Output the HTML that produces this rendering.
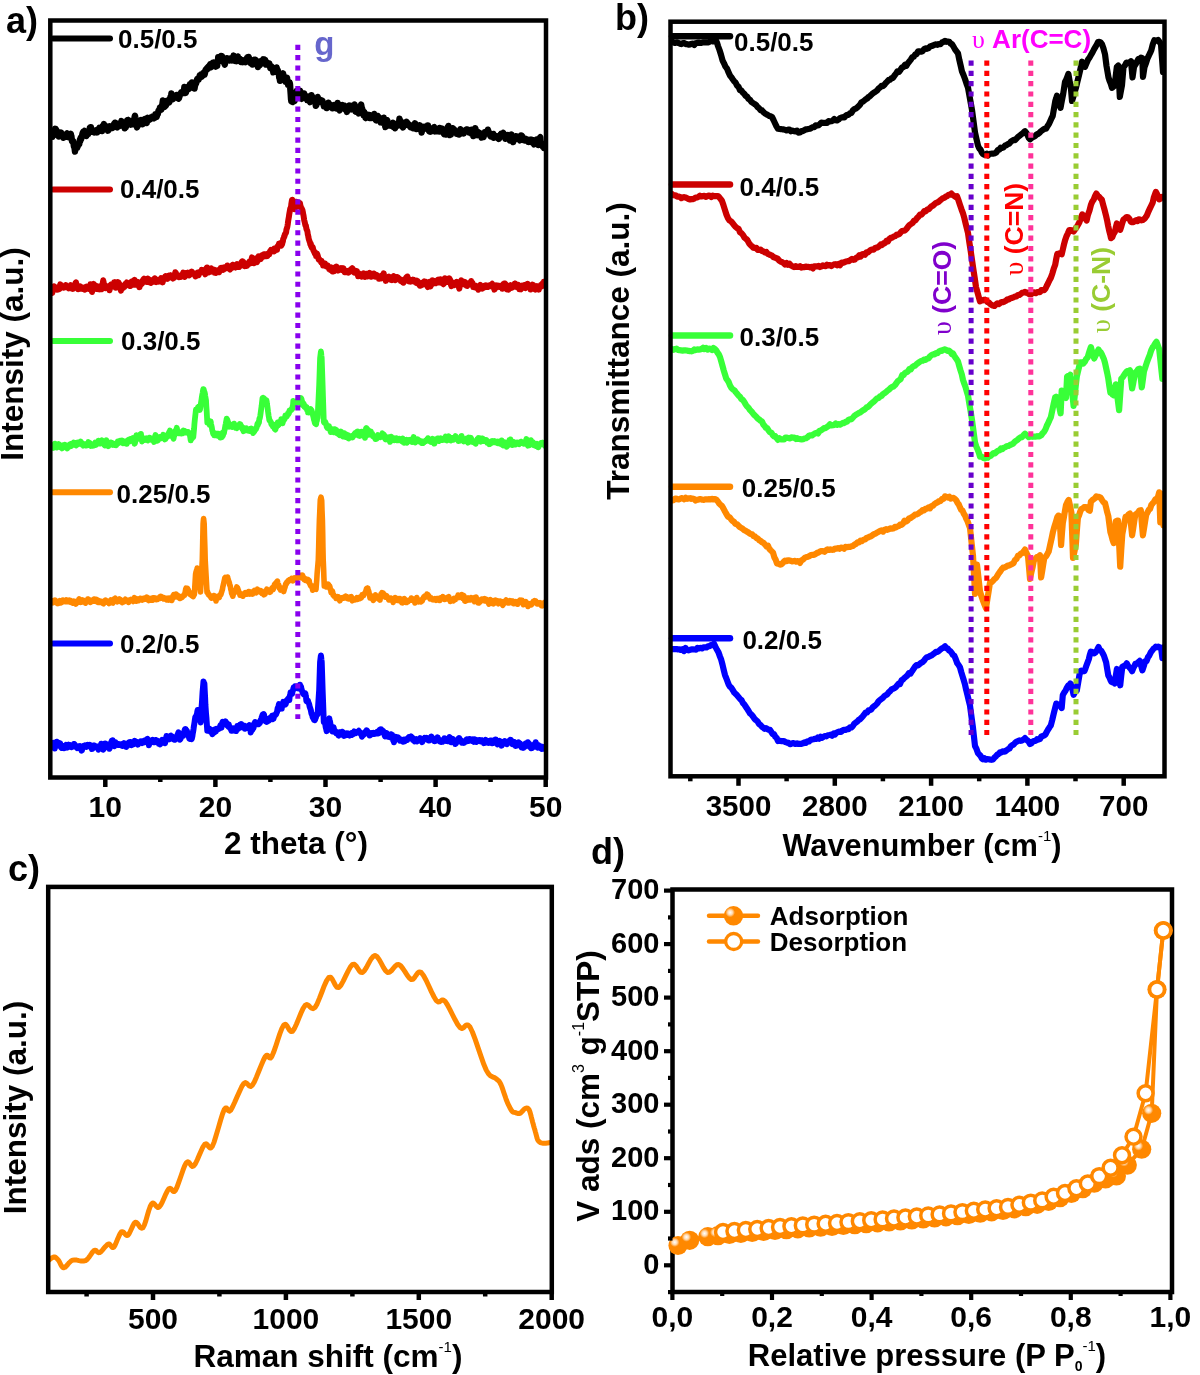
<!DOCTYPE html>
<html><head><meta charset="utf-8"><style>
html,body{margin:0;padding:0;background:#fff;}
svg{display:block;will-change:transform;}
text{-webkit-font-smoothing:antialiased;}
body{-webkit-font-smoothing:antialiased;}
</style></head><body>
<svg width="1200" height="1375" viewBox="0 0 1200 1375">
<rect width="1200" height="1375" fill="#fff"/>
<defs>
<clipPath id="clipA"><rect x="50.3" y="20.5" width="495.7" height="757.0"/></clipPath>
<clipPath id="clipB"><rect x="670.5" y="21.7" width="494.0" height="754.5999999999999"/></clipPath>
<clipPath id="clipD"><rect x="672.5" y="889.5" width="499.5" height="402.5"/></clipPath>
</defs>
<g clip-path="url(#clipA)">
<path d="M52 136.5 L52.4 136.7 L52.8 135.3 L53.1 135.3 L53.5 131.6 L53.9 133 L54.2 130.5 L54.6 130.5 L55 128.8 L55.4 129.3 L55.8 129.1 L56.1 130.3 L56.5 130.3 L56.9 131.6 L57.2 132.2 L57.6 132.5 L58 135.5 L58.3 135.2 L58.6 133.3 L58.9 136.5 L59.2 135.1 L59.6 135.6 L59.9 134.8 L60.2 134.3 L60.5 134.5 L60.8 133.8 L61.1 132.6 L61.4 133.7 L61.8 133.9 L62.1 136.1 L62.4 135.1 L62.7 135.4 L63 137.1 L63.3 137.8 L63.7 136.2 L64 136.2 L64.3 137.1 L64.7 136.7 L65 136.9 L65.3 136.2 L65.7 136.1 L66 135.6 L66.3 134.8 L66.7 133.7 L67 133.4 L67.3 134.2 L67.6 135 L67.9 135.7 L68.2 135.2 L68.6 135.2 L68.9 137.2 L69.2 136.7 L69.5 137 L69.8 135.3 L70.1 135.6 L70.4 134.7 L70.8 133.9 L71.1 135.5 L71.4 136.1 L71.7 138.9 L72 141.2 L72.4 140.2 L72.8 141.5 L73.1 141.1 L73.5 143.3 L73.9 146.3 L74.2 145.4 L74.6 148.2 L75 151.5 L75.3 149.3 L75.7 147.8 L76 144.6 L76.3 146.4 L76.7 147.4 L77 148 L77.4 147 L77.8 145.9 L78.1 145.6 L78.5 144.5 L78.9 143.7 L79.2 144.1 L79.6 141.7 L80 139.3 L80.4 140.7 L80.8 137.8 L81.1 139.3 L81.5 137.4 L81.9 136.3 L82.2 135 L82.6 133.1 L83 132.3 L83.4 131.6 L83.8 131.5 L84.1 131.4 L84.5 130.9 L84.9 132 L85.2 133.9 L85.6 134.1 L86 135 L86.4 136 L86.8 133.9 L87.1 133.5 L87.5 131.6 L87.9 132.2 L88.2 134 L88.6 132.1 L89 131.2 L89.4 130.8 L89.8 128.1 L90.1 128.3 L90.5 127.2 L90.9 127.2 L91.2 130.6 L91.6 131.6 L92 131.3 L92.4 131.5 L92.8 130 L93.1 131.1 L93.5 131.1 L93.9 132.1 L94.2 132.4 L94.6 131.7 L95 131.5 L95.4 130.5 L95.7 130.3 L96.1 131 L96.4 130.6 L96.8 130.5 L97.1 132.4 L97.5 131.9 L97.9 131.7 L98.2 130.8 L98.6 130.3 L98.9 128.7 L99.3 127.9 L99.6 129.2 L100 128.4 L100.4 128.7 L100.7 130.1 L101.1 129 L101.4 130.5 L101.8 129.5 L102.1 131 L102.5 129 L102.9 126 L103.2 127.6 L103.6 125.3 L103.9 124 L104.3 126.1 L104.6 126.5 L105 125.5 L105.4 126 L105.8 126.9 L106.1 127.5 L106.5 127.2 L106.9 128.6 L107.2 129.8 L107.6 127.8 L108 130.7 L108.4 130.3 L108.8 126.5 L109.1 128.4 L109.5 127.3 L109.9 126.2 L110.2 126.9 L110.6 126.7 L111 127.9 L111.4 127.8 L111.8 127.8 L112.1 126.8 L112.5 128 L112.9 126.7 L113.2 127.4 L113.6 126.2 L114 124 L114.4 123.3 L114.8 123.9 L115.1 122.7 L115.5 122.8 L115.9 124.4 L116.2 125 L116.6 124.8 L117 126.5 L117.4 127.3 L117.8 125 L118.1 126.2 L118.5 124.3 L118.9 125.4 L119.2 124.7 L119.6 125.9 L120 123.9 L120.4 125.2 L120.7 124.8 L121.1 122.3 L121.4 121.1 L121.8 122.3 L122.2 122.8 L122.5 122.4 L122.9 124.2 L123.2 123 L123.6 126.3 L124 125 L124.3 126.4 L124.7 128.3 L125.1 126.3 L125.4 125.7 L125.8 127.3 L126.1 124.9 L126.5 123.1 L126.9 122 L127.2 120.4 L127.6 120.1 L127.9 120 L128.3 122.3 L128.7 120.1 L129 122.3 L129.4 120.8 L129.8 123.2 L130.1 122.2 L130.5 123.3 L130.8 124.7 L131.2 124 L131.6 123.1 L131.9 124 L132.3 123.9 L132.6 124.2 L133 122.5 L133.3 122.2 L133.7 121.5 L134 119.4 L134.3 118.7 L134.7 116.5 L135 115.7 L135.3 117.7 L135.7 120 L136 121.8 L136.3 124.1 L136.7 125.8 L137 127.4 L137.4 126.4 L137.8 124.9 L138.1 125.5 L138.5 125.1 L138.9 124.2 L139.2 122.2 L139.6 123.3 L140 121.6 L140.4 120.2 L140.8 121.2 L141.2 120 L141.6 121.6 L142 123.1 L142.4 124.2 L142.8 123.4 L143.2 122.9 L143.5 123.1 L143.8 123.3 L144.2 121 L144.5 120.8 L144.8 119.1 L145.2 120.5 L145.6 120.4 L146 120 L146.4 121.8 L146.8 123 L147.2 119.6 L147.6 117.8 L148 120.7 L148.4 119.3 L148.8 118.5 L149.1 118.7 L149.5 118 L149.9 119.6 L150.2 118.7 L150.6 117.5 L151 117.3 L151.4 117.1 L151.8 118.3 L152.1 116.9 L152.5 118.2 L152.9 116.6 L153.2 117.3 L153.6 117.9 L154 118.3 L154.4 117.8 L154.8 117.8 L155.1 117.1 L155.5 114.1 L155.9 116.4 L156.2 115.5 L156.6 117 L157 115.5 L157.4 113.8 L157.8 114.1 L158.1 112.8 L158.5 110.7 L158.9 110.6 L159.2 110.1 L159.6 109.8 L160 107.4 L160.4 108 L160.7 109.3 L161.1 109.7 L161.4 109.1 L161.8 106 L162.1 106.7 L162.5 103.1 L162.9 100.4 L163.2 104 L163.6 104.8 L163.9 106 L164.3 107 L164.6 106.6 L165 105 L165.4 105.7 L165.7 105.8 L166.1 105 L166.4 103.8 L166.8 101.4 L167.1 100.7 L167.5 101.5 L167.9 102.3 L168.2 102.3 L168.6 102.1 L168.9 101.8 L169.3 102.3 L169.6 101.1 L170 100.8 L170.4 97.3 L170.7 97.3 L171.1 97.2 L171.4 93.4 L171.8 95.2 L172.1 95.7 L172.5 99.3 L172.9 99.2 L173.2 98 L173.6 98 L173.9 97.1 L174.3 97.4 L174.6 97.6 L175 97.4 L175.4 96.9 L175.7 97.3 L176.1 97.3 L176.4 97.6 L176.8 94.9 L177.1 96.8 L177.5 97.1 L177.9 97.7 L178.2 97.9 L178.6 98.6 L178.9 98.3 L179.3 97.1 L179.6 96.2 L180 94.3 L180.4 93.7 L180.7 93.8 L181.1 92.6 L181.5 93.3 L181.8 93 L182.2 92.1 L182.6 91.9 L182.9 93.2 L183.3 91.6 L183.7 92.6 L184 89.9 L184.4 86.9 L184.8 88.6 L185.1 89.5 L185.5 91.1 L185.8 92.9 L186.2 91.6 L186.6 89.6 L186.9 89.3 L187.3 87.6 L187.7 89.3 L188 86.9 L188.4 89.3 L188.8 88.9 L189.1 86.6 L189.5 86.7 L189.9 84.3 L190.2 84.6 L190.6 86.9 L191 85.4 L191.3 85.7 L191.7 84.9 L192 82.4 L192.4 84.2 L192.7 83.9 L193.1 84.2 L193.4 83.8 L193.8 83.9 L194.1 88.5 L194.5 88.6 L194.8 86.8 L195.2 85.1 L195.5 84.7 L195.8 82.4 L196.2 83.3 L196.5 81.6 L196.9 80.3 L197.2 79 L197.6 79.1 L197.9 79.1 L198.3 78.5 L198.6 79.6 L199 78.1 L199.3 77 L199.7 75.5 L200 76.6 L200.4 76.9 L200.8 76.6 L201.1 74.5 L201.5 76.1 L201.9 76.6 L202.2 75.1 L202.6 75.6 L203 73.3 L203.4 74.8 L203.8 74.9 L204.1 72.5 L204.5 74.7 L204.9 73.4 L205.2 71.5 L205.6 69.7 L206 70.4 L206.3 69 L206.7 69.9 L207.1 68.1 L207.4 67.6 L207.8 68.3 L208.1 68.4 L208.5 66.6 L208.8 67 L209.2 66.9 L209.5 65.4 L209.8 65.3 L210.2 64.4 L210.5 66.3 L210.9 67.3 L211.2 66.5 L211.6 65.9 L211.9 65 L212.3 64.6 L212.7 64.9 L213 62.6 L213.3 64.7 L213.7 62.4 L214.1 63.6 L214.4 64.9 L214.8 65.5 L215.1 63.7 L215.5 64.9 L215.8 66.7 L216.2 65.3 L216.5 62.1 L216.8 64.2 L217.2 65.9 L217.5 61.1 L217.9 61.5 L218.2 57.2 L218.6 59 L218.9 57.7 L219.3 60.1 L219.7 61.1 L220 58.7 L220.4 58.6 L220.8 59 L221.2 56 L221.6 56.1 L222 56.2 L222.4 59.2 L222.8 58.5 L223.2 59 L223.5 61.3 L223.8 62.7 L224.2 62.3 L224.5 63.6 L224.8 64.7 L225.2 62.6 L225.6 60.8 L226 61.2 L226.4 59.3 L226.8 58.2 L227.2 60.2 L227.6 59.7 L228 59.3 L228.3 58.7 L228.7 59.4 L229.1 60.3 L229.4 60.4 L229.8 59 L230.1 58.8 L230.5 59.7 L230.8 59.4 L231.2 59.9 L231.5 58 L231.8 59.8 L232.2 60.4 L232.5 59.2 L232.9 57.9 L233.2 58.1 L233.6 55.6 L233.9 57.2 L234.3 60.4 L234.7 58 L235 59.3 L235.4 61.1 L235.7 59.7 L236.1 59.8 L236.4 59.2 L236.8 61.2 L237.1 58.6 L237.5 58.4 L237.9 56.5 L238.2 59.2 L238.6 58.8 L238.9 59.6 L239.3 61 L239.6 59.9 L240 59 L240.4 59.4 L240.7 60.7 L241.1 62.1 L241.4 60.1 L241.8 61.2 L242.1 61.6 L242.5 62 L242.9 60.3 L243.2 61.1 L243.6 61.3 L243.9 60.8 L244.3 61 L244.6 61.8 L245 62.1 L245.4 62.2 L245.7 59.6 L246.1 61.2 L246.5 59.5 L246.8 58.3 L247.2 58.4 L247.6 57.4 L247.9 58 L248.3 59.5 L248.7 56.9 L249 58.2 L249.4 60.4 L249.8 60.3 L250.1 62.2 L250.5 61.2 L250.8 63.2 L251.2 60.9 L251.6 62.6 L251.9 64 L252.3 64.5 L252.7 64.5 L253 62.6 L253.4 61.4 L253.8 61.5 L254.1 59.8 L254.5 62.4 L254.9 61.9 L255.2 59.7 L255.6 62.7 L256 60.4 L256.3 62.6 L256.7 61.9 L257 61.9 L257.4 64.6 L257.7 64.1 L258 67 L258.4 65 L258.7 65.8 L259 65.2 L259.4 65.6 L259.7 63.9 L260 64.1 L260.3 62.9 L260.7 61.3 L261 61.5 L261.3 63.8 L261.7 61.9 L262 62.5 L262.4 62.9 L262.8 61.4 L263.2 59.3 L263.5 59.9 L263.9 59.9 L264.3 59.6 L264.7 60.9 L265.1 59.9 L265.5 61.5 L265.9 61.4 L266.2 64.6 L266.6 63.8 L267 64.4 L267.4 64.2 L267.8 64.5 L268.2 63.7 L268.5 65.1 L268.9 65.1 L269.3 63.4 L269.7 66.4 L270.1 65.5 L270.4 68.1 L270.8 68.1 L271.1 68.1 L271.5 66.4 L271.9 66.9 L272.2 67.9 L272.6 68.8 L272.9 68.6 L273.3 72.3 L273.6 71.6 L274 71.8 L274.4 70.3 L274.8 70.2 L275.1 69.5 L275.5 68.6 L275.9 69 L276.2 69.8 L276.6 67.4 L277 69.2 L277.4 71.2 L277.8 70.2 L278.1 72.5 L278.5 73.5 L278.9 74.3 L279.2 77.7 L279.6 78.1 L280 80.9 L280.4 79.3 L280.7 77.7 L281 77.2 L281.4 75.6 L281.8 74 L282.1 76.2 L282.4 74.7 L282.8 74.9 L283.1 73.3 L283.5 76.9 L283.9 77.8 L284.2 78.1 L284.6 77.2 L284.9 80.1 L285.2 80.4 L285.6 81.8 L286 80.9 L286.3 79 L286.6 78.7 L287 77.7 L287.4 80.7 L287.8 80.9 L288.1 84.7 L288.5 83.2 L288.9 84 L289.2 85.1 L289.6 82.4 L290 84.2 L290.3 88.8 L290.7 93.9 L291 99 L291.3 101.1 L291.7 100.1 L292 101.5 L292.3 101.4 L292.7 101.9 L293 98.8 L293.4 99.4 L293.8 99.5 L294.1 100.3 L294.5 101 L294.9 99.1 L295.2 96.1 L295.6 95.5 L296 92.1 L296.3 92.6 L296.7 91.1 L297 92.4 L297.3 90.8 L297.7 93.9 L298 95.1 L298.3 97.4 L298.7 96.7 L299 94.5 L299.3 94.8 L299.7 92.9 L300 90.6 L300.3 91.8 L300.6 95.7 L300.9 95.1 L301.2 98.4 L301.6 98.8 L301.9 96.6 L302.2 96.3 L302.5 95.4 L302.8 95.1 L303.1 95.3 L303.4 94.6 L303.8 93.4 L304.1 93.4 L304.4 95.1 L304.7 95.6 L305 97.4 L305.3 98.4 L305.6 98.2 L305.9 97.2 L306.2 98.2 L306.6 98.3 L306.9 98.1 L307.2 99.9 L307.5 99.5 L307.8 99.2 L308.1 97.8 L308.4 96.5 L308.8 98.2 L309.1 100.7 L309.4 100.4 L309.7 101.5 L310 102.1 L310.4 101 L310.8 98.8 L311.2 98.6 L311.5 95.2 L311.9 96.2 L312.3 98.8 L312.7 99.2 L313.1 100.3 L313.5 100.4 L313.9 100.1 L314.2 100.7 L314.6 101.2 L315 102.1 L315.4 101.5 L315.8 105.7 L316.2 105.3 L316.6 103.2 L317 101.4 L317.3 99.1 L317.7 97 L318.1 98.7 L318.5 100.6 L318.9 100.5 L319.3 102.2 L319.7 100.3 L320 101.8 L320.4 99.8 L320.8 101.1 L321.2 100.2 L321.6 100.7 L322 100.5 L322.4 100.8 L322.8 102.6 L323.1 102.7 L323.5 104.2 L323.9 106.3 L324.3 104.5 L324.7 104.9 L325.1 105.1 L325.5 104.6 L325.8 105.8 L326.2 106.7 L326.6 108.1 L327 107.2 L327.4 106.6 L327.8 105.6 L328.2 105.7 L328.5 102.6 L328.9 104.2 L329.3 105.3 L329.7 105.6 L330.1 105 L330.4 105.2 L330.8 105 L331.2 106.7 L331.6 107.5 L332 106.3 L332.4 108.3 L332.8 107.6 L333.1 107.1 L333.5 106.2 L333.9 106.4 L334.3 105.1 L334.7 105.2 L335.1 105.1 L335.4 107.4 L335.8 105.8 L336.2 107.1 L336.6 108.6 L337 106.9 L337.4 106.3 L337.7 103 L338.1 105.9 L338.5 107.7 L338.9 109.2 L339.3 109.7 L339.6 110.3 L340 108.5 L340.4 106.1 L340.8 108.6 L341.2 106.4 L341.6 107.3 L341.9 105.5 L342.3 105.1 L342.7 107 L343.1 107.2 L343.5 106.1 L343.9 107.2 L344.2 106.1 L344.6 105.8 L345 109 L345.4 107.4 L345.8 109.6 L346.2 110.4 L346.6 110.3 L346.9 111.9 L347.3 109.9 L347.7 108.8 L348.1 107.5 L348.5 106.9 L348.9 106.8 L349.2 105.5 L349.6 106.2 L350 105.9 L350.4 109.4 L350.7 108.6 L351.1 107.5 L351.4 109.4 L351.8 106.6 L352.1 107.6 L352.5 108.5 L352.9 106.3 L353.2 107.1 L353.6 105.3 L353.9 105.7 L354.3 105.3 L354.6 104.5 L355 107.3 L355.4 111.3 L355.7 110.4 L356.1 111.7 L356.4 111.6 L356.8 109.5 L357.1 109.9 L357.5 110.3 L357.9 110.4 L358.2 112.5 L358.6 113.3 L358.9 111 L359.3 110.4 L359.6 108.6 L360 108.4 L360.4 107.9 L360.7 106.2 L361.1 104.5 L361.4 105.9 L361.8 108.4 L362.1 108.4 L362.5 111.2 L362.9 112.4 L363.2 110.8 L363.6 115.2 L363.9 113.6 L364.3 112.2 L364.6 115.6 L365 116.1 L365.4 117.7 L365.7 118 L366.1 117.4 L366.4 117.8 L366.8 115.9 L367.1 115.9 L367.5 114.8 L367.9 114.8 L368.2 116.1 L368.6 116.2 L368.9 114.9 L369.3 117 L369.6 117.9 L370 116.2 L370.4 116.6 L370.8 118.1 L371.2 115.4 L371.5 116.2 L371.9 116.8 L372.3 116.6 L372.7 117 L373.1 117.8 L373.5 116.9 L373.8 116.1 L374.2 114 L374.6 114.9 L375 115.1 L375.4 118.3 L375.8 120.1 L376.2 120.3 L376.5 116.8 L376.9 119 L377.3 117.6 L377.7 115.9 L378.1 116.2 L378.5 118.5 L378.8 117.3 L379.2 118.2 L379.6 119.1 L380 120.6 L380.4 118.1 L380.8 122.4 L381.2 120.8 L381.5 121.5 L381.9 122.6 L382.3 122.7 L382.7 119.3 L383.1 121 L383.5 119.4 L383.8 117.7 L384.2 119.9 L384.6 120.8 L385 124.7 L385.4 127.1 L385.8 123.9 L386.2 122.8 L386.5 120.6 L386.9 120 L387.3 120.6 L387.7 122.5 L388.1 124.9 L388.5 125.2 L388.8 125.4 L389.2 123.8 L389.6 125.6 L390 124.4 L390.4 123.9 L390.8 125.1 L391.2 124 L391.6 125.9 L392 123.9 L392.4 123.5 L392.8 124.4 L393.2 122.8 L393.6 125.4 L393.9 127.1 L394.3 126.5 L394.7 127.1 L395.1 128.2 L395.5 125.7 L395.9 126.6 L396.3 125.3 L396.7 125.9 L397.1 124.7 L397.5 125.8 L397.9 125.5 L398.3 125.4 L398.7 122.3 L399.1 121.8 L399.5 118.7 L399.9 120.2 L400.3 121.8 L400.7 121 L401.1 122.7 L401.4 123.1 L401.8 125.5 L402.2 126.7 L402.6 126.8 L403 127.4 L403.4 125.8 L403.8 125.9 L404.2 125.8 L404.6 125.2 L405 124.7 L405.4 125.1 L405.8 122.4 L406.2 123.1 L406.6 121.8 L407 124.5 L407.4 122.9 L407.8 123.6 L408.2 123.9 L408.6 125 L408.9 124.6 L409.3 125.2 L409.7 126.1 L410.1 126.3 L410.5 127.2 L410.9 126.3 L411.3 126.5 L411.7 125.8 L412.1 127.6 L412.5 128 L412.9 128.2 L413.3 128.3 L413.7 127.8 L414.1 127.9 L414.5 125.1 L414.9 123.3 L415.3 123.5 L415.7 127 L416.1 126.9 L416.4 129.1 L416.8 128.1 L417.2 128.9 L417.6 128.6 L418 127.3 L418.4 125.9 L418.8 126.8 L419.2 125.6 L419.6 127.8 L420 125.3 L420.4 126.8 L420.8 128.7 L421.2 129.1 L421.6 132.5 L422 130.7 L422.4 128.6 L422.8 129.9 L423.2 128.7 L423.6 127.1 L423.9 128.7 L424.3 128.3 L424.7 126.7 L425.1 126.7 L425.5 127.4 L425.9 128.2 L426.3 128.6 L426.7 128.5 L427.1 126.6 L427.5 125.4 L427.9 125.4 L428.3 129.4 L428.7 130.1 L429.1 131.3 L429.5 131.4 L429.9 131.4 L430.3 131.7 L430.7 131.6 L431.1 131.2 L431.4 129.9 L431.8 129.3 L432.2 130.3 L432.6 129.7 L433 130.9 L433.4 128.4 L433.8 127.3 L434.2 127.1 L434.6 129.3 L435 131.4 L435.4 130.1 L435.8 130.2 L436.2 130.6 L436.6 131.1 L437 130.1 L437.4 129.4 L437.8 129.7 L438.2 129 L438.6 129.6 L438.9 130.3 L439.3 131.5 L439.7 127.9 L440.1 129.4 L440.5 130.3 L440.9 129.6 L441.3 129.6 L441.7 129.3 L442.1 128.5 L442.5 130.8 L442.9 132.4 L443.3 131.8 L443.7 133.4 L444.1 134.1 L444.5 132.6 L444.9 133.2 L445.3 132.2 L445.7 134.6 L446.1 134.5 L446.4 132.6 L446.8 134.4 L447.2 131.6 L447.6 127.5 L448 127.8 L448.4 125.9 L448.8 128.2 L449.2 130.5 L449.6 131.5 L450 135.1 L450.4 133.7 L450.8 134.6 L451.2 132.2 L451.6 129.4 L452 132.8 L452.4 131 L452.8 128.2 L453.2 128.7 L453.6 128.8 L453.9 130.7 L454.3 129.5 L454.7 131.4 L455.1 130.6 L455.5 132.6 L455.9 131.8 L456.3 132 L456.7 133.7 L457.1 133 L457.5 133.7 L457.9 131.8 L458.3 132.2 L458.7 132.7 L459.1 134.6 L459.5 133.1 L459.9 130.9 L460.3 129.2 L460.7 133.3 L461.1 131.6 L461.4 130.1 L461.8 132.1 L462.2 132 L462.6 133.1 L463 131.9 L463.4 131.7 L463.8 133.4 L464.2 131.9 L464.6 132.2 L465 131.3 L465.4 131.2 L465.8 130.1 L466.2 129.5 L466.6 129.4 L467 130.3 L467.4 129.6 L467.8 129.7 L468.2 130.4 L468.6 130.8 L468.9 130.8 L469.3 132.5 L469.7 131.2 L470.1 131.6 L470.5 131.1 L470.9 132.8 L471.3 133.4 L471.7 129.8 L472.1 133.5 L472.5 132.8 L472.9 135.2 L473.3 136.1 L473.7 136 L474.1 133.9 L474.5 133 L474.9 133.6 L475.3 128.1 L475.7 129.9 L476.1 131.1 L476.4 132.2 L476.8 134.5 L477.2 135 L477.6 132.9 L478 133 L478.4 132.1 L478.8 134 L479.2 132.8 L479.6 133.7 L480 133.2 L480.4 135 L480.8 134.6 L481.2 134.5 L481.6 137.6 L482 134.1 L482.4 136 L482.8 135.6 L483.2 135.1 L483.6 137.1 L483.9 134.8 L484.3 133.4 L484.7 132.2 L485.1 133.2 L485.5 132.7 L485.9 132.3 L486.3 131.8 L486.7 133.4 L487.1 131.8 L487.5 131.1 L487.9 129.7 L488.3 130.9 L488.7 133 L489.1 132.5 L489.5 134.5 L489.9 134.6 L490.3 135.8 L490.7 136.6 L491.1 136.6 L491.4 136 L491.8 135.4 L492.2 135.3 L492.6 136.1 L493 135.3 L493.4 133.9 L493.8 137.7 L494.2 136.2 L494.6 135.7 L495 136.5 L495.4 136.4 L495.8 136.7 L496.2 136.4 L496.6 136.3 L497 137.3 L497.4 137.6 L497.8 136.6 L498.2 138.4 L498.6 138.2 L498.9 138.9 L499.3 137.4 L499.7 136.8 L500.1 136.7 L500.5 134.5 L500.9 135.1 L501.3 133.7 L501.7 135.2 L502.1 134.2 L502.5 134.4 L502.9 133.5 L503.3 133 L503.7 134.4 L504.1 134.3 L504.5 135.7 L504.9 137.2 L505.3 138.8 L505.7 137.8 L506.1 136.1 L506.4 135.5 L506.8 136.7 L507.2 135.6 L507.6 135.7 L508 135.2 L508.4 136.9 L508.8 137.2 L509.2 137 L509.6 136.6 L510 140.5 L510.4 137.5 L510.8 136.1 L511.2 135.9 L511.6 134.5 L512 137 L512.4 138 L512.8 138.9 L513.2 142 L513.6 140.1 L513.9 138.7 L514.3 140.1 L514.7 138.8 L515.1 137.7 L515.5 136.6 L515.9 136.9 L516.3 136.3 L516.7 136.5 L517.1 136.5 L517.5 138.1 L517.9 137.9 L518.3 138.2 L518.7 139.4 L519.1 139.5 L519.5 139.6 L519.9 140.3 L520.3 139.8 L520.7 136.8 L521.1 135.6 L521.4 136 L521.8 135.8 L522.2 137.8 L522.6 136.7 L523 139.4 L523.4 140 L523.8 139 L524.2 139.3 L524.6 138.8 L525 140.5 L525.4 140 L525.8 138.7 L526.2 139.2 L526.6 140.4 L527 139.5 L527.4 140.3 L527.8 140.4 L528.2 141.8 L528.6 140.7 L528.9 142 L529.3 141.7 L529.7 141.5 L530.1 139.7 L530.5 139.9 L530.9 142.1 L531.3 139.8 L531.7 139.7 L532.1 140.5 L532.5 140.2 L532.9 141.3 L533.3 142.5 L533.7 143.5 L534.1 144.4 L534.5 142.2 L534.9 142.7 L535.3 142.9 L535.7 141.8 L536.1 142.2 L536.4 143 L536.8 139.5 L537.2 141 L537.6 142.5 L538 143.8 L538.4 145 L538.8 143.9 L539.2 143.1 L539.6 141.8 L540 137.5 L540.3 137.2 L540.6 141.8 L540.9 141.8 L541.2 142.8 L541.6 144.7 L541.9 144.2 L542.2 144.7 L542.5 144.7 L542.8 146.7 L543.1 147.1 L543.4 146 L543.8 146.6 L544.1 148 L544.4 146 L544.7 146.1 L545 145.6" fill="none" stroke="#000000" stroke-width="6.4" stroke-linejoin="round" stroke-linecap="round" />
<path d="M52 291 L52.3 293 L52.6 290.3 L53 288.8 L53.3 286.8 L53.6 288.2 L53.9 286.3 L54.2 288.8 L54.6 288.8 L54.9 288.4 L55.2 288.2 L55.6 288.6 L56 287.4 L56.4 288.9 L56.8 289.6 L57.1 289.2 L57.4 289.6 L57.8 288.4 L58.1 289.5 L58.4 288.7 L58.7 288.3 L59 288.5 L59.4 289.1 L59.7 286.3 L60 285.5 L60.3 284.3 L60.6 286.3 L61 285.8 L61.3 285.8 L61.6 286.1 L61.9 287.2 L62.2 286.7 L62.6 287.4 L62.9 286.6 L63.2 286.6 L63.6 287.7 L64 287 L64.4 286.8 L64.8 287.2 L65.1 286.3 L65.4 285.4 L65.8 285.7 L66.1 285.1 L66.4 286.8 L66.8 286.3 L67.2 287.2 L67.6 287.6 L68 286.4 L68.4 287.3 L68.8 288.3 L69.2 287.4 L69.6 288.2 L69.9 287.1 L70.2 286.3 L70.6 286.6 L70.9 285.1 L71.2 286.9 L71.6 286.6 L72 288.6 L72.4 287.2 L72.8 288.9 L73.1 288.7 L73.4 287.9 L73.8 288 L74.1 286.8 L74.4 286.1 L74.8 284.7 L75.2 284.2 L75.6 282.8 L76 282.4 L76.4 283.9 L76.8 285.7 L77.2 287.6 L77.6 288.6 L77.9 289.3 L78.2 289.3 L78.6 287.4 L78.9 287.7 L79.2 287.8 L79.6 286.6 L80 287.1 L80.4 286.5 L80.8 288.6 L81.1 288.2 L81.4 288.3 L81.8 287.2 L82.1 288.6 L82.4 288.3 L82.8 288.8 L83.2 288 L83.6 288.6 L84 287.8 L84.4 288.6 L84.8 289.7 L85.2 287.1 L85.6 287 L86 288.1 L86.4 287.9 L86.8 286.6 L87.2 286.9 L87.5 287.2 L87.8 287.7 L88.2 288.7 L88.5 287.4 L88.8 288.9 L89.2 287.7 L89.6 286.2 L90 286.4 L90.4 284.2 L90.8 285.4 L91.2 288.8 L91.6 288.4 L92 292 L92.4 290.2 L92.8 287.7 L93.2 286.2 L93.6 283.9 L93.9 286 L94.2 285.2 L94.6 288.1 L94.9 285.9 L95.2 287.7 L95.6 285.5 L96 287.5 L96.4 289 L96.8 287.7 L97.1 287.4 L97.4 287.8 L97.8 288.6 L98.1 289 L98.4 288.2 L98.8 286.5 L99.2 288.2 L99.6 288.6 L100 289.4 L100.4 288 L100.8 288.3 L101.2 288 L101.6 289.3 L102 288.3 L102.4 284.1 L102.8 283.1 L103.2 280.3 L103.6 282.1 L103.9 284 L104.3 286 L104.7 286.4 L105.1 286.8 L105.5 288.1 L105.9 287.3 L106.3 287.4 L106.7 287 L107.1 286.4 L107.5 286.7 L107.9 286.6 L108.3 287 L108.7 288.7 L109.1 288.7 L109.5 290.3 L109.9 288.4 L110.3 287.8 L110.7 285.5 L111.1 284.4 L111.4 284.3 L111.8 286.6 L112.2 286.4 L112.6 286.5 L113 285.9 L113.4 283.8 L113.8 283.7 L114.2 282.3 L114.6 282.1 L115 284.5 L115.4 285 L115.8 287.8 L116.2 285.2 L116.6 284.4 L117 284.8 L117.4 283.1 L117.8 282 L118.2 283.2 L118.6 282.4 L118.9 284.4 L119.3 283.9 L119.7 285.9 L120.1 286 L120.5 289.4 L120.9 290.7 L121.3 288.3 L121.7 286.8 L122.1 287.1 L122.5 286.2 L122.9 286.1 L123.3 287.8 L123.7 287 L124.1 286.7 L124.5 286.8 L124.9 284.7 L125.3 283.9 L125.7 285.4 L126.1 284.3 L126.4 283.3 L126.8 282.4 L127.2 283.2 L127.6 283.2 L128 283.1 L128.4 283.4 L128.8 283.5 L129.2 284 L129.6 286 L130 285.3 L130.4 285.9 L130.8 283.6 L131.2 281.9 L131.5 281.6 L131.9 281.3 L132.3 282.5 L132.7 283.4 L133.1 284.7 L133.5 284.3 L133.8 284.5 L134.2 282.2 L134.6 279.9 L135 280.9 L135.4 280.9 L135.8 283.8 L136.2 284.7 L136.5 283.6 L136.9 283 L137.3 282.5 L137.7 281.8 L138.1 283.2 L138.5 284.1 L138.8 284.3 L139.2 287.2 L139.6 287.1 L140 284.2 L140.4 285 L140.8 283.9 L141.2 284.4 L141.5 283 L141.9 283.7 L142.3 282.6 L142.7 280.7 L143.1 279.9 L143.5 279.2 L143.8 279.4 L144.2 278.6 L144.6 280.2 L145 279.1 L145.4 281.6 L145.8 281.4 L146.2 280.3 L146.5 280.9 L146.9 281.9 L147.3 281.5 L147.7 278.5 L148.1 280.5 L148.5 281 L148.8 280 L149.2 279.7 L149.6 282.4 L150 282.1 L150.4 282.3 L150.8 282.9 L151.2 281.6 L151.6 282.3 L152 281.4 L152.4 280.8 L152.8 281 L153.2 279.8 L153.6 281.7 L153.9 280.6 L154.3 280.6 L154.7 278.3 L155.1 280 L155.5 280.5 L155.9 281.3 L156.3 282 L156.7 280.4 L157.1 279.7 L157.5 280.7 L157.9 281.2 L158.3 281.5 L158.7 280 L159.1 280 L159.5 281.3 L159.9 280.9 L160.3 281.4 L160.7 279.1 L161.1 278.1 L161.4 280.4 L161.8 279.7 L162.2 280.4 L162.6 282.4 L163 280.9 L163.4 279.2 L163.8 278.9 L164.2 277.9 L164.6 277.6 L165 276.7 L165.4 277.4 L165.8 276.2 L166.2 276.4 L166.6 278.3 L167 277.1 L167.4 278.9 L167.8 278.4 L168.2 277.2 L168.6 277.2 L168.9 275.5 L169.3 276.7 L169.7 275.4 L170.1 275.3 L170.5 276 L170.9 275.5 L171.3 276.5 L171.7 277 L172.1 277.9 L172.5 277.7 L172.9 278.5 L173.3 277.4 L173.7 278 L174.1 277.4 L174.5 276.5 L174.9 274.5 L175.3 272.3 L175.7 272.7 L176.1 273.7 L176.4 276.3 L176.8 275.5 L177.2 276 L177.6 276.5 L178 276.3 L178.4 275.2 L178.8 277.3 L179.2 275.8 L179.6 275.8 L180 276.2 L180.4 275.6 L180.8 276.8 L181.2 276.4 L181.6 276.2 L182 275.1 L182.4 275.1 L182.8 273.8 L183.2 272.6 L183.6 273.2 L183.9 274.1 L184.3 275.8 L184.7 276.9 L185.1 275.3 L185.5 275.2 L185.9 273 L186.3 273.1 L186.7 273.5 L187.1 273.4 L187.5 274.8 L187.9 272.6 L188.3 274.5 L188.7 274.4 L189.1 275.4 L189.5 273 L189.9 273.6 L190.3 274.3 L190.7 273.7 L191.1 272.1 L191.4 272.4 L191.8 271.6 L192.2 272.4 L192.6 272.7 L193 273.6 L193.4 273.3 L193.8 273.9 L194.2 274.4 L194.6 273.6 L195 275.5 L195.4 276.4 L195.8 276.2 L196.2 275 L196.6 275.3 L197 274.8 L197.4 274.6 L197.8 272.5 L198.2 273.4 L198.6 275.2 L198.9 274.4 L199.3 273 L199.7 272.7 L200.1 272.5 L200.5 271.7 L200.9 271.6 L201.3 271.4 L201.7 269.9 L202.1 270.2 L202.5 270.9 L202.9 270.1 L203.3 271.2 L203.7 270.7 L204.1 272.6 L204.5 273.3 L204.9 273.3 L205.3 274.3 L205.7 273.1 L206.1 271.6 L206.4 268.4 L206.8 267.6 L207.2 267.6 L207.6 268.1 L208 271.3 L208.4 272 L208.8 272.4 L209.2 272 L209.6 271 L210 271.5 L210.4 270.5 L210.8 271.7 L211.2 268.3 L211.6 270.1 L212 269.5 L212.4 270.7 L212.8 271.3 L213.2 270 L213.6 271.8 L213.9 271.8 L214.3 269.8 L214.7 272.8 L215.1 270.7 L215.5 270.9 L215.9 273 L216.3 272 L216.7 272.3 L217.1 271.6 L217.5 270.3 L217.9 272 L218.3 272 L218.7 271 L219.1 272.3 L219.5 271.1 L219.9 270.6 L220.3 269.5 L220.7 268 L221.1 268.2 L221.4 267.8 L221.8 269.1 L222.2 269 L222.6 268.6 L223 269.8 L223.4 268.7 L223.8 269.5 L224.2 267.3 L224.6 267.3 L225 267.1 L225.4 267.8 L225.8 267.5 L226.2 267.3 L226.6 268.2 L227 267.1 L227.4 265.5 L227.8 266.8 L228.2 266.7 L228.6 267.1 L228.9 267.7 L229.3 268.2 L229.7 268.9 L230.1 269.5 L230.5 269 L230.9 267.6 L231.3 267.4 L231.7 266.5 L232.1 265.6 L232.5 265 L232.9 266 L233.3 264.8 L233.7 267.4 L234.1 267 L234.5 267.2 L234.9 265.9 L235.3 267 L235.7 267.5 L236.1 265.9 L236.4 264.9 L236.8 265.3 L237.2 264 L237.6 266.9 L238 266.9 L238.4 265.8 L238.8 267 L239.2 267 L239.6 266.3 L240 265.9 L240.4 265.8 L240.8 264 L241.2 264.2 L241.5 262.2 L241.9 261.7 L242.3 262 L242.7 261.3 L243.1 262.4 L243.5 262.2 L243.8 263.8 L244.2 264.4 L244.6 266.2 L245 266.1 L245.4 264.1 L245.8 264.2 L246.2 264.1 L246.5 263.8 L246.9 265.9 L247.3 265.5 L247.7 264.4 L248.1 263 L248.5 263.1 L248.8 263.1 L249.2 263.9 L249.6 261.4 L250 263.5 L250.4 261.1 L250.8 262.3 L251.2 260.2 L251.5 259.9 L251.9 257.4 L252.3 258.8 L252.7 259.6 L253.1 260 L253.5 260.4 L253.8 263.3 L254.2 262.1 L254.6 259.8 L255 260.2 L255.4 258.5 L255.8 258.5 L256.2 259.5 L256.5 259 L256.9 262.3 L257.3 261.4 L257.7 259.4 L258.1 257.4 L258.5 256.4 L258.8 257.2 L259.2 256.8 L259.6 257.9 L260 257 L260.4 258.6 L260.7 259 L261.1 257.7 L261.4 257.6 L261.8 255.4 L262.1 257.3 L262.5 257.1 L262.9 255.5 L263.2 256.8 L263.6 255 L263.9 254.3 L264.3 255.5 L264.6 255.7 L265 254.2 L265.4 255.8 L265.7 255.8 L266.1 256.3 L266.4 256.3 L266.8 255.5 L267.1 255.6 L267.5 255.9 L267.9 254.5 L268.2 253.4 L268.6 253.3 L268.9 254.2 L269.3 254.3 L269.6 252.2 L270 252.1 L270.3 250.8 L270.6 250.6 L270.9 251.5 L271.2 249.9 L271.6 250.5 L271.9 250.4 L272.2 251.2 L272.5 250.5 L272.8 250.1 L273.1 249.7 L273.4 249.4 L273.8 250.4 L274.1 251.4 L274.4 248.5 L274.7 250.6 L275 249.1 L275.4 249.4 L275.7 249.7 L276 249.6 L276.4 249.6 L276.8 248.7 L277.1 249.8 L277.4 246.5 L277.8 246.3 L278.1 245.6 L278.5 245.7 L278.9 243.9 L279.2 244.3 L279.6 244.1 L279.9 245.3 L280.2 244 L280.6 243.2 L281 243.8 L281.3 245.7 L281.6 244.7 L282 244.7 L282.3 243.4 L282.6 242.1 L282.9 241.4 L283.2 238.8 L283.6 238.2 L283.9 237.6 L284.2 236.1 L284.5 236.2 L284.8 234.6 L285.1 234.2 L285.4 233.3 L285.8 233 L286.1 232.3 L286.4 229.9 L286.7 228.8 L287 228.1 L287.4 226.3 L287.8 223.9 L288.1 221.4 L288.5 219 L288.9 216.8 L289.2 214.5 L289.6 212.2 L290 210 L290.3 208.3 L290.7 208.3 L291 207.5 L291.3 204.3 L291.7 201.7 L292 199.9 L292.3 199.8 L292.7 201 L293 202.1 L293.3 202.3 L293.7 204.5 L294 204 L294.3 205.1 L294.7 209.2 L295 207.3 L295.3 205.3 L295.7 203.1 L296 201.7 L296.3 202.6 L296.7 201.9 L297 203.5 L297.3 203.3 L297.7 205.9 L298 204.9 L298.3 205.1 L298.7 206.1 L299 205.5 L299.3 204.9 L299.7 203 L300 203.1 L300.3 205.1 L300.7 206.4 L301 208.1 L301.3 207.9 L301.7 208.5 L302 209.3 L302.4 210 L302.8 211.8 L303.1 213.7 L303.5 215.4 L303.9 218.1 L304.2 220.2 L304.6 221.6 L305 223.4 L305.3 225 L305.6 226 L305.9 225.6 L306.2 227.6 L306.6 229.8 L306.9 229.8 L307.2 230.8 L307.5 232 L307.8 234.5 L308.1 235.3 L308.4 237.2 L308.8 239.2 L309.1 239.9 L309.4 241 L309.7 241.7 L310 242.7 L310.4 244.8 L310.8 243.6 L311.1 246.2 L311.5 247 L311.9 247.8 L312.2 247 L312.6 247 L313 248.3 L313.4 250.4 L313.8 250.8 L314.1 251.8 L314.5 252.4 L314.9 253.8 L315.2 252.1 L315.6 253.3 L316 256 L316.4 255.3 L316.8 255.7 L317.1 253.8 L317.5 254.8 L317.9 256.2 L318.2 257.4 L318.6 259.5 L319 259.1 L319.4 260 L319.8 259.7 L320.1 260.5 L320.5 261.4 L320.9 261.7 L321.2 262.5 L321.6 261 L322 263 L322.4 263.4 L322.8 263.2 L323.1 265.6 L323.5 264.7 L323.9 264.6 L324.2 265 L324.6 265.3 L325 263.5 L325.4 265.5 L325.8 265.2 L326.1 264.8 L326.5 266.5 L326.9 265.9 L327.2 265.2 L327.6 265.5 L328 266.6 L328.4 266.8 L328.8 267.2 L329.1 269 L329.5 268.2 L329.9 269.5 L330.2 269.8 L330.6 267.5 L331 267.3 L331.4 268.3 L331.8 269.6 L332.1 270 L332.5 271.4 L332.9 270.5 L333.2 271.3 L333.6 271.4 L334 271.2 L334.4 269.6 L334.8 269.9 L335.1 267.2 L335.5 267.1 L335.9 267.4 L336.2 268.2 L336.6 266.6 L337 267.2 L337.4 268.8 L337.8 269.9 L338.1 270.5 L338.5 269.3 L338.9 269.9 L339.2 269.8 L339.6 269.7 L340 269.3 L340.4 268.9 L340.8 269.2 L341.2 268.2 L341.5 270 L341.9 269.4 L342.3 268.4 L342.7 269.9 L343.1 268.2 L343.5 268.5 L343.8 270.3 L344.2 271.1 L344.6 272.1 L345 271.4 L345.4 272 L345.8 271.4 L346.2 272.1 L346.5 271.6 L346.9 270.9 L347.3 270.9 L347.7 272.4 L348.1 272.7 L348.5 270.8 L348.8 272.5 L349.2 272 L349.6 271.9 L350 270.5 L350.4 269.8 L350.8 269.8 L351.2 269.1 L351.5 268.9 L351.9 268.8 L352.3 268.2 L352.7 270.7 L353.1 269.4 L353.5 270.8 L353.8 272.2 L354.2 272.5 L354.6 271.1 L355 270.7 L355.4 272 L355.8 272.2 L356.2 272.5 L356.5 272.7 L356.9 271.1 L357.3 273.9 L357.7 273.8 L358.1 276.3 L358.5 275.1 L358.8 273.3 L359.2 274.5 L359.6 274.4 L360 274.1 L360.4 274.8 L360.8 274.9 L361.2 274.8 L361.6 276.7 L362 276.1 L362.4 275.2 L362.8 275.2 L363.2 274.4 L363.6 273.3 L363.9 274.5 L364.3 274.8 L364.7 275.5 L365.1 276.9 L365.5 275.6 L365.9 276 L366.3 273.8 L366.7 276.6 L367.1 275.4 L367.5 276.4 L367.9 275.3 L368.3 275.2 L368.7 275 L369.1 273.5 L369.5 272.8 L369.9 273.1 L370.3 274.2 L370.7 276.1 L371.1 276.8 L371.4 276.7 L371.8 275.6 L372.2 275.4 L372.6 275.9 L373 276 L373.4 274.1 L373.8 273.5 L374.2 273.6 L374.6 275 L375 275.2 L375.4 276.6 L375.8 276.4 L376.2 275.7 L376.6 274.9 L377 276.9 L377.4 276.4 L377.8 276.1 L378.2 277.4 L378.6 276.7 L378.9 278.8 L379.3 278.6 L379.7 278.5 L380.1 277 L380.5 278.3 L380.9 277.7 L381.3 278.2 L381.7 275.5 L382.1 277.4 L382.5 276.8 L382.9 274.7 L383.3 274.8 L383.7 273.3 L384.1 275.9 L384.5 276.1 L384.9 277.8 L385.3 278.4 L385.7 280.9 L386.1 278.6 L386.4 278.3 L386.8 278.4 L387.2 278.9 L387.6 278.6 L388 278.6 L388.4 279.2 L388.8 278.6 L389.2 276.6 L389.6 277.8 L390 277.4 L390.4 278.6 L390.8 278.5 L391.2 279.9 L391.6 279.4 L392 280 L392.4 276.9 L392.8 277.7 L393.2 276.6 L393.6 276.2 L393.9 276.5 L394.3 277.8 L394.7 279.4 L395.1 280.2 L395.5 277.6 L395.9 278.3 L396.3 277.3 L396.7 278.5 L397.1 277.7 L397.5 277.2 L397.9 277.4 L398.3 277.8 L398.7 279.4 L399.1 278.7 L399.5 279.2 L399.9 279.8 L400.3 279.8 L400.7 281 L401.1 279.7 L401.4 280.3 L401.8 280.9 L402.2 281.5 L402.6 281.3 L403 282.7 L403.4 282.8 L403.8 282.2 L404.2 281.3 L404.6 281.5 L405 280.3 L405.4 278.9 L405.8 278.2 L406.2 277.5 L406.6 277.9 L407 277.9 L407.4 276.5 L407.8 278 L408.2 278.7 L408.6 280.5 L408.9 279.2 L409.3 281.4 L409.7 281.2 L410.1 281.2 L410.5 281.6 L410.9 279.9 L411.3 281 L411.7 280 L412.1 279.9 L412.5 281.3 L412.9 279.9 L413.3 280.8 L413.7 279.8 L414.1 280.3 L414.5 280.9 L414.9 280.7 L415.3 282.2 L415.7 282.3 L416.1 282.9 L416.4 282.1 L416.8 281.8 L417.2 280.7 L417.6 281.2 L418 282.4 L418.4 282.8 L418.8 282.3 L419.2 284.8 L419.6 284.3 L420 285.8 L420.4 284.9 L420.8 285.5 L421.2 285.3 L421.6 285.1 L422 283.1 L422.3 283.4 L422.7 284.6 L423.1 282.3 L423.5 282.5 L423.9 282 L424.3 281.3 L424.7 282.9 L425.1 283.1 L425.5 281.7 L425.9 283.1 L426.2 284.5 L426.6 284.2 L427 284.8 L427.4 286.3 L427.8 287 L428.2 284.4 L428.6 283.6 L429 284.5 L429.4 281.7 L429.8 283.1 L430.2 283.6 L430.5 286.6 L430.9 285.1 L431.3 285 L431.7 283.4 L432.1 282.3 L432.5 280.4 L432.9 280.9 L433.3 281.6 L433.7 282.2 L434.1 280.8 L434.5 282.7 L434.8 282.3 L435.2 283.3 L435.6 283.3 L436 282.9 L436.4 282.1 L436.8 282 L437.2 280.9 L437.6 279.9 L438 279.7 L438.4 280.8 L438.8 282.5 L439.1 280.2 L439.5 280.1 L439.9 281.7 L440.3 279.3 L440.7 280.2 L441.1 281.5 L441.5 282.6 L441.9 282.6 L442.3 283.3 L442.7 281.8 L443 283.8 L443.4 284.2 L443.8 281.5 L444.2 282.8 L444.6 282.7 L445 278.3 L445.4 280.6 L445.8 282.3 L446.2 282.2 L446.6 281.5 L447 281.3 L447.4 281.3 L447.8 281.9 L448.2 280.5 L448.6 279.3 L449 279.8 L449.4 278.3 L449.8 279.6 L450.2 279.7 L450.6 283 L451 284.8 L451.4 286.1 L451.8 285.9 L452.2 283.9 L452.6 284.9 L453 282.9 L453.4 282.8 L453.8 282.7 L454.1 285.2 L454.5 284.6 L454.9 283.3 L455.3 283.8 L455.7 284.3 L456.1 284.1 L456.5 283.6 L456.9 281.9 L457.3 284.8 L457.7 283.3 L458.1 285.6 L458.5 284.5 L458.9 287.2 L459.3 288.7 L459.7 286.7 L460.1 283 L460.5 281.9 L460.9 281.5 L461.3 280.3 L461.7 282.3 L462.1 282.3 L462.5 282 L462.9 283.9 L463.3 284.1 L463.7 283.7 L464.1 283.4 L464.5 284.1 L464.9 281.9 L465.3 283.6 L465.7 285.1 L466.1 284.6 L466.5 285.6 L466.9 285 L467.3 285.9 L467.7 284.1 L468.1 284.9 L468.5 284.1 L468.9 283 L469.3 283 L469.7 282.9 L470.1 282.8 L470.5 283 L470.9 283.3 L471.2 281 L471.6 283 L472 283.8 L472.4 282.8 L472.8 284.3 L473.2 287.1 L473.6 285.5 L474 287.1 L474.4 286.7 L474.8 285.7 L475.2 286.9 L475.6 285.6 L476 286.8 L476.4 287.8 L476.8 287.6 L477.2 287.7 L477.6 287.4 L478 288.8 L478.4 289.7 L478.8 288.4 L479.2 287.7 L479.6 286.3 L480 285.4 L480.3 284.9 L480.6 287.4 L481 285.9 L481.3 286.6 L481.6 287.3 L482 287.1 L482.4 288.7 L482.8 287.3 L483.2 287.1 L483.5 286.8 L483.8 286.8 L484.2 287.5 L484.5 287.4 L484.8 285.5 L485.2 287 L485.6 285.9 L486 285.4 L486.4 285.9 L486.7 285.6 L487 286.3 L487.4 286.8 L487.7 286.4 L488 286.9 L488.3 286.6 L488.6 286.1 L489 285.8 L489.3 285.3 L489.6 286 L490 285.3 L490.4 286.1 L490.8 286 L491.2 285.2 L491.5 285.4 L491.8 284.2 L492.2 283.8 L492.5 285.3 L492.8 284.7 L493.2 286 L493.6 288 L494 287.4 L494.4 289.6 L494.7 287.3 L495 287.7 L495.4 288.2 L495.7 285.9 L496 285.4 L496.3 286.1 L496.6 287.5 L497 286.6 L497.3 285.7 L497.6 286.2 L498 285.9 L498.4 285.7 L498.8 285.7 L499.2 286.6 L499.5 286.2 L499.8 286.9 L500.2 285.9 L500.5 287 L500.8 286 L501.2 287.4 L501.6 287.5 L502 286.3 L502.4 288.8 L502.7 286.6 L503 285.2 L503.4 284.1 L503.7 284.5 L504 283.9 L504.3 283.4 L504.6 283.4 L505 284.1 L505.3 283.8 L505.6 284.3 L506 284.9 L506.4 286.7 L506.8 285.1 L507.2 289.5 L507.5 287.8 L507.8 288.3 L508.2 287.5 L508.5 289.7 L508.8 288.9 L509.2 287.8 L509.6 286.4 L510 286.7 L510.4 285.7 L510.7 285.2 L511 287.4 L511.4 285.8 L511.7 287.9 L512 287.5 L512.3 286.1 L512.6 286.7 L513 287.1 L513.3 286.1 L513.6 286.3 L513.9 285.5 L514.2 285.3 L514.6 283.9 L514.9 285.3 L515.2 283.5 L515.6 285.3 L516 284.8 L516.4 286.1 L516.8 286 L517.1 286.6 L517.4 287.5 L517.8 286.2 L518.1 285.2 L518.4 285 L518.7 286.6 L519 286.8 L519.4 289.2 L519.7 288.5 L520 289.1 L520.4 289.1 L520.8 289.3 L521.2 286.3 L521.6 286.5 L522 286.5 L522.3 285.6 L522.7 287 L523.1 287.2 L523.5 287.2 L523.9 286.4 L524.3 285.8 L524.7 285 L525.1 284.9 L525.5 288.2 L525.9 287.8 L526.2 287.1 L526.6 285.7 L527 285.8 L527.4 285.3 L527.8 283.9 L528.2 285.1 L528.6 286.2 L529 286.7 L529.4 286.6 L529.8 287.4 L530.2 286.9 L530.5 289.5 L530.9 288.9 L531.3 288.3 L531.7 288.6 L532.1 285.1 L532.5 284.6 L532.9 284.8 L533.3 284.9 L533.7 288.1 L534.1 288.1 L534.5 288.4 L534.8 289.2 L535.2 288.7 L535.6 289.6 L536 289.3 L536.4 287 L536.8 287.2 L537.2 286.2 L537.6 287.5 L538 289.2 L538.4 287 L538.8 289.6 L539.1 288 L539.5 287.9 L539.9 287.2 L540.3 286.3 L540.7 285.2 L541.1 285.9 L541.5 284.9 L541.9 286.4 L542.3 284.9 L542.7 283.4 L543 282.9 L543.4 283.3 L543.8 281.7 L544.2 283.4 L544.6 283.8 L545 283.3" fill="none" stroke="#cc0000" stroke-width="6.0" stroke-linejoin="round" stroke-linecap="round" />
<path d="M52 445.4 L52.3 446.8 L52.6 447.3 L53 447.4 L53.3 448 L53.6 447.5 L53.9 447 L54.2 445.8 L54.6 445.1 L54.9 443.7 L55.2 443.7 L55.6 444.1 L56 444.7 L56.4 446.5 L56.8 447.5 L57.1 446.5 L57.4 447.3 L57.8 446.6 L58.1 446.3 L58.4 444.7 L58.7 444.1 L59 445.5 L59.4 445.3 L59.7 445.6 L60 445.4 L60.3 446.7 L60.6 446.3 L61 447.6 L61.3 447.2 L61.6 446.9 L61.9 447.6 L62.2 448.4 L62.6 445.7 L62.9 447 L63.2 445.2 L63.6 445.3 L64 445.5 L64.4 445.6 L64.8 444.7 L65.1 445.7 L65.4 446.1 L65.8 446.6 L66.1 445.8 L66.4 447.6 L66.8 448 L67.2 448.5 L67.6 446 L68 447.3 L68.4 445.4 L68.8 446.5 L69.2 446.1 L69.6 444.4 L69.9 444.3 L70.2 445.8 L70.6 446.3 L70.9 445.5 L71.2 446 L71.6 443.8 L72 444.4 L72.4 444.4 L72.8 443.8 L73.1 445 L73.4 443.2 L73.8 442.6 L74.1 444.7 L74.4 444.2 L74.8 444.8 L75.2 445 L75.6 444.9 L76 445.5 L76.4 445 L76.8 442.6 L77.2 443.3 L77.6 444.4 L77.9 442.6 L78.2 443.5 L78.6 442.8 L78.9 442.4 L79.2 443.8 L79.6 443.3 L80 442.4 L80.4 443.1 L80.8 441.5 L81.1 442.4 L81.4 443.9 L81.8 443.8 L82.1 443.4 L82.4 444.9 L82.8 444.9 L83.2 445.6 L83.6 445.3 L84 444.5 L84.4 444.3 L84.8 444.5 L85.2 444.3 L85.6 445.4 L86 445.7 L86.4 445.7 L86.8 445.1 L87.2 444.8 L87.5 445.2 L87.8 443.8 L88.2 443.8 L88.5 442 L88.8 442.4 L89.2 444.2 L89.6 443 L90 443.2 L90.4 444.6 L90.8 446 L91.2 445.9 L91.6 444.8 L92 444.8 L92.4 445.3 L92.8 444.9 L93.2 445.8 L93.6 445.7 L93.9 444.4 L94.2 444.5 L94.6 444.2 L94.9 443.3 L95.2 442.6 L95.6 444.2 L96 445 L96.4 443.7 L96.8 443.7 L97.1 443.9 L97.4 442.8 L97.8 441.9 L98.1 442.9 L98.4 440.7 L98.8 441.5 L99.2 442.1 L99.6 442.6 L100 443.6 L100.4 443.5 L100.8 443.4 L101.2 442.1 L101.6 441 L102 440.4 L102.4 441.5 L102.8 441.2 L103.2 442 L103.6 443.8 L103.9 444.2 L104.3 444.9 L104.7 445.5 L105.1 444.6 L105.5 443.4 L105.9 441.3 L106.3 440.3 L106.7 442.4 L107.1 441.8 L107.5 443.8 L107.9 444.5 L108.3 446.2 L108.7 445.3 L109.1 445 L109.5 444.7 L109.9 444.3 L110.3 444.1 L110.7 442.5 L111.1 443.5 L111.4 444 L111.8 442.8 L112.2 444.7 L112.6 444.9 L113 443.3 L113.4 444.1 L113.8 444.2 L114.2 444 L114.6 444.9 L115 443.9 L115.4 444.8 L115.8 445.3 L116.2 445.1 L116.6 444.1 L117 443.3 L117.4 443.4 L117.8 441.4 L118.2 443.3 L118.6 442.2 L118.9 441.4 L119.3 441.9 L119.7 440.9 L120.1 440.7 L120.5 441.9 L120.9 441.4 L121.3 442.3 L121.7 441 L122.1 440.5 L122.5 441.1 L122.9 443.3 L123.3 442.5 L123.7 442.4 L124.1 441.8 L124.5 441.4 L124.9 441.7 L125.3 441.8 L125.7 443 L126.1 443.7 L126.4 443.8 L126.8 443.9 L127.2 442.5 L127.6 440.3 L128 440 L128.4 439.8 L128.8 439.6 L129.2 440.3 L129.6 439.4 L130 441.3 L130.4 440.8 L130.8 440.6 L131.2 440.7 L131.6 438.8 L132 439.4 L132.4 438.6 L132.8 439.9 L133.2 438 L133.5 438.9 L133.8 441.1 L134.2 440.9 L134.5 443.8 L134.8 443.5 L135.2 442.1 L135.6 439.7 L136 439 L136.4 435.1 L136.8 437.8 L137.2 437.5 L137.6 438.9 L138 438.7 L138.3 438.5 L138.7 437.2 L139 436.2 L139.3 435.7 L139.7 435.4 L140 435.1 L140.3 434.4 L140.7 434 L141 434 L141.3 437 L141.7 438.7 L142 441.5 L142.4 440.5 L142.8 439.2 L143.1 439.9 L143.5 440 L143.9 438.7 L144.2 438.4 L144.6 438.6 L145 440 L145.4 438.8 L145.8 438.6 L146.1 439.2 L146.5 438.4 L146.9 439 L147.2 439 L147.6 439.4 L148 440.5 L148.4 439.7 L148.8 439.3 L149.1 437.7 L149.5 437.6 L149.9 438.1 L150.2 438.2 L150.6 438.9 L151 439.6 L151.4 439.1 L151.8 439.2 L152.1 438.6 L152.5 439.6 L152.9 439.9 L153.2 440.3 L153.6 440.5 L154 442 L154.4 441.7 L154.8 438.4 L155.1 436.5 L155.5 435 L155.9 435.8 L156.2 437.8 L156.6 438.8 L157 440.3 L157.4 440.7 L157.8 440.4 L158.1 439.9 L158.5 439.1 L158.9 439.3 L159.2 437.7 L159.6 438.4 L160 437 L160.4 437.4 L160.8 438.2 L161.2 438.3 L161.6 437.2 L162 437.5 L162.4 437.5 L162.8 436.1 L163.2 434.8 L163.5 437 L163.8 437.6 L164.2 438.5 L164.5 438.9 L164.8 439.5 L165.2 438.9 L165.6 439 L166 437.7 L166.4 437.1 L166.8 436.2 L167.2 437 L167.6 435.8 L168 436.2 L168.3 433.6 L168.7 434 L169 432.9 L169.3 431.8 L169.7 431.9 L170 430.5 L170.3 431.1 L170.7 431.8 L171 434.1 L171.3 434.1 L171.7 434.6 L172 434.4 L172.4 436.7 L172.8 437.2 L173.2 437.6 L173.6 438.7 L174 435.9 L174.4 435.8 L174.8 432.8 L175.2 432.5 L175.5 430.9 L175.8 430.1 L176.2 430.2 L176.5 429.4 L176.8 427.8 L177.2 429.8 L177.6 431.6 L178 432.2 L178.4 432.7 L178.8 433.3 L179.2 432.7 L179.6 432.8 L180 433.1 L180.3 433.1 L180.7 433.1 L181 432.1 L181.3 433.6 L181.7 432.9 L182 432.4 L182.3 432.4 L182.7 433.3 L183 430.9 L183.3 430.6 L183.7 432.1 L184 431 L184.4 432.5 L184.7 430.9 L185 431.4 L185.4 432.3 L185.7 432.5 L186 432.3 L186.4 432.4 L186.7 432.2 L187 431.8 L187.4 431.8 L187.7 432.6 L188 432.1 L188.3 432 L188.7 432.7 L189 433.5 L189.3 434.1 L189.7 434.5 L190 435.9 L190.3 437.5 L190.7 440.4 L191 438.6 L191.3 439.2 L191.7 437 L192 438.5 L192.3 436.8 L192.6 436.8 L193 436.9 L193.3 437 L193.7 432.8 L194.1 428.6 L194.4 424.3 L194.8 420 L195.2 416.4 L195.6 412.9 L196 409.3 L196.3 410.5 L196.7 409.5 L197 409 L197.3 408.6 L197.7 409.4 L198 407.1 L198.3 407 L198.7 407.5 L199 406.6 L199.3 408.1 L199.7 410 L200 409.5 L200.4 407.2 L200.7 404.7 L201.1 402.1 L201.5 399.8 L201.8 397.4 L202.2 395 L202.6 393 L202.9 391.1 L203.3 389.1 L203.7 389.4 L204.1 391.2 L204.5 392 L204.9 393.5 L205.2 395.7 L205.6 397.9 L206 400.2 L206.3 405.9 L206.7 411.5 L207 417.1 L207.3 422.7 L207.7 421.9 L208.1 420.9 L208.4 420.5 L208.8 421.6 L209.2 423.1 L209.6 424.8 L209.9 423 L210.3 424.6 L210.7 421.3 L211 423.7 L211.3 425.2 L211.7 426.8 L212 428.6 L212.3 430.7 L212.7 431.2 L213 433.2 L213.3 434.1 L213.6 434.2 L214 433.2 L214.3 435.3 L214.6 433.5 L215 433.3 L215.3 435.4 L215.6 434.1 L216 434.4 L216.3 434.2 L216.7 433.9 L217 433.7 L217.3 434.7 L217.7 435.7 L218 434.5 L218.3 433.8 L218.7 434.4 L219 433.9 L219.3 436.3 L219.7 436.2 L220 436.5 L220.3 437.6 L220.7 437.5 L221 437 L221.3 437.4 L221.7 437.3 L222 436.9 L222.3 434.6 L222.7 432.7 L223 435.5 L223.3 433.5 L223.7 433 L224 433.2 L224.3 431.1 L224.7 429.5 L225 427.6 L225.3 425.9 L225.7 424 L226 422.4 L226.4 420.3 L226.7 418.6 L227 420 L227.3 419.5 L227.7 420.8 L228 422.1 L228.3 422.9 L228.7 423.9 L229 425.5 L229.3 426.7 L229.7 425.6 L230.1 425.7 L230.5 426 L230.9 425.5 L231.3 425.6 L231.7 424.9 L232.1 427.1 L232.5 425.8 L232.8 425.8 L233.1 425.2 L233.5 425 L233.8 424.6 L234.1 423.6 L234.5 425.2 L234.9 426.6 L235.3 426.8 L235.7 427.8 L236.1 427.5 L236.5 427 L236.9 428.2 L237.3 426.3 L237.7 426.7 L238.1 426.9 L238.5 426 L238.9 424.8 L239.3 424.5 L239.7 426 L240 424 L240.4 424.4 L240.8 425.8 L241.2 426.6 L241.6 426.4 L242 427.4 L242.4 429.2 L242.8 429.4 L243.2 430.3 L243.6 431.2 L244 430.7 L244.3 429.1 L244.7 428.3 L245.1 429.5 L245.5 428.7 L245.9 428.6 L246.3 428.3 L246.7 430.3 L247.1 429 L247.5 429.1 L247.9 430.3 L248.3 430 L248.7 430.7 L249.1 429.9 L249.5 429.3 L249.9 431.1 L250.2 431 L250.5 430.3 L250.9 430.9 L251.2 430 L251.5 428.5 L251.9 430.4 L252.3 430.7 L252.7 431.2 L253.1 433.1 L253.5 430.6 L253.9 432 L254.3 431.5 L254.7 428.8 L255 429.9 L255.4 429.7 L255.7 428.9 L256 429.1 L256.4 427.9 L256.7 427.5 L257 426 L257.4 423.9 L257.7 425.5 L258 424.5 L258.3 422.5 L258.7 422.9 L259 422.5 L259.3 418.9 L259.7 418.5 L260 417.3 L260.3 415.5 L260.6 413.3 L260.9 411.2 L261.2 409 L261.6 406.2 L261.9 403.5 L262.2 400.8 L262.5 398 L262.9 397.7 L263.2 398.7 L263.6 398 L264 398.4 L264.3 398.6 L264.7 401 L265 400.1 L265.4 400.5 L265.7 400.7 L266 401.2 L266.4 400.2 L266.7 401.4 L267 404 L267.4 406.5 L267.7 408.9 L268 411.4 L268.3 413.5 L268.6 415.7 L269 417.8 L269.3 420 L269.6 419.9 L270 420.9 L270.3 421.1 L270.6 421.7 L271 422.3 L271.3 424.3 L271.7 423.9 L272 424.5 L272.3 424.8 L272.7 426.3 L273 424.4 L273.4 424.5 L273.7 426.5 L274 427.5 L274.4 428.3 L274.7 428.9 L275 429.3 L275.4 429.6 L275.7 428.1 L276 427.4 L276.3 427.4 L276.7 425.5 L277 424.5 L277.3 424.1 L277.7 422.4 L278 425.5 L278.3 424.3 L278.7 424.9 L279 424.1 L279.3 423.5 L279.7 421.6 L280 423.1 L280.3 421.8 L280.6 421.2 L281 422.7 L281.3 419.2 L281.6 421.1 L282 421 L282.3 420.4 L282.6 423.3 L283 420.4 L283.3 421.1 L283.7 420.4 L284 420.1 L284.3 418.4 L284.7 419 L285 417.3 L285.4 415.3 L285.7 415.3 L286 416.3 L286.4 415.3 L286.7 416.4 L287 416 L287.4 415.1 L287.7 413.8 L288 413.9 L288.4 414.1 L288.7 412.5 L289 413.2 L289.4 410.7 L289.7 411 L290 410.9 L290.3 410.2 L290.7 410 L291 410.3 L291.3 409.3 L291.7 409.5 L292 408.8 L292.3 408.9 L292.7 406.1 L293 405 L293.3 400.8 L293.7 402.9 L294 402.7 L294.3 403.8 L294.7 403.8 L295 402.9 L295.3 403.1 L295.7 403.5 L296 403.2 L296.3 401.9 L296.7 402.9 L297 401.5 L297.3 402.2 L297.7 400.4 L298 400.9 L298.3 401 L298.6 398.3 L299 399.9 L299.3 398.7 L299.6 399.8 L300 402.7 L300.3 400.2 L300.6 400.1 L301 398 L301.3 398.6 L301.6 399.2 L302 401.7 L302.3 401.6 L302.6 404.9 L303 403 L303.3 404.5 L303.6 403.5 L304 405.2 L304.3 406.7 L304.6 406.2 L305 405.7 L305.3 407.4 L305.6 408 L306 407.9 L306.3 408.6 L306.6 407.1 L307 410.1 L307.3 410.1 L307.7 408.8 L308 412.4 L308.3 411.2 L308.7 412.4 L309 411.1 L309.3 412.5 L309.7 410.8 L310 411.9 L310.3 410.3 L310.7 409.1 L311 409.9 L311.3 411.4 L311.7 410.5 L312 411.9 L312.3 412.6 L312.7 413.8 L313 415.5 L313.4 416.9 L313.7 418.4 L314 420 L314.4 421 L314.7 422.4 L315.1 423.5 L315.4 423.7 L315.8 423.7 L316.1 424.3 L316.5 421.1 L316.9 420.8 L317.2 418.5 L317.6 417.9 L318 409.8 L318.4 401.6 L318.8 393.3 L319.2 385 L319.5 376 L319.8 367 L320.1 358 L320.5 354.8 L320.9 351.5 L321.2 353.7 L321.4 355.8 L321.7 358 L322 367 L322.3 376 L322.6 385 L323 397.3 L323.4 409.7 L323.8 422 L324.1 422.4 L324.4 422 L324.7 422.5 L325 423.3 L325.4 422.1 L325.7 422.8 L326 423.7 L326.4 425.1 L326.7 426.9 L327 427.2 L327.4 428.1 L327.7 426.8 L328 427.5 L328.3 427.7 L328.7 427.9 L329 426.1 L329.3 428.8 L329.7 429.3 L330 429.2 L330.3 430.6 L330.7 432.1 L331 430 L331.3 430.3 L331.7 431.1 L332 429 L332.3 429.8 L332.6 431 L333 431.7 L333.3 432.1 L333.6 431.5 L334 432.3 L334.3 430.7 L334.6 429.2 L335 430.2 L335.3 431 L335.6 431.1 L336 429.7 L336.3 431.7 L336.6 431.2 L337 432 L337.3 433.5 L337.7 432.3 L338 431.9 L338.3 432.3 L338.7 431.9 L339 434.5 L339.3 434.4 L339.7 435.2 L340 434.8 L340.4 434.1 L340.7 434 L341.1 431.5 L341.4 433 L341.8 432.6 L342.1 434.8 L342.5 436.1 L342.9 436.5 L343.2 436.3 L343.6 435.5 L343.9 435.3 L344.3 433.2 L344.6 435.1 L345 435 L345.4 435.5 L345.7 437.1 L346.1 435.5 L346.4 435.4 L346.8 435.1 L347.1 434.8 L347.5 435.2 L347.9 435.1 L348.2 438.1 L348.6 438.4 L348.9 437.5 L349.3 436.7 L349.6 437.1 L350 436.5 L350.4 436.8 L350.8 436.2 L351.1 437.5 L351.5 436.3 L351.9 436.8 L352.2 436.8 L352.6 437.4 L353 436.3 L353.4 436 L353.8 435.4 L354.1 434.5 L354.5 433.9 L354.9 433.3 L355.2 434.5 L355.6 434.8 L356 432.8 L356.4 433.6 L356.8 431.8 L357.1 431.6 L357.5 431.5 L357.9 433.1 L358.2 434.6 L358.6 434.2 L359 435.8 L359.4 436 L359.8 434.9 L360.1 435.8 L360.5 433.3 L360.9 433 L361.2 434.3 L361.6 431.6 L362 432.1 L362.4 435.5 L362.8 433.4 L363.1 434 L363.5 434 L363.9 434.3 L364.2 435.6 L364.6 435.5 L365 437.9 L365.3 435 L365.7 432.2 L366 428.5 L366.3 428 L366.7 429 L367 428.7 L367.3 430.1 L367.7 429.4 L368 430.4 L368.3 432.3 L368.7 433.7 L369 434.8 L369.4 433 L369.8 432.6 L370.1 433.7 L370.5 432.1 L370.9 431.5 L371.2 434.1 L371.6 433.3 L372 434 L372.4 434 L372.8 436.2 L373.1 435.8 L373.5 436.3 L373.9 436.1 L374.2 436.2 L374.6 437.6 L375 437.8 L375.4 439 L375.8 437.4 L376.1 437.9 L376.5 438.9 L376.9 437.9 L377.2 436 L377.6 436.6 L378 435 L378.4 435.7 L378.8 435.8 L379.1 436.7 L379.5 436.1 L379.9 436.3 L380.2 437.2 L380.6 436.8 L381 436.8 L381.4 436.9 L381.8 435.8 L382.1 435.5 L382.5 433.3 L382.9 434.5 L383.2 435.5 L383.6 434.4 L384 434.8 L384.4 436.2 L384.8 436.9 L385.1 438.5 L385.5 439.2 L385.9 438.7 L386.2 439.4 L386.6 438.3 L387 437.9 L387.4 438.6 L387.8 438.7 L388.1 438.1 L388.5 437.4 L388.9 438.4 L389.2 439.5 L389.6 440.5 L390 441.9 L390.4 439.7 L390.8 438.8 L391.2 436.6 L391.6 438.1 L392 438.5 L392.4 438.5 L392.8 438.6 L393.2 438 L393.6 440.1 L393.9 438.9 L394.3 440.3 L394.7 439.6 L395.1 440 L395.5 439 L395.9 439.9 L396.3 438.1 L396.7 440.4 L397.1 439.6 L397.5 439 L397.9 439.8 L398.3 439.3 L398.7 440.1 L399.1 439.3 L399.5 438.8 L399.9 439.5 L400.3 439.7 L400.7 440 L401.1 440.5 L401.4 440.9 L401.8 440.3 L402.2 441.2 L402.6 438.4 L403 440.7 L403.4 442.1 L403.8 441.3 L404.2 442.7 L404.6 442.2 L405 440.1 L405.4 439.9 L405.8 439.8 L406.2 439.7 L406.6 441.6 L407 442.7 L407.4 441.6 L407.8 440.7 L408.2 441.4 L408.6 440.9 L408.9 440.1 L409.3 440.5 L409.7 440.1 L410.1 439.8 L410.5 440.4 L410.9 440.9 L411.3 441 L411.7 440.9 L412.1 442 L412.5 441 L412.9 440.6 L413.3 439.1 L413.7 437 L414.1 440.6 L414.5 440.4 L414.9 441.3 L415.3 442.5 L415.7 441.7 L416.1 440.8 L416.4 441.3 L416.8 439.5 L417.2 439.8 L417.6 439.2 L418 439.9 L418.4 440.4 L418.8 440.4 L419.2 441 L419.6 440.5 L420 441.8 L420.3 440.9 L420.6 441.5 L421 441.4 L421.3 442.2 L421.6 443 L422 442.4 L422.4 441.6 L422.8 442.4 L423.2 443 L423.5 442.7 L423.8 442.6 L424.2 441.4 L424.5 441.8 L424.8 441.7 L425.2 441.4 L425.6 441.4 L426 440.8 L426.4 440.1 L426.7 440.4 L427 439.3 L427.4 439.3 L427.7 439.3 L428 438.1 L428.3 438.9 L428.6 439 L429 439.7 L429.3 440.8 L429.6 441.2 L430 441.4 L430.4 441.3 L430.8 440.2 L431.2 442.1 L431.5 441.4 L431.8 439.1 L432.2 439.1 L432.5 438.8 L432.8 438.9 L433.2 439.9 L433.6 440.2 L434 439.2 L434.4 443.7 L434.7 442.1 L435 441.8 L435.4 440.4 L435.7 440.7 L436 441 L436.3 439.7 L436.6 440.4 L437 439.3 L437.3 439.9 L437.6 438.5 L438 440 L438.4 438.4 L438.8 441.1 L439.2 440.9 L439.5 439.8 L439.8 440.2 L440.2 438.7 L440.5 438.8 L440.8 438.3 L441.2 438.6 L441.6 439.5 L442 439.1 L442.4 440 L442.7 439.2 L443 439.2 L443.4 439.8 L443.7 439.8 L444 439.4 L444.3 439.7 L444.6 438.1 L445 438.1 L445.3 437.5 L445.6 436.6 L446 436.9 L446.4 438.3 L446.8 438.9 L447.2 440.5 L447.5 439.5 L447.8 439.2 L448.2 437.8 L448.5 437.4 L448.8 436.3 L449.2 437.4 L449.6 439.3 L450 439.5 L450.4 440.3 L450.7 439.6 L451 440.5 L451.4 438.9 L451.7 439.3 L452 438 L452.3 438.9 L452.6 437.9 L453 437.9 L453.3 439.9 L453.6 439.1 L454 438.8 L454.4 438.6 L454.8 437.8 L455.2 436.8 L455.5 436.1 L455.8 436.8 L456.2 437.7 L456.5 438.4 L456.8 438.7 L457.2 439.1 L457.6 438.8 L458 439.8 L458.4 441 L458.7 439.5 L459 439.6 L459.4 440.4 L459.7 440.7 L460 439.7 L460.3 438.7 L460.6 437.4 L461 437.2 L461.3 436.1 L461.6 436 L462 437.5 L462.4 438.5 L462.8 440.2 L463.2 439.8 L463.5 439.6 L463.8 441.5 L464.2 441.3 L464.5 439.9 L464.8 440.7 L465.2 439.4 L465.6 439.6 L466 439.4 L466.4 439.4 L466.7 438.6 L467 439 L467.4 440.9 L467.7 440.9 L468 442.7 L468.3 440.1 L468.6 439.7 L469 437.5 L469.3 439.4 L469.6 438.8 L470 438.6 L470.4 438.5 L470.8 437.8 L471.2 438.6 L471.5 439.6 L471.8 441.8 L472.2 441.5 L472.5 440.8 L472.8 442 L473.2 442.2 L473.6 442.2 L474 441.4 L474.4 441.8 L474.7 442.8 L475 442.7 L475.4 442 L475.7 443.9 L476 442.4 L476.3 441.2 L476.6 441.4 L477 440.6 L477.3 439.2 L477.6 439.8 L478 439.1 L478.4 438.1 L478.8 438.4 L479.2 438.1 L479.5 438.2 L479.8 439.6 L480.2 439.4 L480.5 440.4 L480.8 441.7 L481.2 439.7 L481.6 439.6 L482 438.5 L482.4 439 L482.7 438.5 L483 440.6 L483.4 440.9 L483.7 439.8 L484 440.8 L484.3 440.1 L484.6 440 L485 440.2 L485.3 440.4 L485.6 440.5 L486 441.3 L486.4 440.1 L486.8 441.6 L487.2 442.8 L487.5 442.6 L487.8 442.9 L488.2 443.2 L488.5 442.4 L488.8 442.2 L489.2 444.2 L489.6 443 L490 444 L490.4 442 L490.7 443.2 L491 443.3 L491.4 442.9 L491.7 441.3 L492 442.1 L492.3 441.2 L492.6 441 L493 441.8 L493.3 442.2 L493.6 441.7 L494 441.7 L494.4 442.1 L494.8 441.1 L495.2 441.8 L495.5 442.3 L495.8 442.4 L496.2 442.6 L496.5 441.8 L496.8 442.5 L497.2 442.4 L497.6 443.2 L498 441.5 L498.4 442.8 L498.7 441.6 L499 443.3 L499.4 442.6 L499.7 443.1 L500 443.8 L500.4 444 L500.8 441.8 L501.2 442.2 L501.6 440.4 L501.9 442.6 L502.3 443.2 L502.7 445.1 L503.1 445.5 L503.5 445.1 L503.9 443.6 L504.3 443.5 L504.7 442.3 L505 443.6 L505.4 442.9 L505.8 444.7 L506.2 445.7 L506.6 446.8 L507 446 L507.4 445.9 L507.8 445.5 L508.1 445.2 L508.5 443.2 L508.9 442.6 L509.3 440.2 L509.7 440.8 L510.1 441.7 L510.5 439.4 L510.9 440.5 L511.2 441.4 L511.6 442.4 L512 444.1 L512.4 445.1 L512.8 443.7 L513.2 443.8 L513.6 441.9 L514 443.6 L514.4 442.7 L514.7 443.6 L515.1 442.5 L515.5 444.6 L515.9 444 L516.3 443.4 L516.7 443.2 L517.1 443.2 L517.5 442.6 L517.8 443.2 L518.2 443.3 L518.6 443.9 L519 444.2 L519.4 443.4 L519.8 442.3 L520.2 442 L520.6 441.8 L520.9 442.2 L521.3 441.8 L521.7 442.5 L522.1 442.5 L522.5 443.1 L522.9 442.9 L523.3 443.2 L523.7 443.9 L524.1 443.8 L524.4 443.4 L524.8 443.4 L525.2 442.6 L525.6 442.3 L526 440.4 L526.4 439 L526.8 441.2 L527.2 443.4 L527.5 444.8 L527.9 445.6 L528.3 443.7 L528.7 444.8 L529.1 445.2 L529.5 445.3 L529.9 445 L530.3 442.3 L530.6 442.4 L531 440.2 L531.4 441.6 L531.8 441.9 L532.2 443.1 L532.6 443.1 L533 442.1 L533.4 443.5 L533.8 444.2 L534.1 445.3 L534.5 444 L534.9 444.2 L535.3 444.7 L535.7 446 L536.1 444.9 L536.5 444.9 L536.9 444.9 L537.2 443.8 L537.6 445.7 L538 444.4 L538.4 447.4 L538.8 446.2 L539.2 445.5 L539.6 445.1 L540 444.3 L540.3 444 L540.7 443.6 L541.1 443 L541.5 443.3 L541.9 443.3 L542.3 442.8 L542.7 443.5 L543.1 442.9 L543.4 443.8 L543.8 444 L544.2 444.1 L544.6 445.5 L545 445.9" fill="none" stroke="#38ff38" stroke-width="5.8" stroke-linejoin="round" stroke-linecap="round" />
<path d="M52 601.3 L52.3 601.5 L52.6 600.8 L53 602.8 L53.3 602.1 L53.6 602.5 L53.9 601.1 L54.2 600.5 L54.6 601.4 L54.9 600.6 L55.2 600.1 L55.6 600.7 L56 601.1 L56.4 601.3 L56.8 601.4 L57.1 602 L57.4 603.6 L57.8 602.7 L58.1 601.8 L58.4 603.5 L58.7 601.9 L59 601.1 L59.4 601.1 L59.7 600.6 L60 602.3 L60.3 601.3 L60.6 601.4 L61 602.2 L61.3 602.7 L61.6 602.4 L61.9 602.2 L62.2 601.9 L62.6 601.7 L62.9 600.1 L63.2 600.3 L63.6 600.5 L64 601 L64.4 600.6 L64.8 600.6 L65.1 601.7 L65.4 601.2 L65.8 600.3 L66.1 600 L66.4 600.7 L66.8 601.5 L67.2 600.5 L67.6 601.7 L68 600.4 L68.4 600.6 L68.8 600.9 L69.2 601.5 L69.6 600.1 L69.9 601.2 L70.2 602 L70.6 600.4 L70.9 601.6 L71.2 602 L71.6 602.7 L72 602.6 L72.4 601.8 L72.8 603.1 L73.1 601.2 L73.4 601.1 L73.8 602.7 L74.1 602.4 L74.4 601.3 L74.8 603.2 L75.2 603.6 L75.6 604.1 L76 604 L76.4 603 L76.8 602.4 L77.2 602.8 L77.6 602.4 L77.9 601.5 L78.2 600.9 L78.6 601.1 L78.9 599.3 L79.2 598.9 L79.6 601.1 L80 600.1 L80.4 600.7 L80.8 602.3 L81.1 600.4 L81.4 602.2 L81.8 600.3 L82.1 600.3 L82.4 599.9 L82.8 600.1 L83.2 600.3 L83.6 601.3 L84 600.8 L84.4 602.2 L84.8 602.5 L85.2 601.8 L85.6 603.2 L86 602.3 L86.4 601.9 L86.8 601.8 L87.2 601.4 L87.5 601 L87.8 599 L88.2 599.8 L88.5 599.2 L88.8 600.1 L89.2 599.6 L89.6 600.5 L90 601.2 L90.4 602.4 L90.8 601.1 L91.2 601.5 L91.6 601.3 L92 601.2 L92.4 600.8 L92.8 600.3 L93.2 600.4 L93.6 599.3 L93.9 601.1 L94.2 600.2 L94.6 599.2 L94.9 600.2 L95.2 601 L95.6 600.4 L96 600.5 L96.4 599.4 L96.8 601.7 L97.1 601 L97.4 600 L97.8 601 L98.1 602.4 L98.4 601.9 L98.8 600.6 L99.2 601.1 L99.6 601.4 L100 602.4 L100.4 601.4 L100.8 601.9 L101.2 601.4 L101.6 601.7 L102 601.6 L102.3 602 L102.7 602.5 L103.1 603.6 L103.5 603.8 L103.9 602.1 L104.3 602 L104.7 600.9 L105.1 600.5 L105.5 600.1 L105.9 601.6 L106.2 601 L106.6 601.2 L107 602.1 L107.4 601.7 L107.8 601.1 L108.2 601.6 L108.6 602.1 L109 603.6 L109.4 602 L109.8 600.9 L110.2 601.1 L110.5 600.8 L110.9 599.8 L111.3 601.4 L111.7 601.9 L112.1 602.2 L112.5 602.9 L112.9 603.1 L113.3 602.3 L113.7 601.2 L114.1 599 L114.5 600.1 L114.8 598.7 L115.2 598.3 L115.6 600.5 L116 600.3 L116.4 600.5 L116.8 601.3 L117.2 601.7 L117.6 600.6 L118 600.3 L118.4 600.2 L118.8 600.1 L119.1 599.7 L119.5 598.9 L119.9 601.3 L120.3 599.4 L120.7 599.8 L121.1 600.8 L121.5 600.8 L121.9 601.4 L122.3 602.6 L122.7 602.1 L123 601 L123.4 601.6 L123.8 601.1 L124.2 601.7 L124.6 600.2 L125 599.9 L125.4 599.3 L125.8 600.5 L126.2 600.3 L126.6 600.4 L127 600.9 L127.3 600.2 L127.7 601.2 L128.1 601.3 L128.5 602.4 L128.9 601.8 L129.3 600.1 L129.7 601 L130.1 600.5 L130.5 600.2 L130.9 600.4 L131.2 599.4 L131.6 600 L132 600.2 L132.4 600.7 L132.8 600.9 L133.2 601.5 L133.6 600.5 L134 599.2 L134.4 597.7 L134.8 600.4 L135.2 599.4 L135.5 599.8 L135.9 600.4 L136.3 601.2 L136.7 600.1 L137.1 599 L137.5 600.4 L137.9 600.3 L138.3 599.7 L138.7 600.7 L139.1 599.3 L139.5 599.6 L139.8 598.7 L140.2 599.4 L140.6 598.4 L141 599.6 L141.4 599.4 L141.8 599.7 L142.2 600.1 L142.6 598.6 L143 599 L143.4 599.1 L143.8 598.4 L144.1 599.3 L144.5 599.1 L144.9 598.1 L145.3 599.2 L145.7 598.2 L146.1 598.5 L146.5 598.8 L146.9 597.2 L147.3 598.1 L147.7 599.3 L148 599.9 L148.4 599.8 L148.8 600.6 L149.2 599.6 L149.6 599 L150 598.5 L150.4 599.3 L150.8 598.8 L151.2 600.1 L151.6 600.1 L152 599.8 L152.3 599.3 L152.7 600.2 L153.1 597.8 L153.5 598.6 L153.9 599.2 L154.3 598.3 L154.7 597.9 L155.1 599.2 L155.5 598.2 L155.9 598.9 L156.2 599.6 L156.6 598.9 L157 598.7 L157.4 598.9 L157.8 599.3 L158.2 598 L158.6 598.8 L159 598.4 L159.4 598.2 L159.8 597 L160.2 598.4 L160.5 597.1 L160.9 596.4 L161.3 596.5 L161.7 598.1 L162.1 597.2 L162.5 597.4 L162.9 597.8 L163.3 598.4 L163.7 598.9 L164.1 597.7 L164.5 598.9 L164.8 598.8 L165.2 599.1 L165.6 598.1 L166 599.3 L166.4 599.7 L166.8 598.3 L167.2 598.6 L167.6 599.5 L168 599.8 L168.4 599.2 L168.8 600 L169.1 598 L169.5 599.1 L169.9 598.4 L170.3 598.3 L170.7 598.5 L171.1 599.1 L171.5 598.9 L171.9 600.5 L172.3 597.2 L172.7 597.5 L173 595.8 L173.4 596.2 L173.8 594.7 L174.2 595.8 L174.6 596.1 L175 597 L175.3 595.7 L175.6 594.3 L175.9 594 L176.2 594 L176.6 594.8 L176.9 595 L177.2 595.7 L177.5 596.7 L177.8 597.1 L178.1 596.8 L178.4 596.4 L178.8 596 L179.1 596.9 L179.4 598.1 L179.7 598.3 L180 597.9 L180.4 598.3 L180.8 597.2 L181.1 597.7 L181.5 597.2 L181.9 596.8 L182.2 597.3 L182.6 596.3 L183 595.9 L183.4 596.1 L183.8 594.9 L184.1 595.2 L184.5 595.2 L184.9 594.1 L185.2 592 L185.6 589.6 L186 588.2 L186.4 588.6 L186.8 588.7 L187.1 588.9 L187.5 588.5 L187.9 590.1 L188.2 589.8 L188.6 590.9 L189 591.4 L189.4 592.4 L189.8 594.2 L190.1 593.8 L190.5 594.6 L190.9 593.5 L191.2 594.6 L191.6 595.4 L192 595.2 L192.4 596.1 L192.8 595.8 L193.2 596.7 L193.5 595.7 L193.8 595.6 L194.1 594.1 L194.4 594.1 L194.8 587 L195.2 580.5 L195.6 574 L196 572 L196.4 570.7 L196.8 570 L197.2 568 L197.5 569.1 L197.7 570.1 L198 571.1 L198.3 572.9 L198.5 573.3 L198.8 574.9 L199.1 577.3 L199.4 580.1 L199.7 583 L199.9 586 L200.2 589 L200.5 592 L200.8 586.7 L201.1 581.3 L201.4 576 L201.7 570.7 L202 565.3 L202.3 560 L202.7 542 L203.1 524 L203.3 521.2 L203.6 518.5 L203.9 521.2 L204.2 524 L204.5 536 L204.9 548 L205.2 560 L205.5 565.3 L205.8 570.7 L206.1 576 L206.4 581.3 L206.7 586.7 L207 592 L207.4 591.2 L207.8 593.4 L208.1 593 L208.5 594.7 L208.9 594.4 L209.3 595.2 L209.6 595.1 L210 596.2 L210.4 596.8 L210.8 596.9 L211.1 597.7 L211.5 598.2 L211.8 598.1 L212.2 596.9 L212.5 597.9 L212.8 596.9 L213.2 596.3 L213.5 595.6 L213.9 595.5 L214.2 597.2 L214.6 597.4 L214.9 598.2 L215.3 599.6 L215.7 598.3 L216 601 L216.4 598.6 L216.8 597.4 L217.2 597.5 L217.5 597.7 L217.8 596.6 L218.1 596.1 L218.4 596.2 L218.7 596.8 L219 597.2 L219.3 597.6 L219.6 596.5 L220 595.1 L220.4 594.5 L220.8 594.7 L221.1 593.8 L221.5 592.2 L221.8 591.6 L222.1 590.4 L222.5 589.1 L222.8 586.9 L223.1 585.8 L223.5 584.3 L223.8 582.8 L224.1 581.3 L224.5 579.5 L224.8 578 L225.2 577.5 L225.5 578.3 L225.8 578 L226.2 578.9 L226.5 578.8 L226.9 578.1 L227.2 579 L227.6 577 L227.9 578.7 L228.3 580.4 L228.7 580.8 L229 582.2 L229.3 582.3 L229.7 585 L230.1 585.5 L230.4 586.8 L230.7 588.8 L231 590 L231.3 590.9 L231.6 593.5 L232 593.8 L232.4 595.2 L232.8 596.2 L233.1 595 L233.5 593.8 L233.8 592.7 L234.1 591.5 L234.5 592.9 L234.8 591.5 L235.1 591.5 L235.5 590.6 L235.8 591 L236.1 589.3 L236.5 588.2 L236.8 586.9 L237.2 588.5 L237.6 587.9 L238 589.3 L238.4 590.3 L238.8 591.8 L239.2 592.8 L239.6 592.9 L240 595.2 L240.4 594.4 L240.7 594.1 L241.1 594.3 L241.4 593.9 L241.8 594.3 L242.1 594.9 L242.5 596 L242.9 596.2 L243.2 595.6 L243.6 594.5 L243.9 594.9 L244.3 593.6 L244.6 593.1 L245 594.1 L245.4 592.6 L245.7 593 L246.1 594.1 L246.4 593.6 L246.8 593.9 L247.1 594.1 L247.5 593.7 L247.9 593.4 L248.2 592.9 L248.6 591.5 L248.9 592 L249.3 591.6 L249.6 593 L250 594 L250.4 593.3 L250.8 593.7 L251.1 592.4 L251.5 592.4 L251.9 593.1 L252.2 592.3 L252.6 594.1 L253 592.9 L253.4 592.9 L253.8 591.2 L254.1 591.5 L254.5 590.4 L254.9 591.9 L255.2 590.5 L255.6 592.4 L256 592.7 L256.4 592.1 L256.8 591.7 L257.1 590.9 L257.5 589.2 L257.9 590.5 L258.2 590 L258.6 590.4 L259 591 L259.4 591 L259.8 591 L260.1 592.1 L260.5 591.7 L260.9 590.6 L261.2 591.4 L261.6 591.7 L262 593.5 L262.4 592.7 L262.8 592.7 L263.1 593.8 L263.5 592.6 L263.9 594.8 L264.2 593.6 L264.6 593.2 L265 594.2 L265.4 592.1 L265.7 590.8 L266 590.9 L266.4 590.5 L266.8 589.2 L267.1 589.5 L267.4 589.6 L267.8 590 L268.1 590.1 L268.5 591 L268.9 591.1 L269.2 592.1 L269.6 592.3 L269.9 590.6 L270.2 591.6 L270.6 591.8 L271 589.8 L271.3 589.3 L271.6 588.9 L272 588.2 L272.3 587.7 L272.6 589 L272.9 589 L273.2 589.4 L273.6 588.2 L273.9 586.5 L274.2 585.8 L274.5 584.5 L274.8 586 L275.1 583.9 L275.4 584.3 L275.8 584.3 L276.1 582.7 L276.4 582.4 L276.7 581.9 L277 582 L277.4 581.1 L277.7 582.8 L278 583.7 L278.4 584.5 L278.8 585 L279.1 587.3 L279.4 588.3 L279.8 588.7 L280.2 588.5 L280.5 590.1 L280.9 588.4 L281.2 587.7 L281.6 589.2 L281.9 588.6 L282.2 589.5 L282.6 590.2 L283 589.5 L283.4 589.5 L283.7 591.6 L284.1 590 L284.5 588.5 L284.9 587.6 L285.3 586.2 L285.6 584.3 L286 583.3 L286.4 583.9 L286.8 582.2 L287.2 581.8 L287.6 582 L287.9 581.6 L288.3 580.6 L288.7 580.2 L289.1 580 L289.4 580.4 L289.8 579.7 L290.1 579.8 L290.5 580.2 L290.9 580.2 L291.2 579 L291.6 578.5 L292 579.3 L292.3 580.5 L292.7 580.3 L293 580.7 L293.4 580.1 L293.8 579.4 L294.1 579.2 L294.5 578 L294.9 578.6 L295.2 578.5 L295.6 578.4 L295.9 579.1 L296.3 579 L296.7 577.7 L297 578.6 L297.4 578.4 L297.7 577.9 L298.1 577 L298.4 576.9 L298.7 577.3 L299.1 576.3 L299.4 577.4 L299.7 576.5 L300 576.9 L300.4 575.3 L300.7 577.7 L301 577.7 L301.4 577 L301.7 577.8 L302 576.2 L302.4 575.1 L302.7 575.8 L303.1 576.8 L303.5 577.6 L303.8 578.4 L304.2 579.6 L304.6 578.1 L305 579.3 L305.4 580.4 L305.8 580.2 L306.1 580.2 L306.5 580.2 L306.9 580.4 L307.3 580.4 L307.7 580.9 L308 579.4 L308.4 581.9 L308.8 581.4 L309.2 580.6 L309.5 583.1 L309.9 584.1 L310.2 584.7 L310.6 585.7 L311 586.2 L311.3 586.6 L311.7 585.7 L312 586.5 L312.4 588.3 L312.7 590.3 L313.1 589.7 L313.5 589.5 L313.8 588.5 L314.2 587.8 L314.6 585.9 L314.9 587.8 L315.3 587.9 L315.6 589.2 L316 589.3 L316.4 584.1 L316.8 579.1 L317.1 574 L317.5 569.3 L317.9 564.7 L318.3 560 L318.7 546.7 L319 533.3 L319.4 520 L319.7 513.3 L320 506.7 L320.3 500 L320.6 498.7 L321 497.1 L321.4 499 L321.7 500.6 L322 510.5 L322.4 520 L322.7 533.3 L322.9 546.7 L323.2 560 L323.6 568.7 L323.9 577.3 L324.3 586 L324.7 585.6 L325.1 585.7 L325.4 585.4 L325.8 586.2 L326.2 586.9 L326.6 585.5 L326.9 585.9 L327.3 586.9 L327.7 585.3 L328.1 584.2 L328.4 584.5 L328.8 585.2 L329.2 585.7 L329.6 586 L330 587.1 L330.4 589.7 L330.7 589.6 L331.1 592.7 L331.5 591.5 L331.9 592.1 L332.3 591 L332.7 592.1 L333 595 L333.4 594.4 L333.8 594.9 L334.1 596.2 L334.5 596 L334.9 596.2 L335.2 596.8 L335.6 597.2 L336 598.5 L336.3 597 L336.7 598.4 L337.1 596.8 L337.5 597.7 L337.8 596.6 L338.2 596.8 L338.6 597.3 L339 599.1 L339.4 599.9 L339.8 600.8 L340.1 600.4 L340.5 599.1 L340.9 598.6 L341.3 597.8 L341.7 598.6 L342 598.6 L342.4 598.3 L342.8 597.7 L343.2 598.2 L343.6 598.3 L343.9 598.3 L344.3 597.3 L344.7 597.9 L345.1 596.6 L345.5 596.9 L345.9 596.3 L346.2 597.3 L346.6 596.9 L347 597.2 L347.4 598.5 L347.8 598.7 L348.1 597.2 L348.5 599 L348.9 599 L349.3 598.8 L349.7 597.6 L350 598.3 L350.4 597.6 L350.8 596.7 L351.2 596.6 L351.6 597.6 L351.9 598.8 L352.3 600.8 L352.7 598.4 L353.1 599.8 L353.5 600 L353.9 599.7 L354.2 599.8 L354.6 599.8 L355 599 L355.4 599.8 L355.8 598.9 L356.1 598.9 L356.5 598.6 L356.9 597.6 L357.2 599.4 L357.6 598.2 L358 599.1 L358.4 598.7 L358.8 598.2 L359.1 598.5 L359.5 597.5 L359.9 598.7 L360.2 598.1 L360.6 597.7 L361 598.1 L361.4 597.5 L361.8 596.6 L362.1 594.9 L362.5 595.6 L362.9 595.1 L363.2 595.7 L363.6 595.5 L364 594.4 L364.4 593.6 L364.8 593.3 L365.1 592.6 L365.5 592.4 L365.9 590.9 L366.2 589.7 L366.6 588.4 L367 588.2 L367.4 589.3 L367.8 588.1 L368.1 590.4 L368.5 590.4 L368.9 592 L369.2 593.8 L369.6 595.1 L370 598 L370.3 596.6 L370.7 596 L371 595.7 L371.3 597.2 L371.7 596.8 L372 597.4 L372.3 597.3 L372.6 599.4 L373 599.5 L373.3 600.4 L373.6 599.9 L374 599.1 L374.4 597.6 L374.8 596 L375.2 595.7 L375.5 594.8 L375.8 596.1 L376.2 596.2 L376.5 597.6 L376.8 597.2 L377.2 597.9 L377.6 597.4 L378 597.6 L378.4 597.5 L378.7 599.1 L379 597.4 L379.4 598.8 L379.7 598 L380 600.1 L380.3 597.2 L380.7 596.4 L381 593.7 L381.3 594.9 L381.7 593.5 L382 592.6 L382.4 593.2 L382.8 594.3 L383.1 593 L383.5 593.6 L383.9 595.1 L384.2 595.9 L384.6 595.6 L385 596.1 L385.3 597.1 L385.6 596.3 L385.9 595.9 L386.2 595.5 L386.6 595.6 L386.9 596.7 L387.2 596.6 L387.5 597.4 L387.8 598 L388.1 597.9 L388.4 598.5 L388.8 599.9 L389.1 599 L389.4 599.7 L389.7 599.5 L390 598.7 L390.4 599.8 L390.8 598.1 L391.2 599.4 L391.6 599 L392 599.1 L392.4 600.6 L392.8 600.4 L393.2 602.4 L393.6 599.3 L393.9 600.3 L394.3 599.2 L394.7 598 L395.1 597.6 L395.5 598.1 L395.9 598.2 L396.3 600.2 L396.7 599.7 L397.1 600.3 L397.5 599.7 L397.9 599.8 L398.3 598.6 L398.7 599.8 L399.1 600.1 L399.5 600.7 L399.9 598.5 L400.3 600.8 L400.7 599 L401.1 600.2 L401.4 600.9 L401.8 602.6 L402.2 602.3 L402.6 602.7 L403 601.2 L403.4 600.2 L403.8 598.9 L404.2 598.6 L404.6 599.1 L405 601.1 L405.4 600.5 L405.8 602.4 L406.2 601.9 L406.6 601.5 L407 602.2 L407.4 601 L407.8 601.8 L408.2 601.1 L408.6 600.4 L408.9 600.4 L409.3 600.4 L409.7 600.5 L410.1 599.8 L410.5 599.3 L410.9 599.8 L411.3 598.1 L411.7 600.1 L412.1 598.7 L412.5 599.3 L412.9 600.1 L413.3 598.9 L413.7 599.2 L414.1 600.5 L414.5 600.8 L414.9 603 L415.3 602.2 L415.7 601.7 L416.1 600.8 L416.4 599.4 L416.8 597.6 L417.2 599.6 L417.6 600.4 L418 600.5 L418.4 601.8 L418.8 600.2 L419.2 601.2 L419.6 600.4 L420 600.4 L420.3 601 L420.6 601.4 L420.9 601.9 L421.2 601.7 L421.6 600.8 L421.9 600.4 L422.2 601 L422.5 599.9 L422.8 598.7 L423.1 598 L423.4 598.1 L423.8 596.9 L424.1 598 L424.4 596.9 L424.7 596.6 L425 596 L425.3 596.6 L425.7 597.1 L426 595.8 L426.3 596.5 L426.7 595.9 L427 594.2 L427.4 595.4 L427.8 594.5 L428.1 595.6 L428.5 595.4 L428.9 596.8 L429.2 596.5 L429.6 597.7 L430 598.9 L430.4 598.2 L430.8 598.3 L431.2 598 L431.6 599 L432 598.8 L432.3 599.4 L432.7 599.8 L433.1 599.9 L433.5 599.8 L433.9 599.1 L434.3 599.4 L434.7 599.7 L435.1 598.6 L435.5 598.7 L435.9 599.7 L436.2 600.3 L436.6 599.3 L437 598.8 L437.4 599.4 L437.8 598.8 L438.2 599.5 L438.6 599.6 L439 599.7 L439.4 600.5 L439.8 600.5 L440.2 599.8 L440.5 597.8 L440.9 599.3 L441.3 597.9 L441.7 597.4 L442.1 597.3 L442.5 598.1 L442.9 596.7 L443.3 597.4 L443.7 598.4 L444.1 598.8 L444.5 599.4 L444.8 598.5 L445.2 598.1 L445.6 598.1 L446 599 L446.4 598.6 L446.8 598.8 L447.2 598.2 L447.6 597.5 L448 597.1 L448.4 597.1 L448.8 596.7 L449.1 598.4 L449.5 599 L449.9 599.7 L450.3 601.5 L450.7 599.6 L451.1 599.8 L451.5 600.4 L451.9 600.3 L452.3 600.1 L452.7 599.4 L453 599.6 L453.4 600.8 L453.8 600.4 L454.2 598.4 L454.6 598.8 L455 598.4 L455.3 599.2 L455.6 599.4 L455.9 598.5 L456.2 598.3 L456.6 598.3 L456.9 597.6 L457.2 597.1 L457.5 597.5 L457.8 596.8 L458.1 595 L458.4 596.2 L458.8 596.2 L459.1 595.4 L459.4 597.4 L459.7 597 L460 597.1 L460.3 596.3 L460.6 596.8 L460.9 596.4 L461.2 594.9 L461.6 594.6 L461.9 597.4 L462.2 597.3 L462.5 596.9 L462.8 598.4 L463.1 595.7 L463.4 596.5 L463.8 595.5 L464.1 596.6 L464.4 598.6 L464.7 601 L465 600.2 L465.4 601.2 L465.8 599.8 L466.2 599.5 L466.6 599.9 L467 598.5 L467.4 600.3 L467.8 598.6 L468.2 597.9 L468.6 598.9 L469 598.9 L469.4 598.8 L469.8 599.7 L470.2 599.9 L470.6 598.4 L471 597.6 L471.4 598.2 L471.8 598.6 L472.2 597.9 L472.6 598.6 L473 598.5 L473.4 598.6 L473.8 600.4 L474.1 600.6 L474.5 601.6 L474.9 600.9 L475.3 597.3 L475.7 597.3 L476.1 597.1 L476.5 599.5 L476.9 599.6 L477.3 601.4 L477.7 601.6 L478.1 602.9 L478.5 602.9 L478.9 602.9 L479.3 602.6 L479.7 601.3 L480.1 602.1 L480.5 600 L480.9 599.4 L481.3 599.2 L481.7 599.6 L482.1 600.1 L482.5 599.1 L482.9 599.4 L483.3 599.1 L483.7 599.6 L484.1 599.3 L484.5 598.6 L484.9 601 L485.3 600 L485.7 600.1 L486.1 600 L486.5 599.5 L486.9 600 L487.3 600.7 L487.7 602 L488.1 602.5 L488.5 602.8 L488.9 604 L489.3 602.5 L489.7 601.8 L490.1 600.9 L490.5 599.6 L490.9 600.8 L491.2 602.5 L491.6 601.5 L492 601.6 L492.4 602.3 L492.8 603.5 L493.2 602.4 L493.6 603.9 L494 603.2 L494.4 601.7 L494.8 600.3 L495.2 600.8 L495.6 600.2 L496 601 L496.4 602.3 L496.8 601.6 L497.2 600.6 L497.6 602.1 L498 601.8 L498.4 603.8 L498.8 602.5 L499.2 601.6 L499.6 601.6 L500 601 L500.4 601.1 L500.8 601.6 L501.2 602.9 L501.6 603.2 L501.9 603.7 L502.3 604.5 L502.7 605.2 L503.1 604.4 L503.5 604.3 L503.9 602.7 L504.3 601.4 L504.7 602.6 L505 602.7 L505.4 601.1 L505.8 600.6 L506.2 600 L506.6 601.3 L507 602.4 L507.4 602.7 L507.8 602 L508.1 602.9 L508.5 601.8 L508.9 602.4 L509.3 602.8 L509.7 602.4 L510.1 600.7 L510.5 601.1 L510.9 601.1 L511.2 601.6 L511.6 601.3 L512 602.1 L512.4 602.8 L512.8 601.1 L513.2 602.3 L513.6 603.7 L514 602.5 L514.4 602.4 L514.7 603.3 L515.1 603.4 L515.5 603 L515.9 601.7 L516.3 603.3 L516.7 603.7 L517.1 604.1 L517.5 604.2 L517.8 601.7 L518.2 601.5 L518.6 601.7 L519 601.9 L519.4 600.7 L519.8 600.3 L520.2 600.9 L520.6 600.6 L520.9 601 L521.3 600.2 L521.7 600.4 L522.1 600.4 L522.5 602.8 L522.9 603.9 L523.3 604.6 L523.7 603.3 L524.1 604.3 L524.4 603.1 L524.8 601.8 L525.2 602.4 L525.6 603 L526 601.7 L526.4 602.8 L526.8 603.3 L527.2 603.6 L527.5 604.5 L527.9 606.4 L528.3 605.9 L528.7 605.2 L529.1 603.8 L529.5 603.7 L529.9 604.3 L530.3 603.8 L530.6 604.1 L531 604.9 L531.4 604.9 L531.8 604.2 L532.2 603.1 L532.6 602.7 L533 603.1 L533.4 601.3 L533.8 602.3 L534.1 601.3 L534.5 602.6 L534.9 600.7 L535.3 602 L535.7 600.8 L536.1 602.3 L536.5 602.6 L536.9 602.9 L537.2 603.9 L537.6 602.7 L538 603.2 L538.4 603.7 L538.8 603 L539.2 603.6 L539.6 603.2 L540 603.4 L540.3 602.7 L540.7 603.1 L541.1 604.1 L541.5 605.8 L541.9 605.9 L542.3 605.1 L542.7 604.7 L543.1 605.5 L543.4 605 L543.8 603.7 L544.2 603.3 L544.6 602.2 L545 602.2" fill="none" stroke="#ff8800" stroke-width="5.6" stroke-linejoin="round" stroke-linecap="round" />
<path d="M52 743.6 L52.4 744 L52.8 745.2 L53.2 744.2 L53.6 742.9 L53.9 745.8 L54.3 745.6 L54.7 748.6 L55.1 746.6 L55.5 745.7 L55.9 744.3 L56.3 743.7 L56.7 741.8 L57.1 742 L57.4 742.6 L57.8 744.8 L58.2 745.3 L58.6 744.5 L59 745.6 L59.4 743.8 L59.8 743.2 L60.2 743.4 L60.6 745.3 L60.9 746.3 L61.3 747.7 L61.7 748 L62.1 747.6 L62.5 747 L62.9 746.6 L63.3 745.9 L63.7 746.9 L64.1 748.2 L64.4 748.1 L64.8 747.1 L65.2 747.2 L65.6 745.5 L66 745 L66.4 746.4 L66.8 745.9 L67.2 747.6 L67.6 747.3 L67.9 747.3 L68.3 747.2 L68.7 744.6 L69.1 745.9 L69.5 744.8 L69.9 745.3 L70.3 745.3 L70.7 746.1 L71.1 745.6 L71.4 747.2 L71.8 746 L72.2 746.7 L72.6 746.2 L73 746.3 L73.4 745.1 L73.8 744.1 L74.2 744.7 L74.6 744.3 L74.9 746.6 L75.3 746.6 L75.7 746.8 L76.1 747.1 L76.5 746.9 L76.9 747.5 L77.3 748.1 L77.7 746.8 L78.1 746.5 L78.4 747.9 L78.8 747.8 L79.2 746.7 L79.6 746.7 L80 746.3 L80.4 748.2 L80.8 747.9 L81.2 749.3 L81.5 750.6 L81.9 750.4 L82.3 748.3 L82.7 747.8 L83.1 746.4 L83.5 746 L83.8 745.7 L84.2 745.9 L84.6 746.2 L85 745.4 L85.4 745.7 L85.8 746.2 L86.2 747 L86.5 746.9 L86.9 745.2 L87.3 746.1 L87.7 744.8 L88.1 746.1 L88.5 744.9 L88.8 744.9 L89.2 745.2 L89.6 745.6 L90 745 L90.4 745.8 L90.8 745.8 L91.2 746.6 L91.5 747.7 L91.9 749 L92.3 748.8 L92.7 748.5 L93.1 747.7 L93.5 745.5 L93.8 746.3 L94.2 745.6 L94.6 745.6 L95 745.9 L95.4 746.3 L95.8 746.6 L96.2 746.9 L96.5 746.3 L96.9 747.4 L97.3 747.8 L97.7 747.7 L98.1 748.5 L98.5 749.6 L98.8 748.4 L99.2 747.7 L99.6 746.3 L100 746.1 L100.4 746.7 L100.8 745.3 L101.2 743.7 L101.6 745.8 L102 745.4 L102.4 746 L102.8 746.6 L103.2 749.7 L103.6 748.6 L103.9 746.9 L104.3 744.4 L104.7 744 L105.1 743.4 L105.5 743.4 L105.9 744.3 L106.3 744.8 L106.7 745.1 L107.1 745.7 L107.5 744.3 L107.9 747.3 L108.3 746.4 L108.7 747.9 L109.1 747.5 L109.5 748.8 L109.9 747.2 L110.3 744.9 L110.7 745 L111.1 743.8 L111.4 742 L111.8 740.7 L112.2 741.1 L112.6 740.3 L113 742.2 L113.4 743.3 L113.8 745.6 L114.2 746.2 L114.6 745 L115 744.8 L115.4 742.2 L115.8 743.1 L116.2 743.1 L116.6 743.7 L117 744 L117.4 744 L117.8 744.8 L118.2 743.9 L118.6 745 L118.9 745 L119.3 744.9 L119.7 745 L120.1 744.5 L120.5 744.7 L120.9 744.5 L121.3 745.3 L121.7 744.5 L122.1 744.8 L122.5 746 L122.9 744.3 L123.3 743.9 L123.7 744 L124.1 743.2 L124.5 745.1 L124.9 745.8 L125.3 746.2 L125.7 746.6 L126.1 746.6 L126.4 746.9 L126.8 745.7 L127.2 745.8 L127.6 744.5 L128 745.2 L128.4 743.8 L128.8 742.5 L129.2 743.3 L129.6 742.3 L130 743.5 L130.4 743 L130.8 742.1 L131.2 743.8 L131.6 745.2 L132 744.6 L132.4 743.8 L132.8 744.5 L133.2 744.3 L133.6 744.3 L133.9 743.3 L134.3 742.2 L134.7 740.8 L135.1 741.7 L135.5 741.9 L135.9 741.9 L136.3 742.4 L136.7 741.8 L137.1 743.6 L137.5 743.8 L137.9 744.6 L138.3 743.8 L138.7 743.1 L139.1 743 L139.5 742.9 L139.9 742 L140.3 742.3 L140.7 741.4 L141.1 742.1 L141.4 742 L141.8 741.3 L142.2 743.1 L142.6 741.9 L143 742.4 L143.4 741.3 L143.8 740.9 L144.2 742.4 L144.6 740.9 L145 740.4 L145.4 741.7 L145.8 740.7 L146.2 740.9 L146.6 741.5 L147 739.1 L147.4 738.8 L147.8 740.4 L148.2 741.6 L148.6 742.8 L148.9 745.3 L149.3 743.6 L149.7 743.2 L150.1 742.4 L150.5 740.7 L150.9 741.4 L151.3 740.7 L151.7 740.7 L152.1 740.2 L152.5 741.5 L152.9 739.8 L153.3 741.5 L153.7 742.2 L154.1 741.6 L154.5 742.2 L154.9 741.6 L155.3 741.4 L155.7 740 L156.1 740.3 L156.4 740.8 L156.8 740.4 L157.2 740.6 L157.6 741.3 L158 741.6 L158.4 741.4 L158.8 743.7 L159.2 742.6 L159.6 743.9 L160 744.3 L160.4 743.8 L160.8 742 L161.2 740.9 L161.5 741.2 L161.9 741.4 L162.3 739.9 L162.7 740 L163.1 741.8 L163.5 742.1 L163.8 742.3 L164.2 742.9 L164.6 742.1 L165 743.2 L165.4 740.7 L165.8 739.6 L166.2 737.5 L166.5 736 L166.9 737.7 L167.3 737.3 L167.7 738.1 L168.1 738.2 L168.5 739.1 L168.8 738.5 L169.2 739.3 L169.6 738.5 L170 736.9 L170.4 736 L170.8 735.7 L171.2 737.1 L171.5 736.1 L171.9 737.3 L172.3 736.4 L172.7 737.5 L173.1 738.5 L173.5 739.2 L173.8 738.7 L174.2 739.6 L174.6 739.1 L175 739.7 L175.4 739.3 L175.8 738.8 L176.2 737.9 L176.5 738 L176.9 737 L177.3 735.9 L177.7 734.2 L178.1 733.5 L178.5 732.4 L178.8 734.8 L179.2 736.6 L179.6 737.2 L180 739.7 L180.3 739.1 L180.7 738.5 L181 736.8 L181.3 736 L181.7 735.5 L182 736.2 L182.3 734.3 L182.7 735.4 L183 733.3 L183.3 735.7 L183.6 734.8 L184 732.3 L184.3 732.3 L184.6 730.5 L185 729.2 L185.3 729 L185.6 729.1 L186 730.9 L186.3 730.2 L186.6 730.3 L187 731.4 L187.3 732.2 L187.6 732.9 L188 733.1 L188.3 733.3 L188.7 735.3 L189 737.4 L189.3 738.5 L189.7 738.8 L190 737.3 L190.3 736.7 L190.7 735.8 L191 736.6 L191.3 736.1 L191.7 739.2 L192 737.9 L192.4 736.1 L192.7 733.8 L193.1 731.6 L193.5 729.2 L193.8 726.8 L194.2 724.4 L194.6 722.1 L194.9 719.7 L195.3 717.3 L195.6 716.6 L196 716.1 L196.3 715.7 L196.7 714.7 L197 714.1 L197.3 711.7 L197.7 710 L198 710.8 L198.3 710.7 L198.7 711.9 L199 713.2 L199.3 713.9 L199.7 715.7 L200 718.1 L200.4 719.8 L200.7 722.4 L201 717.1 L201.3 712.1 L201.6 707 L202 702 L202.3 697 L202.6 692 L202.9 688.5 L203.2 685 L203.5 681.5 L203.8 682.7 L204.1 682.9 L204.4 683.8 L204.7 690.5 L205.1 697.7 L205.4 705 L205.7 709.3 L206 713.6 L206.4 717.9 L206.7 722.1 L207 726.4 L207.3 730.7 L207.7 730.7 L208.1 729.8 L208.5 729.8 L208.9 729.2 L209.3 728.7 L209.7 729.8 L210 730.8 L210.4 731.6 L210.8 731 L211.2 732 L211.6 732.9 L212 733 L212.4 734.1 L212.8 733 L213.2 732.9 L213.6 729.8 L214 730.7 L214.4 732.5 L214.8 730.3 L215.2 730 L215.5 731 L215.8 731.5 L216.2 730.4 L216.5 728.9 L216.8 729.5 L217.2 729.3 L217.6 729 L218 729 L218.4 729.1 L218.8 728.9 L219.2 728.6 L219.6 728 L220 726.7 L220.4 725.4 L220.7 726.9 L221.1 725.3 L221.5 727.8 L221.8 724.4 L222.2 722.8 L222.6 721.8 L222.9 722.3 L223.3 722.5 L223.7 723 L224 723.1 L224.4 722.6 L224.7 723.5 L225.1 722.2 L225.5 721.4 L225.8 722.9 L226.2 723.2 L226.6 722.9 L226.9 724 L227.3 725.5 L227.7 725.8 L228.1 724.8 L228.4 726.6 L228.8 724.4 L229.2 726.8 L229.6 727.6 L229.9 727.9 L230.3 728.6 L230.7 728 L231.1 729.6 L231.4 730.6 L231.8 730.2 L232.2 730.6 L232.6 730.1 L232.9 728.3 L233.3 729.1 L233.6 730.1 L234 728.9 L234.3 730.2 L234.6 730.6 L235 729.5 L235.3 730.2 L235.6 731 L236 731 L236.3 728.7 L236.6 728.9 L237 727.3 L237.3 726.1 L237.6 727.5 L238 727.5 L238.3 727.7 L238.6 728.6 L239 727.9 L239.3 727.9 L239.6 726.5 L240 724.9 L240.3 726.7 L240.7 725.6 L241 724.9 L241.3 724 L241.7 724.7 L242 725.6 L242.3 725.6 L242.7 727.5 L243 726.7 L243.3 725.7 L243.7 726.2 L244 725.5 L244.3 726.1 L244.7 726.9 L245 728.8 L245.3 726.6 L245.7 727.5 L246 727.5 L246.3 727.1 L246.7 727.7 L247 726.7 L247.3 727.2 L247.7 727.7 L248 727.2 L248.4 727.9 L248.7 725.4 L249 725.7 L249.4 725.2 L249.7 725.5 L250 727.7 L250.4 729.5 L250.7 732.5 L251.1 731 L251.5 729 L251.9 730.4 L252.3 729.8 L252.7 726.8 L253.1 725.3 L253.5 728.1 L253.9 725.4 L254.2 723.5 L254.5 725.3 L254.9 725.1 L255.2 722.1 L255.5 724.2 L255.9 724 L256.3 723.5 L256.7 723.2 L257.1 724 L257.4 723.2 L257.7 723.9 L258.1 723.6 L258.4 723.5 L258.7 724.2 L259 723.9 L259.4 723.4 L259.7 722.5 L260 722.9 L260.4 720.4 L260.7 720.9 L261 720.5 L261.4 720.8 L261.7 717.1 L262 717 L262.3 715.7 L262.7 714.7 L263 716 L263.3 714.5 L263.7 714.2 L264 714.5 L264.3 716.4 L264.7 717.2 L265 720 L265.3 719.5 L265.7 721.4 L266 721.1 L266.3 721.4 L266.7 721.9 L267 720.5 L267.3 720.8 L267.7 720.6 L268 719.8 L268.3 719.7 L268.7 719.6 L269 720.6 L269.3 718.4 L269.7 718.5 L270 718.9 L270.3 719.2 L270.6 717.6 L271 718.4 L271.3 717.3 L271.6 716.8 L272 715.9 L272.3 717.7 L272.6 719.3 L273 718.7 L273.3 718.5 L273.6 718.5 L274 716 L274.3 715 L274.6 715.4 L275 714.9 L275.3 715.2 L275.7 714.7 L276 714.4 L276.3 713.6 L276.7 712.3 L277 712.3 L277.4 709.7 L277.7 708 L278 707.5 L278.4 707.5 L278.7 705.2 L279 704.1 L279.4 707.7 L279.7 705.2 L280 705.8 L280.4 707.3 L280.7 708.1 L281 708.7 L281.4 708.6 L281.7 708.6 L282 706.1 L282.3 705.1 L282.7 704.3 L283 703.1 L283.3 701.8 L283.7 702.2 L284 702.7 L284.3 703.3 L284.7 702.4 L285 703.9 L285.3 704.5 L285.7 704.2 L286 702.8 L286.3 701.8 L286.6 700.6 L287 700.7 L287.3 700.4 L287.6 699.3 L288 698.8 L288.3 700.4 L288.6 699.3 L289 699 L289.3 700.2 L289.6 697 L290 695.2 L290.3 694.7 L290.6 692.2 L291 693.1 L291.3 693.4 L291.6 692.7 L292 693.9 L292.3 692.2 L292.6 691.4 L293 690.3 L293.3 688.9 L293.6 687.6 L294 688.2 L294.3 687.6 L294.6 687.4 L295 686.3 L295.3 687 L295.6 686.7 L296 686.4 L296.3 687 L296.6 687.5 L297 687.2 L297.3 688.2 L297.6 688 L298 688.3 L298.3 687.6 L298.6 688.4 L299 687.4 L299.3 686.8 L299.7 686.3 L300 684.7 L300.3 686.5 L300.7 687.7 L301 686.6 L301.4 688.8 L301.7 689.6 L302 690.7 L302.4 691.6 L302.7 693.2 L303 693 L303.4 693.9 L303.7 694.3 L304 694.6 L304.4 693.4 L304.7 694.6 L305 693.2 L305.4 693.6 L305.7 695.7 L306 697.1 L306.4 701 L306.7 701.3 L307 701.5 L307.4 701.2 L307.7 701.5 L308 700.8 L308.4 702.6 L308.7 703 L309 703.8 L309.4 705.3 L309.7 706.8 L310 707.6 L310.4 708.7 L310.7 709.6 L311 711 L311.4 713.1 L311.7 714.2 L312 714 L312.4 715.9 L312.7 717.5 L313 717.2 L313.4 718.3 L313.7 718.5 L314 719.8 L314.4 718.7 L314.7 720.3 L315.1 719.6 L315.4 718.2 L315.8 717.9 L316.1 716.6 L316.5 715.3 L316.9 714.4 L317.2 713.9 L317.6 714.4 L318 708.1 L318.4 702 L318.8 696 L319.2 690 L319.5 680.7 L319.8 671.3 L320.1 662 L320.5 658.8 L320.9 655.5 L321.2 657.7 L321.4 659.8 L321.7 662 L322 671.3 L322.3 680.7 L322.6 690 L323 700.7 L323.4 711.3 L323.8 722 L324.1 721 L324.4 721.7 L324.7 721.1 L325 723 L325.4 725 L325.7 727.1 L326 728.1 L326.4 730 L326.7 731.2 L327 729.9 L327.4 728.3 L327.7 726.6 L328 725 L328.3 723.2 L328.6 721.6 L329 720.1 L329.3 718.4 L329.6 720.6 L330 721.4 L330.3 723.2 L330.6 725.1 L331 726.5 L331.3 727.8 L331.7 729.2 L332 730.7 L332.3 731.3 L332.6 730 L333 729.2 L333.3 729.6 L333.6 727.3 L334 729.3 L334.4 730.4 L334.8 731.9 L335.2 731 L335.5 732.5 L335.8 731.9 L336.2 733.3 L336.5 733.2 L336.8 732.4 L337.2 733.7 L337.6 733.2 L338 734.7 L338.4 735.3 L338.7 735.5 L339 734 L339.4 732.4 L339.7 734 L340 732.2 L340.3 732.6 L340.6 732.8 L340.9 734.2 L341.2 733.1 L341.6 733.8 L341.9 732.9 L342.2 731.7 L342.5 732.8 L342.8 733.3 L343.1 732.9 L343.4 732.6 L343.8 736 L344.1 735.7 L344.4 734.7 L344.7 734.9 L345 735.5 L345.4 735.1 L345.8 733.5 L346.2 733.4 L346.5 734.8 L346.9 734.9 L347.3 734.5 L347.7 734.2 L348.1 733.4 L348.5 734.4 L348.8 735.1 L349.2 734.7 L349.6 735.5 L350 735.3 L350.4 733.8 L350.8 734.9 L351.2 733.3 L351.5 733.3 L351.9 735 L352.3 732.9 L352.7 733.9 L353.1 734.1 L353.5 733.3 L353.8 732.3 L354.2 731.4 L354.6 732.8 L355 733.3 L355.4 733.3 L355.8 733.1 L356.2 732.3 L356.5 732.8 L356.9 732.2 L357.3 732.3 L357.7 731.6 L358.1 732.5 L358.5 731.1 L358.8 730.8 L359.2 733 L359.6 732.4 L360 732.5 L360.4 733.4 L360.8 733.4 L361.2 734.8 L361.5 734.9 L361.9 736.7 L362.3 735.7 L362.7 735.6 L363.1 735.2 L363.5 735 L363.8 733.1 L364.2 734 L364.6 733.3 L365 732.2 L365.3 732.1 L365.7 731.8 L366 731 L366.3 732 L366.7 730.4 L367 730.7 L367.4 732.7 L367.8 731.8 L368.1 732.4 L368.5 733.5 L368.9 733.9 L369.2 734.9 L369.6 735.5 L370 735.5 L370.4 734.7 L370.7 734.8 L371.1 733.4 L371.4 733.1 L371.8 734.1 L372.1 733.9 L372.5 733.5 L372.9 733.3 L373.2 733.4 L373.6 732.9 L373.9 734 L374.3 734 L374.6 733.7 L375 733.7 L375.4 733.2 L375.7 733.6 L376.1 733.3 L376.4 733.1 L376.8 732.5 L377.1 731.9 L377.5 733 L377.9 733.4 L378.2 732.6 L378.6 733.4 L378.9 732.8 L379.3 732.4 L379.6 730.1 L380 729.5 L380.3 729.4 L380.7 729.3 L381 729.3 L381.3 730.8 L381.7 729.7 L382 732.1 L382.4 731 L382.8 731.3 L383.1 730.9 L383.5 731.6 L383.9 732.5 L384.2 734 L384.6 735.1 L385 736.3 L385.4 735.5 L385.8 735.4 L386.1 734 L386.5 733 L386.9 735 L387.2 734.1 L387.6 735.2 L388 736.8 L388.4 735.4 L388.8 736.1 L389.1 736.3 L389.5 736.5 L389.9 737.1 L390.2 736.1 L390.6 735.9 L391 734.2 L391.4 735.9 L391.8 735.3 L392.1 734.8 L392.5 735.8 L392.9 736.7 L393.2 740.3 L393.6 739.5 L394 742.2 L394.4 740.2 L394.8 739.2 L395.1 737.7 L395.5 738.2 L395.9 736.8 L396.2 737.2 L396.6 737.9 L397 737.6 L397.4 738.5 L397.8 737.7 L398.1 737.3 L398.5 738.9 L398.9 739.7 L399.2 739.7 L399.6 739.1 L400 740.8 L400.4 740.5 L400.8 739.7 L401.2 740.2 L401.6 739.9 L402 740.4 L402.4 741.1 L402.8 741.7 L403.2 741.5 L403.6 741.4 L403.9 739.6 L404.3 740.6 L404.7 741.4 L405.1 740 L405.5 740.3 L405.9 739.4 L406.3 739.1 L406.7 739.1 L407.1 740 L407.5 739.4 L407.9 739.1 L408.3 737.8 L408.7 738.4 L409.1 737 L409.5 738.1 L409.9 736.8 L410.3 736.8 L410.7 737 L411.1 736.4 L411.4 737.7 L411.8 737.9 L412.2 737.5 L412.6 737.9 L413 740.1 L413.4 740.2 L413.8 740.4 L414.2 740.8 L414.6 741.3 L415 739.8 L415.4 739.6 L415.8 739.4 L416.2 739.1 L416.6 739.4 L417 741.5 L417.4 740.7 L417.8 740 L418.2 740.5 L418.6 740.4 L418.9 740.4 L419.3 740.2 L419.7 738.8 L420.1 738.1 L420.5 738.7 L420.9 739.6 L421.3 739.9 L421.7 741.5 L422.1 742.1 L422.5 741.5 L422.9 740.2 L423.3 740 L423.7 739.1 L424.1 738.5 L424.5 738 L424.9 738.5 L425.3 738.4 L425.7 738.3 L426.1 738.5 L426.4 737.8 L426.8 738.7 L427.2 739.1 L427.6 739.7 L428 739.9 L428.4 740.4 L428.8 740.5 L429.2 739.2 L429.6 738.3 L430 739.6 L430.3 739.1 L430.6 737.6 L431 738.9 L431.3 736.4 L431.6 738 L432 738.6 L432.4 738.8 L432.8 739 L433.2 740.1 L433.5 740.2 L433.8 739.3 L434.2 739.9 L434.5 741.3 L434.8 741.3 L435.2 739.6 L435.6 738.9 L436 739.7 L436.4 738.3 L436.7 738.4 L437 738.5 L437.4 739 L437.7 737.4 L438 739.3 L438.3 739 L438.6 740.3 L439 739.4 L439.3 740 L439.6 741.4 L440 741.7 L440.4 741 L440.8 740.8 L441.2 741.9 L441.5 741.7 L441.8 741.2 L442.2 740.8 L442.5 741.8 L442.8 741.5 L443.2 740.1 L443.6 740.6 L444 739.7 L444.4 738.4 L444.7 739 L445 739.5 L445.4 739.1 L445.7 738.9 L446 740.9 L446.3 739.1 L446.6 739.2 L447 739.3 L447.3 740.6 L447.6 741 L448 739 L448.4 739.5 L448.8 738.8 L449.2 737.8 L449.5 737 L449.8 739.8 L450.2 741.4 L450.5 740.3 L450.8 740.8 L451.2 742.3 L451.6 741.4 L452 740.6 L452.4 740.1 L452.7 738.9 L453 739.4 L453.4 739.9 L453.7 740 L454 740.2 L454.3 741 L454.6 741 L455 742.1 L455.3 744 L455.6 743 L456 743.4 L456.4 741.6 L456.8 741.5 L457.2 741.8 L457.5 740.5 L457.8 739.7 L458.2 739.3 L458.5 738.5 L458.8 739.2 L459.2 738 L459.6 739.7 L460 740.2 L460.4 739.8 L460.7 740.1 L461 741.6 L461.4 741.9 L461.7 742.6 L462 742.3 L462.3 741.8 L462.6 741.5 L463 742.6 L463.3 742.3 L463.6 742.1 L464 742.9 L464.4 741.2 L464.8 741.1 L465.2 741.4 L465.5 740.7 L465.8 740.2 L466.2 740.6 L466.5 741.5 L466.8 739.2 L467.2 740 L467.6 739.9 L468 739.8 L468.4 740.9 L468.7 739.7 L469 740.9 L469.4 739.1 L469.7 739.8 L470 739.1 L470.4 739.9 L470.8 740 L471.2 739.8 L471.6 739.5 L472 739.6 L472.4 739.4 L472.8 741.3 L473.2 741.2 L473.6 741.7 L473.9 739.7 L474.3 740.4 L474.7 739.3 L475.1 741.4 L475.5 740.4 L475.9 740.5 L476.3 742 L476.7 741 L477.1 740.9 L477.5 740.3 L477.9 740.8 L478.3 740.2 L478.7 740.2 L479.1 740 L479.5 740.7 L479.9 741.1 L480.3 740.4 L480.7 741.5 L481.1 740.2 L481.4 740.6 L481.8 740.8 L482.2 740.6 L482.6 741.4 L483 740.7 L483.4 741.3 L483.8 743.1 L484.2 743 L484.6 742.8 L485 742 L485.4 740.6 L485.8 740 L486.2 741.3 L486.6 741.2 L487 741.7 L487.4 742.6 L487.8 741.6 L488.2 741.2 L488.6 741.7 L488.9 742.9 L489.3 741.7 L489.7 742.3 L490.1 741 L490.5 740.5 L490.9 740.4 L491.3 740.4 L491.7 741 L492.1 743.3 L492.5 742.3 L492.9 742 L493.3 743 L493.7 742.6 L494.1 740.6 L494.5 740.8 L494.9 740.6 L495.3 739.4 L495.7 739.4 L496.1 741.6 L496.4 740.8 L496.8 743.1 L497.2 743.1 L497.6 744.4 L498 742.9 L498.4 743.2 L498.8 743 L499.2 743 L499.6 740.9 L500 741.3 L500.4 741.9 L500.8 742.9 L501.2 743.4 L501.6 745.6 L501.9 744.8 L502.3 744.5 L502.7 743.7 L503.1 742.9 L503.5 741.9 L503.9 742 L504.3 742 L504.7 741.1 L505 742.1 L505.4 743.1 L505.8 743.5 L506.2 743.8 L506.6 743 L507 744.1 L507.4 742.8 L507.8 742.5 L508.1 742.3 L508.5 742.4 L508.9 742.1 L509.3 740.7 L509.7 740.8 L510.1 741.4 L510.5 739.9 L510.9 740 L511.2 740.5 L511.6 741.1 L512 742.2 L512.4 744.2 L512.8 743.9 L513.2 741.6 L513.6 742.8 L514 742.5 L514.4 742.2 L514.7 743.8 L515.1 743.9 L515.5 746 L515.9 744.3 L516.3 745.6 L516.7 744.1 L517.1 744.1 L517.5 745.4 L517.8 743.6 L518.2 743.5 L518.6 742.4 L519 743.6 L519.4 744.5 L519.8 743.4 L520.2 743.4 L520.6 744.6 L520.9 745 L521.3 745.7 L521.7 747.5 L522.1 747.3 L522.5 746.4 L522.9 745.9 L523.3 747.9 L523.7 746.4 L524.1 747.2 L524.4 747.1 L524.8 746.1 L525.2 745.4 L525.6 743.6 L526 746 L526.4 745.1 L526.8 743.8 L527.2 743.4 L527.5 744.2 L527.9 742.3 L528.3 744.4 L528.7 744.9 L529.1 743.7 L529.5 744.1 L529.9 746.9 L530.3 746.2 L530.6 747.5 L531 748.1 L531.4 746.5 L531.8 748.1 L532.2 748 L532.6 746.1 L533 745.6 L533.4 747 L533.8 744.7 L534.1 745.2 L534.5 744.2 L534.9 743.7 L535.3 744 L535.7 742.2 L536.1 743.8 L536.5 745.3 L536.9 745.4 L537.2 745.7 L537.6 747.8 L538 746.2 L538.4 745 L538.8 745.7 L539.2 745.8 L539.6 745.9 L540 746.7 L540.3 746.3 L540.7 746.5 L541.1 748.4 L541.5 747.6 L541.9 748.9 L542.3 746.7 L542.7 747.6 L543.1 747.8 L543.4 748.7 L543.8 748.2 L544.2 748.6 L544.6 747.9 L545 747.2" fill="none" stroke="#0000ff" stroke-width="6.0" stroke-linejoin="round" stroke-linecap="round" />
</g>
<line x1="297.8" y1="44.8" x2="297.8" y2="719" stroke="#8800ee" stroke-width="5" stroke-dasharray="5.15 5.15"/>
<text x="314.3" y="54.5" font-family="Liberation Sans, sans-serif" font-weight="bold" font-size="33" fill="#6666cc" text-anchor="start" >g</text>
<line x1="53" y1="38.5" x2="110" y2="38.5" stroke="#000000" stroke-width="6" stroke-linecap="round"/>
<text x="118" y="48.3" font-family="Liberation Sans, sans-serif" font-weight="bold" font-size="26" fill="#000" text-anchor="start" >0.5/0.5</text>
<line x1="53" y1="189.5" x2="110" y2="189.5" stroke="#cc0000" stroke-width="6" stroke-linecap="round"/>
<text x="120" y="198" font-family="Liberation Sans, sans-serif" font-weight="bold" font-size="26" fill="#000" text-anchor="start" >0.4/0.5</text>
<line x1="53" y1="341" x2="110" y2="341" stroke="#38ff38" stroke-width="6" stroke-linecap="round"/>
<text x="121" y="350" font-family="Liberation Sans, sans-serif" font-weight="bold" font-size="26" fill="#000" text-anchor="start" >0.3/0.5</text>
<line x1="53" y1="492.3" x2="110" y2="492.3" stroke="#ff8800" stroke-width="6" stroke-linecap="round"/>
<text x="116.6" y="503" font-family="Liberation Sans, sans-serif" font-weight="bold" font-size="26" fill="#000" text-anchor="start" >0.25/0.5</text>
<line x1="53" y1="643.5" x2="110" y2="643.5" stroke="#0000ff" stroke-width="6" stroke-linecap="round"/>
<text x="120" y="653" font-family="Liberation Sans, sans-serif" font-weight="bold" font-size="26" fill="#000" text-anchor="start" >0.2/0.5</text>
<rect x="50.3" y="20.5" width="495.7" height="757.0" fill="none" stroke="#000" stroke-width="4.5"/>
<line x1="105.3" y1="777.5" x2="105.3" y2="787.0" stroke="#000" stroke-width="4.5"/>
<text x="105.3" y="816.5" font-family="Liberation Sans, sans-serif" font-weight="bold" font-size="30" fill="#000" text-anchor="middle" >10</text>
<line x1="215.4" y1="777.5" x2="215.4" y2="787.0" stroke="#000" stroke-width="4.5"/>
<text x="215.4" y="816.5" font-family="Liberation Sans, sans-serif" font-weight="bold" font-size="30" fill="#000" text-anchor="middle" >20</text>
<line x1="325.5" y1="777.5" x2="325.5" y2="787.0" stroke="#000" stroke-width="4.5"/>
<text x="325.5" y="816.5" font-family="Liberation Sans, sans-serif" font-weight="bold" font-size="30" fill="#000" text-anchor="middle" >30</text>
<line x1="435.6" y1="777.5" x2="435.6" y2="787.0" stroke="#000" stroke-width="4.5"/>
<text x="435.6" y="816.5" font-family="Liberation Sans, sans-serif" font-weight="bold" font-size="30" fill="#000" text-anchor="middle" >40</text>
<line x1="545.7" y1="777.5" x2="545.7" y2="787.0" stroke="#000" stroke-width="4.5"/>
<text x="545.7" y="816.5" font-family="Liberation Sans, sans-serif" font-weight="bold" font-size="30" fill="#000" text-anchor="middle" >50</text>
<line x1="160.3" y1="777.5" x2="160.3" y2="782.0" stroke="#000" stroke-width="4.5"/>
<line x1="270.4" y1="777.5" x2="270.4" y2="782.0" stroke="#000" stroke-width="4.5"/>
<line x1="380.6" y1="777.5" x2="380.6" y2="782.0" stroke="#000" stroke-width="4.5"/>
<line x1="490.6" y1="777.5" x2="490.6" y2="782.0" stroke="#000" stroke-width="4.5"/>
<text x="296" y="854" font-family="Liberation Sans, sans-serif" font-weight="bold" font-size="31.5" fill="#000" text-anchor="middle" >2 theta (°)</text>
<text x="0" y="0" font-family="Liberation Sans, sans-serif" font-weight="bold" font-size="31.5" fill="#000" text-anchor="middle" transform="translate(23 354) rotate(-90) scale(1.0 1.0)" >Intensity (a.u.)</text>
<text x="6" y="32.5" font-family="Liberation Sans, sans-serif" font-weight="bold" font-size="36" fill="#000" text-anchor="start" >a)</text>
<g clip-path="url(#clipB)">
<path d="M672 41.4 L673.3 42.4 L674.7 43 L676 42.5 L677.3 42.3 L678.7 43.2 L680 43.7 L681.4 44.1 L682.9 43 L684.3 43.1 L685.7 44.1 L687.1 44.1 L688.6 44.7 L690 44.5 L691.4 43.8 L692.9 43.6 L694.3 44.9 L695.7 43.3 L697.1 42.9 L698.6 42.6 L700 43 L701.4 42.9 L702.9 42.4 L704.3 42.3 L705.7 42.3 L707.1 42.3 L708.6 42.3 L710 41.6 L711.5 40.4 L713 41.4 L714.5 40 L716 40.4 L717 42.7 L718 46 L719.5 50 L721 54.7 L722.5 60.3 L724 63.3 L725.5 66.7 L727 68.6 L728.5 72.2 L730 75.6 L731.4 77.3 L732.9 79.5 L734.3 81.4 L735.7 82.8 L737.1 85.6 L738.6 86.9 L740 90.2 L741.4 90.6 L742.9 92.7 L744.3 93.9 L745.7 95.9 L747.1 96.6 L748.6 99 L750 99.9 L751.5 102 L753 103 L754.5 104 L756 104.9 L757.5 107 L759 108.2 L760.5 110.1 L762 110.4 L763.5 112.2 L765 113.5 L766.4 114.2 L767.8 115 L769.2 115.9 L770.6 116.3 L772 117 L773.5 120 L775 123.2 L776.5 126.4 L778 128.8 L779.4 129 L780.8 129.1 L782.2 129.3 L783.6 129.3 L785 129.8 L786.5 130.5 L788 129.7 L789.5 129.7 L791 131.3 L792.5 130.6 L794 131.2 L795.5 131.4 L797 130.6 L798.5 132.6 L800 132.5 L801.4 131.2 L802.8 131.1 L804.2 130.3 L805.6 129.4 L807 129.3 L808.4 129 L809.9 128.8 L811.3 128 L812.8 127 L814.2 127.1 L815.7 125.4 L817.1 125.6 L818.6 125.2 L820 123.9 L821.4 122.7 L822.9 122.8 L824.3 123 L825.7 122.7 L827.1 122.8 L828.6 121.2 L830 121.3 L831.4 121.2 L832.9 120.4 L834.3 119 L835.7 120.2 L837.1 120.5 L838.6 119.5 L840 118.1 L841.4 117.6 L842.9 117.2 L844.3 117.5 L845.7 115.8 L847.1 114.8 L848.6 114.8 L850 113.2 L851.4 112.9 L852.9 110.4 L854.3 109.2 L855.7 108.6 L857.1 107.7 L858.6 106.1 L860 104.7 L861.4 102.3 L862.9 101.7 L864.3 100.5 L865.7 99.3 L867.1 98.6 L868.6 96.9 L870 96.2 L871.4 94.7 L872.9 93.3 L874.3 92.4 L875.7 91.4 L877.1 90.4 L878.6 88.6 L880 87.6 L881.4 85.9 L882.9 86.2 L884.3 85 L885.7 83 L887.1 81.7 L888.6 80.1 L890 79.7 L891.5 78.3 L893 77.9 L894.5 75.5 L896 73.6 L897.5 71.3 L899 71.8 L900.5 69.8 L902 67.5 L903.5 67 L905 64.7 L906.4 65.8 L907.9 63.2 L909.3 61.5 L910.8 59.6 L912.2 57.2 L913.7 56.8 L915.1 54.6 L916.6 54.2 L918 51.4 L919.5 51.4 L921 51.7 L922.5 51.3 L924 49.2 L925.5 48.3 L927 48.8 L928.5 48.1 L930 46.5 L931.5 46.1 L933 45.5 L934.5 44.7 L936 44.4 L937.5 44.8 L939 44 L940.5 44.1 L942 42.5 L943.5 41.9 L945 40.9 L946.4 41.8 L947.8 41.6 L949.2 41.8 L950.6 43.5 L952 44.3 L953.5 46.6 L955 49.4 L956.5 51.4 L958 53.4 L959.3 59.8 L960.7 65.7 L962 71.6 L963.5 75 L965 79 L966.5 83.6 L968 87.6 L969.3 95 L970.7 102.6 L972 110 L973.5 121.2 L975 132.5 L976.5 139.1 L978 145.6 L979.2 148.4 L980.5 149.6 L981.8 152.6 L983 154.1 L984.2 154.7 L985.5 154.8 L986.8 153.7 L988 155.4 L989.4 154.2 L990.8 153.7 L992.2 153.5 L993.6 153.6 L995 153.2 L996.4 152.3 L997.9 150 L999.3 149.6 L1000.7 147.7 L1002.1 147.9 L1003.6 147.3 L1005 145.6 L1006.4 145.2 L1007.9 144.2 L1009.3 143.6 L1010.7 141.8 L1012.1 140.8 L1013.6 139.9 L1015 140.2 L1016.4 138.7 L1017.9 137 L1019.3 136 L1020.7 134.8 L1022.1 133.8 L1023.6 132.4 L1025 131.2 L1026.2 132.7 L1027.5 134.9 L1028.8 137.9 L1030 139.3 L1031.2 138.3 L1032.5 137.4 L1033.8 136.8 L1035 136.2 L1036.5 134.6 L1038 133.9 L1039.5 132.8 L1041 131.2 L1042.3 130.3 L1043.6 129.4 L1044.9 128.5 L1046.2 128.6 L1047.5 126.1 L1048.8 124.3 L1050.1 121.4 L1051.4 118.5 L1052.7 116 L1054 108.5 L1055.3 101 L1056.2 98.3 L1057 95.6 L1058.2 99.8 L1059.3 104.2 L1060.5 107.9 L1061.8 100.9 L1063.2 93.9 L1064.1 88 L1065 82 L1066.1 79.8 L1067.3 76.8 L1068.4 73.9 L1069.7 81.5 L1071 89 L1072 101 L1073.3 96.9 L1074.7 91.8 L1076 87.5 L1077.5 81.3 L1079 75.2 L1080.5 68.8 L1082 61.7 L1083.5 65 L1085 66.8 L1086.5 63.3 L1088 59.7 L1089.5 57.7 L1091 54.8 L1092.5 52.3 L1094 49.4 L1095.3 47.2 L1096.7 44.8 L1098 42.1 L1099.3 41.9 L1100.7 42.4 L1102 44.3 L1103.5 48.6 L1105 54.2 L1106.5 66 L1107.5 71.7 L1108.5 77.5 L1109.7 81.2 L1110.8 83.9 L1112 87.8 L1113.2 86.8 L1114.5 85.8 L1115.7 76.4 L1116.8 67 L1118.3 65.6 L1119.8 97 L1120.9 90.9 L1122 85.1 L1123.5 67 L1125 65.4 L1126.5 62.5 L1128 62.7 L1129.5 62.7 L1131 61.2 L1132.5 77.5 L1134 67 L1135.5 64.5 L1137 61.5 L1138.5 58.9 L1139.8 58.9 L1141 57.6 L1142.3 58.1 L1143 76.8 L1144.5 67 L1146 63.2 L1147.5 58.4 L1148.8 55.6 L1150 53.2 L1151.3 50.3 L1152.8 44.3 L1154.3 40.2 L1155.5 40.9 L1156.8 40.6 L1158 39.9 L1159.5 41.9 L1161 44.4 L1162 58.2 L1163 72" fill="none" stroke="#000000" stroke-width="6.2" stroke-linejoin="round" stroke-linecap="round" />
<path d="M672 194 L673.3 195.2 L674.7 195.3 L676 195.6 L677.3 196.7 L678.7 196.6 L680 196.9 L681.4 198.2 L682.9 197.3 L684.3 197.2 L685.7 197.5 L687.1 198.2 L688.6 199 L690 199.4 L691.4 199.1 L692.9 199.1 L694.3 198.6 L695.7 197.6 L697.1 197.5 L698.6 196.8 L700 195.7 L701.4 196.4 L702.9 196 L704.3 195.8 L705.7 196.9 L707.1 196.3 L708.6 195.6 L710 195.8 L711.3 197 L712.7 195.7 L714 196.2 L715.3 196.1 L716.7 196.1 L718 196.1 L719.3 197.3 L720.7 199.1 L722 200.9 L723.5 205.3 L725 210.1 L726.5 214.7 L728 218.2 L729.5 220.4 L731 221.3 L732.5 223.1 L734 224.9 L735.5 226.7 L737 228.1 L738.5 228.6 L740 232.2 L741.5 233.3 L743 235 L744.5 237.6 L746 238.8 L747.5 240.3 L749 243.2 L750.5 245 L752 246.3 L753.4 247.7 L754.9 248.1 L756.3 247.9 L757.8 250 L759.2 249.8 L760.7 249.7 L762.1 251.1 L763.6 251.5 L765 252.5 L766.4 252 L767.8 253.9 L769.2 254.5 L770.6 255 L772 255.6 L773.4 257 L774.9 257.6 L776.3 258.3 L777.8 258.8 L779.2 260.7 L780.7 261.6 L782.1 262.2 L783.6 263.1 L785 264.4 L786.5 263.1 L788 264.8 L789.5 263.7 L791 265.5 L792.5 266.2 L794 267 L795.5 266.1 L797 266.9 L798.5 267 L800 266.2 L801.4 267.6 L802.9 267.2 L804.3 267.1 L805.7 266.5 L807.1 266.9 L808.6 266.9 L810 267.4 L811.4 266.8 L812.9 268.4 L814.3 266.3 L815.7 266.3 L817.1 266.4 L818.6 265.9 L820 267 L821.4 266.4 L822.9 265.3 L824.3 265.8 L825.7 266.2 L827.1 264.7 L828.6 265.4 L830 265 L831.4 266.1 L832.9 265 L834.3 264.4 L835.7 264.2 L837.1 265.3 L838.6 263.9 L840 265.2 L841.5 262.7 L843 262.8 L844.5 262.3 L846 261.5 L847.5 261.2 L849 261.1 L850.5 259.9 L852 259 L853.5 259.8 L855 259.4 L856.4 257.6 L857.9 257.4 L859.3 255.2 L860.7 256.4 L862.1 254.4 L863.6 254.1 L865 254.8 L866.4 252.4 L867.9 252.3 L869.3 251.1 L870.7 250 L872.1 249.6 L873.6 249.7 L875 248.2 L876.4 247.6 L877.9 247.4 L879.3 246 L880.7 244.5 L882.1 245 L883.6 243.4 L885 243.1 L886.4 241 L887.9 241.4 L889.3 239 L890.7 237.9 L892.1 237.6 L893.6 236.7 L895 236.2 L896.4 234.9 L897.9 234.6 L899.3 234.1 L900.7 232.3 L902.1 231 L903.6 230.7 L905 230.4 L906.5 228.9 L908 226.8 L909.5 225 L911 224 L912.5 223 L914 220.7 L915.5 220.2 L917 218.1 L918.5 216.7 L920 214.7 L921.4 214.7 L922.9 213 L924.3 211.1 L925.7 211.3 L927.1 209.6 L928.6 209.3 L930 207.8 L931.4 206.4 L932.9 205.7 L934.3 204.3 L935.7 203.1 L937.1 202.5 L938.6 201.9 L940 200.5 L941.4 199.4 L942.9 198.2 L944.3 197.8 L945.7 196.7 L947.1 196.1 L948.6 194.8 L950 194.7 L951.4 193.5 L952.8 195 L954.2 195.9 L955.6 196.8 L957 196.2 L958.5 200.4 L960 204.9 L961.5 209.3 L963 213.3 L964.2 217.5 L965.5 222.9 L966.8 228.3 L968 233 L969.3 242 L970.7 251 L972 260 L973.3 269 L974.7 278 L976 287 L977.3 291.6 L978.7 296.7 L980 301.3 L981.2 300.6 L982.5 300.5 L983.8 299.9 L985 299.7 L986.3 300.6 L987.7 302.2 L989 302.7 L990.3 304 L991.7 305 L993 305.6 L994.4 306 L995.9 304.5 L997.3 303.3 L998.7 304.1 L1000.1 303.2 L1001.6 302 L1003 302.1 L1004.5 301.5 L1006 300.8 L1007.5 299.3 L1009 299.4 L1010.5 298.2 L1012 297.9 L1013.5 297.3 L1015 296.6 L1016.4 296.5 L1017.9 295.1 L1019.3 295 L1020.7 294 L1022.1 292.8 L1023.6 292.4 L1025 291.9 L1026.2 292.7 L1027.5 292.5 L1028.8 294.1 L1030 294.1 L1031.4 294.1 L1032.9 292.5 L1034.3 292.3 L1035.7 293.2 L1037.1 292.1 L1038.6 292.2 L1040 292.2 L1041.3 290.1 L1042.7 290.2 L1044.1 290.1 L1045.4 288.7 L1046.8 285.7 L1048.1 283.2 L1049.5 280.2 L1050.8 277.9 L1052.3 273.7 L1053.7 268.8 L1055.2 264.7 L1056.2 259.1 L1057.3 253.8 L1058.8 254.1 L1060.2 253.2 L1061.7 254.3 L1062.8 249.6 L1063.9 244.8 L1065 240.6 L1066.4 236.4 L1067.9 233.3 L1069.3 230 L1070.7 230 L1072.2 230.9 L1073.6 231.6 L1075 229.5 L1076.5 227.3 L1077.9 225 L1079.4 222.2 L1080.8 218.2 L1082.3 214.4 L1083.7 217 L1085.2 218 L1086.6 220.5 L1088 214.6 L1089.5 210.5 L1090.9 204.9 L1092.2 201.8 L1093.6 199.8 L1095 196.2 L1096.3 193.6 L1097.7 195.6 L1099 196.6 L1100.4 198.4 L1101.8 199.6 L1103.2 205 L1104.7 210.4 L1106.1 216 L1107.2 220.9 L1108.2 226.1 L1109.3 231.2 L1110.2 234.4 L1111 238.2 L1112.3 237.1 L1113.5 234 L1114.8 232.1 L1115.8 227.6 L1116.9 223.4 L1118 226.6 L1119.1 227.3 L1120.2 229.9 L1121.3 226.5 L1122.3 222.9 L1123.4 219.7 L1124.5 218.8 L1125.6 217.9 L1126.7 217 L1128 217.2 L1129.4 218.8 L1130.8 221.8 L1132.1 222.2 L1133.4 222.2 L1134.8 221 L1136.2 220.2 L1137.5 221.1 L1138.8 219.4 L1140.1 219.6 L1141.4 220.4 L1142.7 220 L1144 219.2 L1145.4 217.6 L1146.9 215.4 L1148.3 211.8 L1149.8 208.7 L1151.2 205.7 L1152.7 202.6 L1153.8 197.6 L1154.8 194.9 L1155.9 191.9 L1157 194 L1158.1 196.6 L1159.2 199.3 L1160.6 198.7 L1162.1 196.8 L1163.5 196.8" fill="none" stroke="#cc0000" stroke-width="6.2" stroke-linejoin="round" stroke-linecap="round" />
<path d="M672 349 L673.5 349.9 L675 349 L676.5 348.7 L678 349.9 L679.5 350.2 L681 350.3 L682.5 350.6 L684 350.4 L685.5 350.4 L687 350.5 L688.5 350.9 L690 351.1 L691.4 351.3 L692.9 350.8 L694.3 349.5 L695.7 350.1 L697.1 349.4 L698.6 349.6 L700 349.4 L701.5 349 L703 347.8 L704.5 349.1 L706 348 L707.5 349.6 L709 348.6 L710.5 348.8 L712 349.9 L713.5 348.1 L715 349.1 L716.2 350.4 L717.5 352.6 L718.8 354.4 L720 357 L721.2 361.1 L722.5 365.9 L723.8 370.6 L725 374.5 L726.2 378.4 L727.5 380.3 L728.8 382.3 L730 385.5 L731.4 387.9 L732.9 389.5 L734.3 390.2 L735.7 392.1 L737.1 393.8 L738.6 395.7 L740 396.7 L741.4 399.1 L742.9 400 L744.3 402 L745.7 404.5 L747.1 406.4 L748.6 407.9 L750 410.1 L751.5 411.5 L753 413.4 L754.5 415.2 L756 416.5 L757.5 418.3 L759 419.3 L760.5 420.8 L762 421.6 L763.3 424.6 L764.7 426 L766 427.9 L767.3 428.3 L768.7 430.6 L770 432.2 L771.3 432.6 L772.7 435.1 L774 436.4 L775.3 436.2 L776.7 438.2 L778 439.9 L779.5 438.3 L781 439.3 L782.5 439.4 L784 439.4 L785.5 437.6 L787 437.6 L788.5 438.1 L790 438.5 L791.4 437.3 L792.9 437.7 L794.3 437.7 L795.8 439 L797.2 438.2 L798.7 439 L800.1 439.1 L801.6 439.5 L803 439.3 L804.5 438.5 L806 438.3 L807.5 437.2 L809 435.7 L810.5 435.3 L812 435.4 L813.5 434.3 L815 433.4 L816.5 432.8 L818 433.5 L819.5 430.9 L821 430.3 L822.5 429.4 L824 428.2 L825.5 428.1 L827 427 L828.5 425.9 L830 424.2 L831.4 425.5 L832.9 425.3 L834.3 424.8 L835.7 423.5 L837.1 424.8 L838.6 424.2 L840 424.7 L841.4 423.8 L842.9 422.9 L844.3 423.1 L845.7 421.8 L847.1 421.6 L848.6 419.7 L850 419.4 L851.5 419.1 L853 417.5 L854.5 415.8 L856 414.7 L857.5 413.8 L859 412.9 L860.5 412.3 L862 410.9 L863.5 410.1 L865 409.1 L866.5 407.5 L868 406.9 L869.5 405.5 L871 403.8 L872.5 402.6 L874 401.5 L875.5 399.9 L877 398.4 L878.5 398 L880 396.5 L881.5 395.9 L883 394.1 L884.5 393.2 L886 392.1 L887.5 390.6 L889 389.7 L890.5 388.1 L892 387 L893.5 386.5 L895 385.1 L896.4 383.1 L897.9 381 L899.3 380.1 L900.7 379 L902.1 375.2 L903.6 375.1 L905 373 L906.4 372.3 L907.9 371.3 L909.3 369.1 L910.8 369.4 L912.2 367.1 L913.7 366.2 L915.1 365.6 L916.6 364.1 L918 363.2 L919.5 362 L921 361 L922.5 360.8 L924 359.5 L925.5 360 L927 358.7 L928.5 358.5 L930 356.4 L931.5 355.2 L933 354.3 L934.5 354.5 L936 353.2 L937.5 353.2 L939 351.5 L940.5 350.7 L942 350.8 L943.5 349.7 L945 349.4 L946.3 350.2 L947.7 350.8 L949 350.7 L950.3 351.7 L951.7 354 L953 353.5 L954.2 355.8 L955.5 357.7 L956.8 359.6 L958 361.5 L959.2 365.9 L960.5 370.4 L961.8 374.4 L963 380 L964.2 383.4 L965.5 387 L966.8 391.6 L968 395.6 L969.3 403.5 L970.7 411.8 L972 420 L973.5 431.2 L975 442.5 L976.2 446.3 L977.5 449.2 L978.8 452.5 L980 456.7 L981.2 456.5 L982.5 457.2 L983.8 458.1 L985 458.4 L986.4 456.9 L987.9 457.7 L989.3 455.9 L990.7 456 L992.1 454.5 L993.6 453 L995 453.4 L996.5 451.8 L998 450.7 L999.5 450.3 L1001 448.4 L1002.5 449 L1004 447.6 L1005.5 447.1 L1007 446 L1008.5 446 L1010 445 L1011.5 444.4 L1013 443.7 L1014.5 441.9 L1016 440.8 L1017.5 439.9 L1019 438.3 L1020.5 437.4 L1022 437.1 L1023.5 435.2 L1025 433.7 L1026.2 435 L1027.5 435.9 L1028.8 437.1 L1030 436.6 L1031.4 436.4 L1032.9 436.8 L1034.3 436.6 L1035.7 436.7 L1037.1 436.2 L1038.6 436.5 L1040 436 L1041.3 435.1 L1042.7 433.1 L1044.1 431.7 L1045.4 429.5 L1046.8 425.8 L1048.1 423.3 L1049.5 420 L1050.8 417.3 L1052.3 410.4 L1053.7 403.7 L1055.2 397.2 L1056.2 396.7 L1057.3 397.2 L1058.4 402.6 L1059.5 408 L1060.6 413.3 L1061.7 390.7 L1063.1 392.4 L1064.6 395.9 L1066 397.9 L1067.1 376.6 L1068.2 375.9 L1069.2 376.2 L1070.3 374.8 L1071.4 385.6 L1072.5 395.7 L1073.6 405.8 L1074.7 396.1 L1075.7 386.3 L1076.8 376.6 L1077.9 371.8 L1079 367.2 L1080.1 362.3 L1081.2 362.3 L1082.2 362.4 L1083.3 363.5 L1084.8 361.8 L1086.2 358.9 L1087.7 357.3 L1088.8 353.4 L1089.8 350.2 L1090.9 347.1 L1092 351.3 L1093.1 354.4 L1094.2 358.5 L1095.6 355.5 L1097.1 352.6 L1098.5 349.6 L1099.6 351.5 L1100.7 352.3 L1101.8 354.3 L1102.9 356.9 L1103.9 359 L1105 362.9 L1106.1 368 L1107.2 373 L1108.3 378.7 L1109.3 385.8 L1110.4 392.8 L1111.5 393.2 L1112.6 394.6 L1113.7 395.2 L1114.8 389.7 L1115.8 384.3 L1116.9 392.9 L1118 401.5 L1119.1 410.2 L1120.2 394.5 L1121.3 378.8 L1122.7 377.2 L1124 375.2 L1125.3 373.1 L1126.7 371.4 L1127.8 371 L1128.8 370.9 L1129.9 370.3 L1131 379.3 L1132.1 388.5 L1133.2 383.3 L1134.2 377.7 L1135.3 372.4 L1136.8 371.3 L1138.2 369.1 L1139.7 368.6 L1140.8 378.2 L1141.8 387.4 L1142.9 379.3 L1144 371.2 L1145.4 367 L1146.9 362.4 L1148.3 358.7 L1149.8 354.8 L1151.2 350.4 L1152.7 347.2 L1154 345.6 L1155.2 343.4 L1156.5 341.8 L1157.8 345.3 L1159.2 349.2 L1160.3 359.3 L1161.3 369 L1162.4 378.8" fill="none" stroke="#38ff38" stroke-width="6.2" stroke-linejoin="round" stroke-linecap="round" />
<path d="M672 500.6 L673.3 500.3 L674.7 499 L676 498.5 L677.3 499.3 L678.7 499.5 L680 498.9 L681.4 498.1 L682.9 498.5 L684.3 499.3 L685.7 497.7 L687.1 498.8 L688.6 498.4 L690 498.2 L691.4 498.8 L692.8 498.5 L694.2 499.1 L695.6 500.5 L697 499.8 L698.3 499.6 L699.7 499 L701 499.3 L702.3 499.7 L703.7 499.8 L705 499.3 L706.4 499.3 L707.9 499.3 L709.3 499.2 L710.7 499.5 L712.1 498.9 L713.6 499.5 L715 499 L716.4 499.7 L717.8 501.4 L719.2 503.5 L720.6 504.9 L722 506 L723.5 508.6 L725 511.5 L726.5 514.1 L728 516.7 L729.5 517.2 L731 519.2 L732.5 520.9 L734 521.9 L735.5 524 L737 524.2 L738.5 525.8 L740 527.3 L741.5 528 L743 529.1 L744.5 530.3 L746 531.1 L747.5 531.9 L749 532.9 L750.5 534 L752 534.3 L753.5 536.1 L755 536.5 L756.4 538 L757.9 538.6 L759.3 540.3 L760.8 541.1 L762.2 542.3 L763.7 543.1 L765.1 544.6 L766.6 546.4 L768 545.8 L769.2 548.6 L770.5 550.1 L771.8 551.4 L773 552.6 L774.3 557.2 L775.7 559.8 L777 563.4 L778.5 563.8 L780 564.6 L781.2 564.5 L782.5 563.3 L783.8 561.7 L785 560.7 L786.4 561.1 L787.9 560.4 L789.3 560.4 L790.7 560.8 L792.1 561.3 L793.6 561.2 L795 560.9 L796.2 561.7 L797.5 561.2 L798.8 561.3 L800 562.9 L801.2 560.5 L802.5 559.9 L803.8 558.8 L805 557.6 L806.5 557.1 L808 556.7 L809.5 556.1 L811 555 L812.5 554.8 L814 554.9 L815.5 554 L817 552.9 L818.5 552.6 L820 551.5 L821.5 551.1 L823 551.1 L824.5 551.8 L826 550.4 L827.5 549.4 L829 550 L830.5 549.4 L832 549.8 L833.5 549.7 L835 548.6 L836.5 548.7 L838 548 L839.5 548.8 L841 547.6 L842.5 547.8 L844 548.7 L845.5 546.9 L847 547.2 L848.5 546.9 L850 546.9 L851.5 546.2 L853 545.9 L854.5 544.6 L856 543.9 L857.5 542.3 L859 542.3 L860.5 540.7 L862 541.1 L863.5 539.7 L865 539.5 L866.5 538 L868 537.6 L869.5 536.8 L871 536.3 L872.5 535.2 L874 534.2 L875.5 533.6 L877 532.7 L878.5 531.8 L880 530.9 L881.5 530.4 L883 531.6 L884.5 529.9 L886 529.2 L887.5 529.8 L889 529.1 L890.5 528.4 L892 528.6 L893.5 528.5 L895 526.8 L896.2 527.3 L897.5 526.4 L898.8 526.1 L900 524.7 L901.5 524.8 L903 523.6 L904.5 520.7 L906 521.6 L907.5 520.7 L909 518.3 L910.5 518.2 L912 516.9 L913.5 516.1 L915 514.6 L916.5 514.5 L918 513.8 L919.5 512.6 L921 511.8 L922.5 510.2 L924 510.5 L925.5 508.8 L927 508.6 L928.5 507.4 L930 508.3 L931.5 506 L933 505.8 L934.5 504 L936 503 L937.5 502.4 L939 501 L940.5 501.1 L942 498.9 L943.5 498.8 L945 496.4 L946.4 496.7 L947.9 497.6 L949.3 496.8 L950.7 498.5 L952.1 498 L953.6 497.9 L955 498.9 L956.2 500.3 L957.5 502.8 L958.8 504.5 L960 507.4 L961.2 509.8 L962.5 510.6 L963.8 513.7 L965 515.5 L966.2 518.6 L967.5 521.1 L968.8 524.8 L970 527.9 L971.5 542 L973 555.5 L974 574.6 L975 593.8 L976 579.1 L977 564.5 L978.5 578 L980 591.5 L981.5 596.3 L983 600.7 L984.5 604.7 L986 608.4 L987.3 599.8 L988.7 591.1 L990 582.5 L991.5 582.2 L993 580.8 L994.5 579 L996 578 L997.4 575.7 L998.8 573.3 L1000.2 571.5 L1001.6 569.3 L1003 567.7 L1004.5 567.6 L1006 566.8 L1007.5 565.6 L1009 565.6 L1010.5 564.8 L1012 564 L1013.5 563.1 L1015 560 L1016.5 559 L1018 555.8 L1019.4 555.4 L1020.8 553.6 L1022.2 553.1 L1023.6 551.5 L1025 549.6 L1026.5 553.1 L1028 556.1 L1029 567.2 L1030 579 L1031.3 572.6 L1032.7 566.7 L1034 559.9 L1035.5 558.8 L1037 557 L1038.5 556.8 L1040 555.3 L1041.1 577.5 L1042.2 571 L1043.2 564.5 L1044.3 558 L1045.8 556.6 L1047.2 554.3 L1048.7 551.6 L1050.1 545.1 L1051.6 538.5 L1053 531.7 L1054.4 526.6 L1055.9 521.8 L1057.3 517.1 L1058.4 515.6 L1059.5 515.9 L1060.3 530.4 L1061.1 545 L1061.9 534.1 L1062.8 523.3 L1063.9 517.2 L1064.9 511.2 L1066 505 L1067.3 502.2 L1068.7 499.9 L1070.1 506 L1071.4 512.6 L1072.2 535.2 L1073 558 L1074.4 551.8 L1075.8 545.2 L1076.8 531.5 L1077.9 518 L1079 515.5 L1080.1 512 L1081.2 509.2 L1082.6 508.6 L1084.1 507.2 L1085.5 507.1 L1086.9 507.3 L1088.4 510 L1089.8 510.7 L1090.9 501.7 L1092.2 500.3 L1093.6 499.2 L1095 498.2 L1096.3 496.5 L1097.8 497.1 L1099.2 496.9 L1100.7 497.7 L1102.1 500.1 L1103.6 502.4 L1105 503.1 L1106.1 507.4 L1107.2 512.2 L1108.3 516 L1109.3 523.9 L1110.4 532 L1111.5 535.7 L1112.6 539.9 L1113.7 543.1 L1114.8 532 L1115.8 521.2 L1116.9 520.7 L1118 520.7 L1119.1 543.4 L1120.2 566.7 L1121.2 550.5 L1122.3 534.2 L1123.4 528.4 L1124.5 522.6 L1125.6 516.9 L1127 516.6 L1128.5 514.5 L1129.9 513.5 L1131 524.5 L1132.1 535.3 L1133.2 528.4 L1134.2 521.6 L1135.3 514.7 L1136.7 513.6 L1138 512.7 L1139.4 510.5 L1140.8 510.2 L1141.8 522.8 L1142.9 535.3 L1144 528.4 L1145.1 521.6 L1146.2 514.7 L1147.5 512.4 L1148.8 509.8 L1150.1 508.9 L1151.4 504.8 L1152.7 503.4 L1154.1 501.6 L1155.6 499 L1157 499.1 L1158.1 496.6 L1159.2 492.3 L1160.3 522.3 L1161.3 508.2 L1162.4 494.1 L1163.5 525.5" fill="none" stroke="#ff8800" stroke-width="6.2" stroke-linejoin="round" stroke-linecap="round" />
<path d="M672 649.1 L673.5 649.1 L675 649.1 L676.5 649 L678 649.4 L679.5 649.4 L681 650 L682.5 649.1 L684 651 L685.5 648.1 L687 649.9 L688.5 650.4 L690 649.9 L691.5 649.3 L693 649.4 L694.5 649.5 L696 649.6 L697.5 647.9 L699 648.5 L700.5 647.8 L702 648.4 L703.5 647.3 L705 647.4 L706.5 647.4 L708 646.3 L709.5 646.1 L711 645.1 L712.5 644.9 L714 643.7 L715.5 646.9 L717 649.8 L718.5 652.4 L720 656.6 L721.2 659.7 L722.5 664.6 L723.8 670.2 L725 675.1 L726.2 678 L727.5 681.5 L728.8 684.9 L730 686.7 L731.4 687.9 L732.9 690.2 L734.3 692.6 L735.7 693.9 L737.1 695.3 L738.6 697.2 L740 698.9 L741.4 699.9 L742.9 703 L744.3 704.4 L745.7 706.7 L747.1 708.6 L748.6 711 L750 713.4 L751.5 714.6 L753 716.5 L754.5 718.7 L756 720.2 L757.5 721.4 L759 723.9 L760.5 725 L762 726.8 L763.3 727.6 L764.7 728.8 L766 728.2 L767.3 729 L768.7 729.8 L770 729.8 L771.3 731.9 L772.7 734.1 L774 734.2 L775.3 736.7 L776.7 738 L778 741 L779.5 740.7 L781 741.1 L782.5 741.1 L784 741.1 L785.5 742.1 L787 742.6 L788.5 742.9 L790 744.2 L791.4 743.8 L792.9 743.1 L794.3 743.5 L795.7 744 L797.1 743.4 L798.6 744 L800 743.9 L801.5 743.8 L803 743.3 L804.5 742.3 L806 742.8 L807.5 741.3 L809 741.4 L810.5 740 L812 739.5 L813.5 739.2 L815 738.8 L816.4 739 L817.9 737.4 L819.3 738.6 L820.7 736.8 L822.1 737.8 L823.6 736.7 L825 736 L826.4 736.3 L827.9 735.2 L829.3 735 L830.7 734.7 L832.1 735.7 L833.6 733.4 L835 734.5 L836.5 732.8 L838 732 L839.5 731.6 L841 731.9 L842.5 730.6 L844 729.8 L845.5 729.9 L847 729.2 L848.5 729.1 L850 727.4 L851.4 727.4 L852.9 726 L854.3 723.7 L855.7 722.6 L857.1 721.7 L858.6 720 L860 719.2 L861.4 717.8 L862.9 716.2 L864.3 714.3 L865.7 712.5 L867.1 712.4 L868.6 710.3 L870 710.2 L871.4 709.3 L872.9 707.1 L874.3 706.2 L875.7 705 L877.1 703.5 L878.6 701.2 L880 699.9 L881.4 698.9 L882.9 697.9 L884.3 696.1 L885.7 695.3 L887.1 694.6 L888.6 692.4 L890 691.3 L891.4 689.6 L892.9 688.8 L894.3 688.2 L895.7 687.2 L897.1 685.5 L898.6 683.7 L900 684 L901.5 680.3 L903 679.5 L904.5 677.8 L906 676.6 L907.5 675.3 L909 673.1 L910.5 673.6 L912 671.2 L913.5 669 L915 666.7 L916.5 665.1 L918 665.4 L919.5 664.1 L921 662.8 L922.5 662.2 L924 660.6 L925.5 658.5 L927 657.2 L928.5 656.9 L930 656 L931.5 655.4 L933 654.3 L934.5 653.2 L936 651.9 L937.5 651.8 L939 650.9 L940.5 649.4 L942 648.3 L943.5 647.7 L945 646.4 L946.3 648.2 L947.7 648.6 L949 650.5 L950.3 651.1 L951.7 652.9 L953 655 L954.4 655.9 L955.8 659.2 L957.2 663.1 L958.6 665 L960 667.4 L961.2 671.9 L962.5 676.2 L963.8 680.3 L965 684.5 L966.2 690.1 L967.5 695.2 L968.8 700.7 L970 705.6 L971.5 716.8 L973 728 L974 737 L975 746 L976.5 748.9 L978 753.2 L979.2 754.5 L980.5 755.8 L981.8 758.3 L983 759.3 L984.4 758.2 L985.9 759.7 L987.3 759 L988.7 759.2 L990.1 759.6 L991.6 759.8 L993 759.5 L994.4 757.6 L995.8 756.4 L997.2 754.8 L998.6 754 L1000 752.4 L1001.3 752.6 L1002.7 751.3 L1004 751.6 L1005.3 751.4 L1006.7 750.2 L1008 749.3 L1009.4 748.6 L1010.8 746.2 L1012.2 745.2 L1013.6 744.6 L1015 742.9 L1016.4 741.8 L1017.9 741.1 L1019.3 740.4 L1020.7 740.8 L1022.1 740.4 L1023.6 739.5 L1025 738.1 L1026.2 739.7 L1027.5 740.5 L1028.8 741.8 L1030 744.1 L1031.4 743.3 L1032.9 741.5 L1034.3 740.8 L1035.7 740.8 L1037.1 739.1 L1038.6 739.6 L1040 738.9 L1041.3 736.6 L1042.7 735.9 L1044.1 735.5 L1045.4 734.5 L1046.8 731.8 L1048.1 729.5 L1049.5 727.3 L1050.8 725.5 L1052.3 719.7 L1053.7 713.7 L1055.2 707.8 L1056.3 703.6 L1057.7 704.6 L1059 705.6 L1060.3 706.2 L1061.7 708 L1062.8 695 L1064.2 692.6 L1065.5 690.7 L1066.8 687.9 L1068.2 685.6 L1069.3 685.3 L1070.3 683.5 L1071.4 684.5 L1072.5 689.7 L1073.6 694.8 L1074.7 692.5 L1075.7 691.6 L1076.8 690.5 L1077.9 684.2 L1079 677.7 L1080.1 671.2 L1081.5 670.5 L1083 671.3 L1084.4 671.1 L1085.5 668.3 L1086.6 665.1 L1087.7 662.2 L1088.8 659.2 L1089.8 654.9 L1090.9 651.6 L1092 652 L1093.1 652.9 L1094.2 653.3 L1095.6 652.2 L1097.1 649.9 L1098.5 647.1 L1099.9 650.1 L1101.4 651 L1102.8 653.5 L1103.9 655.6 L1105 659 L1106.1 662.2 L1107.2 669 L1108.3 675.5 L1109.4 677.4 L1110.4 679.9 L1111.5 681.9 L1112.6 682.3 L1113.7 682.2 L1114.8 683.5 L1115.8 676 L1116.9 669 L1118 674.5 L1119.1 680 L1120.2 685.3 L1121.2 676 L1122.3 666.8 L1123.8 666.1 L1125.2 665.7 L1126.7 663.3 L1128 665.7 L1129.4 667.4 L1130.8 669 L1132.1 671.2 L1133.2 668.3 L1134.2 666.4 L1135.3 663.9 L1136.8 663.7 L1138.2 662.3 L1139.7 660.9 L1141.1 665.6 L1142.4 670.3 L1143.8 666.1 L1145.1 661.4 L1146.5 661.1 L1148 657.2 L1149.4 655.3 L1150.9 652.1 L1152.3 650.3 L1153.8 648.4 L1154.9 647.8 L1155.9 646.7 L1157 647.2 L1158.4 646.6 L1159.9 647.5 L1161.3 649.5 L1162.4 658.2 L1163.5 647.3" fill="none" stroke="#0000ff" stroke-width="6.2" stroke-linejoin="round" stroke-linecap="round" />
</g>
<line x1="971.1" y1="60.5" x2="971.1" y2="735" stroke="#6600cc" stroke-width="5" stroke-dasharray="5.2 5.1"/>
<line x1="986.8" y1="60.5" x2="986.8" y2="735" stroke="#ff0000" stroke-width="5" stroke-dasharray="5.2 5.1"/>
<line x1="1030.8" y1="60.5" x2="1030.8" y2="735" stroke="#ff3399" stroke-width="5" stroke-dasharray="5.2 5.1"/>
<line x1="1076" y1="60.5" x2="1076" y2="735" stroke="#99cc33" stroke-width="5" stroke-dasharray="5.2 5.1"/>
<line x1="672" y1="36.3" x2="730" y2="36.3" stroke="#000000" stroke-width="6.5" stroke-linecap="round"/>
<text x="734" y="51.3" font-family="Liberation Sans, sans-serif" font-weight="bold" font-size="26" fill="#000" text-anchor="start" >0.5/0.5</text>
<line x1="672" y1="184.5" x2="730" y2="184.5" stroke="#cc0000" stroke-width="6.5" stroke-linecap="round"/>
<text x="739.6" y="195.7" font-family="Liberation Sans, sans-serif" font-weight="bold" font-size="26" fill="#000" text-anchor="start" >0.4/0.5</text>
<line x1="672" y1="335.6" x2="730" y2="335.6" stroke="#38ff38" stroke-width="6.5" stroke-linecap="round"/>
<text x="739.6" y="345.7" font-family="Liberation Sans, sans-serif" font-weight="bold" font-size="26" fill="#000" text-anchor="start" >0.3/0.5</text>
<line x1="672" y1="486.7" x2="730" y2="486.7" stroke="#ff8800" stroke-width="6.5" stroke-linecap="round"/>
<text x="741.8" y="496.8" font-family="Liberation Sans, sans-serif" font-weight="bold" font-size="26" fill="#000" text-anchor="start" >0.25/0.5</text>
<line x1="672" y1="638.2" x2="730" y2="638.2" stroke="#0000ff" stroke-width="6.5" stroke-linecap="round"/>
<text x="742.4" y="649" font-family="Liberation Sans, sans-serif" font-weight="bold" font-size="26" fill="#000" text-anchor="start" >0.2/0.5</text>
<text x="972" y="48" font-family="Liberation Sans, sans-serif" font-weight="bold" font-size="26" fill="#ff00ff" text-anchor="start" ><tspan font-family="Liberation Serif, serif" font-weight="normal">υ</tspan> Ar(C=C)</text>
<text x="0" y="0" font-family="Liberation Sans, sans-serif" font-weight="bold" font-size="26.5" fill="#8000cc" text-anchor="start" transform="translate(950.6 335) rotate(-90) scale(1.0 1.0)" ><tspan font-family="Liberation Serif, serif" font-weight="normal" font-size="28">υ</tspan> (C=O)</text>
<text x="0" y="0" font-family="Liberation Sans, sans-serif" font-weight="bold" font-size="26.5" fill="#ff0000" text-anchor="start" transform="translate(1022.6 275.5) rotate(-90) scale(1.0 1.0)" ><tspan font-family="Liberation Serif, serif" font-weight="normal" font-size="28">υ</tspan> (C=N)</text>
<text x="0" y="0" font-family="Liberation Sans, sans-serif" font-weight="bold" font-size="26.5" fill="#99cc33" text-anchor="start" transform="translate(1110.4 333) rotate(-90) scale(1.0 1.0)" ><tspan font-family="Liberation Serif, serif" font-weight="normal" font-size="28">υ</tspan> (C-N)</text>
<rect x="670.5" y="21.7" width="494.0" height="754.5999999999999" fill="none" stroke="#000" stroke-width="4.5"/>
<line x1="738.5" y1="776.3" x2="738.5" y2="785.8" stroke="#000" stroke-width="4.5"/>
<text x="738.5" y="815.5" font-family="Liberation Sans, sans-serif" font-weight="bold" font-size="29.5" fill="#000" text-anchor="middle" >3500</text>
<line x1="834.8" y1="776.3" x2="834.8" y2="785.8" stroke="#000" stroke-width="4.5"/>
<text x="834.8" y="815.5" font-family="Liberation Sans, sans-serif" font-weight="bold" font-size="29.5" fill="#000" text-anchor="middle" >2800</text>
<line x1="931.1" y1="776.3" x2="931.1" y2="785.8" stroke="#000" stroke-width="4.5"/>
<text x="931.1" y="815.5" font-family="Liberation Sans, sans-serif" font-weight="bold" font-size="29.5" fill="#000" text-anchor="middle" >2100</text>
<line x1="1027.4" y1="776.3" x2="1027.4" y2="785.8" stroke="#000" stroke-width="4.5"/>
<text x="1027.4" y="815.5" font-family="Liberation Sans, sans-serif" font-weight="bold" font-size="29.5" fill="#000" text-anchor="middle" >1400</text>
<line x1="1123.7" y1="776.3" x2="1123.7" y2="785.8" stroke="#000" stroke-width="4.5"/>
<text x="1123.7" y="815.5" font-family="Liberation Sans, sans-serif" font-weight="bold" font-size="29.5" fill="#000" text-anchor="middle" >700</text>
<line x1="690.3" y1="776.3" x2="690.3" y2="781.3" stroke="#000" stroke-width="4.5"/>
<line x1="786.6" y1="776.3" x2="786.6" y2="781.3" stroke="#000" stroke-width="4.5"/>
<line x1="882.9" y1="776.3" x2="882.9" y2="781.3" stroke="#000" stroke-width="4.5"/>
<line x1="979.2" y1="776.3" x2="979.2" y2="781.3" stroke="#000" stroke-width="4.5"/>
<line x1="1075.5" y1="776.3" x2="1075.5" y2="781.3" stroke="#000" stroke-width="4.5"/>
<text x="922" y="856" font-family="Liberation Sans, sans-serif" font-weight="bold" font-size="30.8" fill="#000" text-anchor="middle" >Wavenumber (cm<tspan font-size="15" font-weight="normal" dy="-15">-1</tspan><tspan dy="15">)</tspan></text>
<text x="0" y="0" font-family="Liberation Sans, sans-serif" font-weight="bold" font-size="31.5" fill="#000" text-anchor="middle" transform="translate(628.5 351) rotate(-90) scale(1.0 1.0)" >Transmittance (a.u.)</text>
<text x="615" y="29.5" font-family="Liberation Sans, sans-serif" font-weight="bold" font-size="36" fill="#000" text-anchor="start" >b)</text>
<path d="M48.7 1260.2 L49.3 1259.8 L50.1 1259.1 L51.1 1258.4 L52.2 1257.7 L53.2 1257.2 L54.1 1257 L54.9 1257.1 L55.6 1257.4 L56.2 1257.9 L56.9 1258.6 L57.6 1259.3 L58.4 1260.2 L59.2 1261.4 L60 1263 L60.8 1264.7 L61.7 1266.2 L62.7 1267.4 L63.8 1267.8 L65 1267.3 L66.3 1266.1 L67.7 1264.5 L69.2 1262.7 L70.8 1261.2 L72.5 1260.2 L74.5 1259.9 L76.7 1260.1 L79 1260.6 L81.3 1261 L83.5 1261.1 L85.5 1260.6 L87.2 1259.4 L88.8 1257.5 L90.3 1255.4 L91.7 1253.3 L93 1251.5 L94.2 1250.4 L95.3 1250.2 L96.1 1250.6 L96.9 1251.4 L97.7 1252.2 L98.5 1252.7 L99.6 1252.6 L100.9 1251.7 L102.4 1250.1 L104 1248.2 L105.5 1246.4 L107 1244.9 L108.3 1244 L109.4 1244.1 L110.3 1244.9 L111.1 1246 L111.9 1247.1 L112.7 1247.6 L113.7 1247.2 L114.9 1245.5 L116.1 1242.8 L117.4 1239.6 L118.8 1236.4 L120.1 1233.7 L121.3 1232 L122.4 1231.7 L123.5 1232.3 L124.6 1233.5 L125.6 1234.7 L126.7 1235.5 L127.8 1235.3 L129 1233.9 L130.2 1231.5 L131.5 1228.7 L132.8 1225.9 L134 1223.6 L135.3 1222.3 L136.5 1222.5 L137.8 1223.8 L139 1225.7 L140.3 1227.4 L141.6 1228.3 L142.9 1227.7 L144.3 1225.1 L145.8 1220.9 L147.2 1215.9 L148.7 1210.8 L150.2 1206.5 L151.6 1203.8 L152.9 1203 L154.1 1203.7 L155.3 1205.1 L156.6 1206.6 L157.8 1207.5 L159.2 1207.1 L160.7 1205.1 L162.4 1201.8 L164.1 1198 L165.8 1194.1 L167.4 1190.9 L168.9 1188.7 L170.1 1188.2 L171.1 1188.9 L172.1 1190.1 L173 1191.3 L174.1 1191.6 L175.4 1190.4 L177 1187.1 L178.8 1182.2 L180.8 1176.5 L182.8 1170.7 L184.6 1165.9 L186.3 1162.7 L187.7 1161.7 L188.9 1162.4 L190.1 1163.9 L191.2 1165.5 L192.4 1166.4 L193.8 1165.9 L195.5 1163.5 L197.3 1159.7 L199.2 1155.2 L201.2 1150.7 L203 1146.8 L204.7 1144.3 L206.1 1143.7 L207.3 1144.7 L208.4 1146.3 L209.6 1147.7 L210.8 1148 L212.3 1146.4 L214.1 1142.1 L216.1 1135.6 L218.3 1128.1 L220.5 1120.5 L222.5 1114 L224.2 1109.6 L225.5 1107.9 L226.5 1108 L227.4 1109.3 L228.3 1110.6 L229.3 1111.2 L230.7 1110.2 L232.5 1107 L234.7 1102.3 L237.1 1096.8 L239.5 1091.4 L241.7 1086.7 L243.7 1083.6 L245.3 1082.6 L246.7 1083.2 L248 1084.6 L249.3 1085.9 L250.7 1086.5 L252.3 1085.3 L254.3 1081.9 L256.5 1076.9 L258.9 1071 L261.3 1065.1 L263.5 1060 L265.3 1056.5 L266.7 1055.2 L267.7 1055.5 L268.6 1056.7 L269.5 1057.8 L270.5 1058 L271.8 1056.5 L273.5 1052.6 L275.5 1046.9 L277.6 1040.4 L279.8 1033.9 L281.9 1028.4 L283.8 1025 L285.4 1024.2 L286.8 1025.5 L288.1 1027.8 L289.4 1030.1 L290.9 1031.6 L292.5 1031.2 L294.4 1028.5 L296.5 1024 L298.7 1018.6 L300.9 1013.2 L303 1008.6 L305 1005.5 L306.8 1004.6 L308.4 1005.3 L309.9 1006.8 L311.5 1008.2 L313.1 1008.7 L315 1007.5 L317.1 1003.9 L319.4 998.4 L321.9 992 L324.3 985.7 L326.6 980.6 L328.8 977.5 L330.6 977.2 L332.2 979.1 L333.8 982.1 L335.3 985.1 L336.9 987.3 L338.8 987.5 L340.9 985.2 L343.2 981.1 L345.6 976.1 L348.1 971.1 L350.4 966.9 L352.5 964.5 L354.4 964.3 L356 965.8 L357.6 968.1 L359.1 970.5 L360.7 972.3 L362.5 972.5 L364.4 970.7 L366.5 967.4 L368.6 963.4 L370.7 959.6 L372.9 956.7 L375 955.5 L377.1 956.7 L379.2 959.6 L381.3 963.4 L383.4 967.4 L385.5 970.7 L387.5 972.5 L389.4 972.3 L391.3 970.8 L393.1 968.6 L395 966.4 L396.8 964.8 L398.8 964.5 L400.8 965.9 L402.9 968.6 L405.1 971.9 L407.2 975.3 L409.3 978 L411.2 979.5 L413 979.2 L414.6 977.5 L416.1 975.2 L417.6 973.1 L419.3 971.9 L421.2 972.5 L423.5 975.5 L426.1 980.2 L428.8 986 L431.5 991.9 L434.1 997 L436.2 1000.5 L438 1001.9 L439.4 1001.8 L440.6 1001 L441.9 1000.1 L443.3 1000 L445 1001.2 L447.2 1004.5 L449.7 1009.1 L452.4 1014.5 L455.1 1019.8 L457.7 1024.4 L460 1027.5 L461.9 1028.5 L463.5 1027.7 L464.9 1026.2 L466.4 1024.9 L468 1024.9 L470 1027 L472.4 1032 L475.2 1039.4 L478.1 1047.9 L481.1 1056.6 L483.8 1064.3 L486.2 1070 L488.3 1073.5 L490.2 1075.6 L492 1076.7 L493.6 1077.3 L495 1077.9 L496.2 1078.8 L497.3 1079.7 L498.1 1080.4 L498.8 1081 L499.4 1081.7 L500 1082.7 L500.8 1084.2 L501.7 1086.4 L502.7 1089.2 L503.7 1092.2 L504.8 1095.3 L505.8 1098.3 L506.7 1100.8 L507.6 1102.9 L508.5 1104.9 L509.4 1106.7 L510.2 1108.3 L511 1109.7 L511.7 1110.8 L512.3 1111.6 L512.9 1112 L513.4 1112.2 L513.8 1112.3 L514.4 1112.4 L515 1112.5 L515.7 1112.8 L516.5 1113 L517.4 1113.3 L518.2 1113.5 L519.1 1113.5 L520 1113.3 L520.9 1112.7 L521.8 1111.8 L522.8 1110.7 L523.7 1109.7 L524.6 1108.8 L525.4 1108.3 L526.1 1108.1 L526.8 1108 L527.4 1108.1 L528 1108.4 L528.6 1109.1 L529.2 1110 L529.8 1111.4 L530.3 1113.2 L530.9 1115.2 L531.4 1117.4 L532 1119.6 L532.5 1121.7 L533.1 1123.7 L533.6 1125.7 L534.2 1127.8 L534.8 1129.7 L535.3 1131.6 L535.8 1133.3 L536.2 1134.8 L536.6 1136.3 L536.9 1137.6 L537.3 1138.8 L537.7 1139.9 L538.3 1140.8 L539 1141.5 L539.7 1142.1 L540.5 1142.6 L541.4 1142.9 L542.3 1143.1 L543.3 1143.3 L544.5 1143.3 L545.9 1143.2 L547.4 1143.1 L548.8 1142.8 L550 1142.6 L550.8 1142.5" fill="none" stroke="#ff8800" stroke-width="5.0" stroke-linejoin="round" stroke-linecap="round" />
<rect x="48.2" y="886.9" width="503.59999999999997" height="405.1" fill="none" stroke="#000" stroke-width="4.5"/>
<line x1="153.0" y1="1292" x2="153.0" y2="1300" stroke="#000" stroke-width="4.5"/>
<text x="153.0" y="1329" font-family="Liberation Sans, sans-serif" font-weight="bold" font-size="30" fill="#000" text-anchor="middle" >500</text>
<line x1="285.9" y1="1292" x2="285.9" y2="1300" stroke="#000" stroke-width="4.5"/>
<text x="285.9" y="1329" font-family="Liberation Sans, sans-serif" font-weight="bold" font-size="30" fill="#000" text-anchor="middle" >1000</text>
<line x1="418.8" y1="1292" x2="418.8" y2="1300" stroke="#000" stroke-width="4.5"/>
<text x="418.8" y="1329" font-family="Liberation Sans, sans-serif" font-weight="bold" font-size="30" fill="#000" text-anchor="middle" >1500</text>
<line x1="551.7" y1="1292" x2="551.7" y2="1300" stroke="#000" stroke-width="4.5"/>
<text x="551.7" y="1329" font-family="Liberation Sans, sans-serif" font-weight="bold" font-size="30" fill="#000" text-anchor="middle" >2000</text>
<line x1="86.6" y1="1292" x2="86.6" y2="1296.5" stroke="#000" stroke-width="4.5"/>
<line x1="219.4" y1="1292" x2="219.4" y2="1296.5" stroke="#000" stroke-width="4.5"/>
<line x1="352.4" y1="1292" x2="352.4" y2="1296.5" stroke="#000" stroke-width="4.5"/>
<line x1="485.2" y1="1292" x2="485.2" y2="1296.5" stroke="#000" stroke-width="4.5"/>
<text x="328" y="1367" font-family="Liberation Sans, sans-serif" font-weight="bold" font-size="31.5" fill="#000" text-anchor="middle" >Raman shift (cm<tspan font-size="15" font-weight="normal" dy="-15">-1</tspan><tspan dy="15">)</tspan></text>
<text x="0" y="0" font-family="Liberation Sans, sans-serif" font-weight="bold" font-size="31.5" fill="#000" text-anchor="middle" transform="translate(26 1107.5) rotate(-90) scale(1.0 1.0)" >Intensity (a.u.)</text>
<text x="8" y="881" font-family="Liberation Sans, sans-serif" font-weight="bold" font-size="36" fill="#000" text-anchor="start" >c)</text>
<defs><radialGradient id="sph" cx="0.33" cy="0.33" r="0.7"><stop offset="0" stop-color="#ffffff"/><stop offset="0.18" stop-color="#ffd9b0"/><stop offset="0.35" stop-color="#ff8800"/><stop offset="1" stop-color="#ff8800"/></radialGradient></defs>
<line x1="709" y1="915.8" x2="758" y2="915.8" stroke="#ff8800" stroke-width="4.4" stroke-linecap="round"/>
<circle cx="733.5" cy="915.8" r="9.7" fill="url(#sph)"/>
<line x1="709" y1="941.5" x2="758" y2="941.5" stroke="#ff8800" stroke-width="4.4" stroke-linecap="round"/>
<circle cx="733.7" cy="941.5" r="8.0" fill="#fff" stroke="#ff8800" stroke-width="3.3"/>
<text x="769.8" y="924.5" font-family="Liberation Sans, sans-serif" font-weight="bold" font-size="26" fill="#000" text-anchor="start" >Adsorption</text>
<text x="769.8" y="951.2" font-family="Liberation Sans, sans-serif" font-weight="bold" font-size="26" fill="#000" text-anchor="start" >Desorption</text>
<rect x="672.5" y="889.5" width="499.5" height="402.5" fill="none" stroke="#000" stroke-width="4.5"/>
<path d="M678.0 1245.5 L689.7 1240.3 L707.8 1236.7 L718.0 1235.6 L729.4 1234.4 L740.8 1233.4 L752.2 1232.4 L763.6 1231.4 L775.0 1230.4 L786.4 1229.6 L797.8 1228.8 L809.2 1228.0 L820.6 1227.2 L832.0 1226.4 L843.4 1225.5 L854.8 1224.6 L866.2 1223.7 L877.6 1222.8 L889.0 1221.9 L900.4 1220.9 L911.8 1219.9 L923.2 1218.9 L934.6 1217.9 L946.0 1216.8 L957.4 1215.7 L968.8 1214.4 L980.2 1213.1 L991.6 1211.8 L1003.0 1210.5 L1014.4 1208.8 L1025.8 1206.6 L1037.2 1204.3 L1048.6 1201.5 L1060.0 1197.7 L1071.4 1193.4 L1082.8 1188.7 L1094.2 1183.1 L1105.6 1178.9 L1116.4 1176.0 L1127.3 1165.1 L1141.7 1149.2 L1151.7 1113.3 L1157.0 989.5 L1163.3 930.5" fill="none" stroke="#ff8800" stroke-width="4" stroke-linejoin="round"/>
<path d="M723.0 1232.0 L734.4 1231.0 L745.8 1230.0 L757.2 1229.0 L768.6 1228.0 L780.0 1227.0 L791.4 1226.2 L802.8 1225.4 L814.2 1224.6 L825.6 1223.8 L837.0 1223.0 L848.4 1222.1 L859.8 1221.2 L871.2 1220.3 L882.6 1219.4 L894.0 1218.5 L905.4 1217.5 L916.8 1216.5 L928.2 1215.4 L939.6 1214.4 L951.0 1213.4 L962.4 1212.1 L973.8 1210.8 L985.2 1209.5 L996.6 1208.2 L1008.0 1206.9 L1019.4 1204.8 L1030.8 1202.6 L1042.2 1200.4 L1053.6 1196.8 L1065.0 1193.0 L1076.4 1188.3 L1087.8 1183.5 L1099.2 1176.1 L1110.6 1167.7 L1122.0 1155.3 L1133.5 1136.7 L1145.6 1093.3 L1157.0 989.5 L1163.3 930.5" fill="none" stroke="#ff8800" stroke-width="4" stroke-linejoin="round"/>
<circle cx="678.0" cy="1245.5" r="9.6" fill="url(#sph)"/>
<circle cx="689.7" cy="1240.3" r="9.6" fill="url(#sph)"/>
<circle cx="707.8" cy="1236.7" r="9.6" fill="url(#sph)"/>
<circle cx="718.0" cy="1235.6" r="9.6" fill="url(#sph)"/>
<circle cx="729.4" cy="1234.4" r="9.6" fill="url(#sph)"/>
<circle cx="740.8" cy="1233.4" r="9.6" fill="url(#sph)"/>
<circle cx="752.2" cy="1232.4" r="9.6" fill="url(#sph)"/>
<circle cx="763.6" cy="1231.4" r="9.6" fill="url(#sph)"/>
<circle cx="775.0" cy="1230.4" r="9.6" fill="url(#sph)"/>
<circle cx="786.4" cy="1229.6" r="9.6" fill="url(#sph)"/>
<circle cx="797.8" cy="1228.8" r="9.6" fill="url(#sph)"/>
<circle cx="809.2" cy="1228.0" r="9.6" fill="url(#sph)"/>
<circle cx="820.6" cy="1227.2" r="9.6" fill="url(#sph)"/>
<circle cx="832.0" cy="1226.4" r="9.6" fill="url(#sph)"/>
<circle cx="843.4" cy="1225.5" r="9.6" fill="url(#sph)"/>
<circle cx="854.8" cy="1224.6" r="9.6" fill="url(#sph)"/>
<circle cx="866.2" cy="1223.7" r="9.6" fill="url(#sph)"/>
<circle cx="877.6" cy="1222.8" r="9.6" fill="url(#sph)"/>
<circle cx="889.0" cy="1221.9" r="9.6" fill="url(#sph)"/>
<circle cx="900.4" cy="1220.9" r="9.6" fill="url(#sph)"/>
<circle cx="911.8" cy="1219.9" r="9.6" fill="url(#sph)"/>
<circle cx="923.2" cy="1218.9" r="9.6" fill="url(#sph)"/>
<circle cx="934.6" cy="1217.9" r="9.6" fill="url(#sph)"/>
<circle cx="946.0" cy="1216.8" r="9.6" fill="url(#sph)"/>
<circle cx="957.4" cy="1215.7" r="9.6" fill="url(#sph)"/>
<circle cx="968.8" cy="1214.4" r="9.6" fill="url(#sph)"/>
<circle cx="980.2" cy="1213.1" r="9.6" fill="url(#sph)"/>
<circle cx="991.6" cy="1211.8" r="9.6" fill="url(#sph)"/>
<circle cx="1003.0" cy="1210.5" r="9.6" fill="url(#sph)"/>
<circle cx="1014.4" cy="1208.8" r="9.6" fill="url(#sph)"/>
<circle cx="1025.8" cy="1206.6" r="9.6" fill="url(#sph)"/>
<circle cx="1037.2" cy="1204.3" r="9.6" fill="url(#sph)"/>
<circle cx="1048.6" cy="1201.5" r="9.6" fill="url(#sph)"/>
<circle cx="1060.0" cy="1197.7" r="9.6" fill="url(#sph)"/>
<circle cx="1071.4" cy="1193.4" r="9.6" fill="url(#sph)"/>
<circle cx="1082.8" cy="1188.7" r="9.6" fill="url(#sph)"/>
<circle cx="1094.2" cy="1183.1" r="9.6" fill="url(#sph)"/>
<circle cx="1105.6" cy="1178.9" r="9.6" fill="url(#sph)"/>
<circle cx="1116.4" cy="1176.0" r="9.6" fill="url(#sph)"/>
<circle cx="1127.3" cy="1165.1" r="9.6" fill="url(#sph)"/>
<circle cx="1141.7" cy="1149.2" r="9.6" fill="url(#sph)"/>
<circle cx="1151.7" cy="1113.3" r="9.6" fill="url(#sph)"/>
<circle cx="1157.0" cy="989.5" r="9.6" fill="url(#sph)"/>
<circle cx="1163.3" cy="930.5" r="9.6" fill="url(#sph)"/>
<circle cx="723.0" cy="1232.0" r="7.45" fill="#fff" stroke="#ff8800" stroke-width="3.5"/>
<circle cx="734.4" cy="1231.0" r="7.45" fill="#fff" stroke="#ff8800" stroke-width="3.5"/>
<circle cx="745.8" cy="1230.0" r="7.45" fill="#fff" stroke="#ff8800" stroke-width="3.5"/>
<circle cx="757.2" cy="1229.0" r="7.45" fill="#fff" stroke="#ff8800" stroke-width="3.5"/>
<circle cx="768.6" cy="1228.0" r="7.45" fill="#fff" stroke="#ff8800" stroke-width="3.5"/>
<circle cx="780.0" cy="1227.0" r="7.45" fill="#fff" stroke="#ff8800" stroke-width="3.5"/>
<circle cx="791.4" cy="1226.2" r="7.45" fill="#fff" stroke="#ff8800" stroke-width="3.5"/>
<circle cx="802.8" cy="1225.4" r="7.45" fill="#fff" stroke="#ff8800" stroke-width="3.5"/>
<circle cx="814.2" cy="1224.6" r="7.45" fill="#fff" stroke="#ff8800" stroke-width="3.5"/>
<circle cx="825.6" cy="1223.8" r="7.45" fill="#fff" stroke="#ff8800" stroke-width="3.5"/>
<circle cx="837.0" cy="1223.0" r="7.45" fill="#fff" stroke="#ff8800" stroke-width="3.5"/>
<circle cx="848.4" cy="1222.1" r="7.45" fill="#fff" stroke="#ff8800" stroke-width="3.5"/>
<circle cx="859.8" cy="1221.2" r="7.45" fill="#fff" stroke="#ff8800" stroke-width="3.5"/>
<circle cx="871.2" cy="1220.3" r="7.45" fill="#fff" stroke="#ff8800" stroke-width="3.5"/>
<circle cx="882.6" cy="1219.4" r="7.45" fill="#fff" stroke="#ff8800" stroke-width="3.5"/>
<circle cx="894.0" cy="1218.5" r="7.45" fill="#fff" stroke="#ff8800" stroke-width="3.5"/>
<circle cx="905.4" cy="1217.5" r="7.45" fill="#fff" stroke="#ff8800" stroke-width="3.5"/>
<circle cx="916.8" cy="1216.5" r="7.45" fill="#fff" stroke="#ff8800" stroke-width="3.5"/>
<circle cx="928.2" cy="1215.4" r="7.45" fill="#fff" stroke="#ff8800" stroke-width="3.5"/>
<circle cx="939.6" cy="1214.4" r="7.45" fill="#fff" stroke="#ff8800" stroke-width="3.5"/>
<circle cx="951.0" cy="1213.4" r="7.45" fill="#fff" stroke="#ff8800" stroke-width="3.5"/>
<circle cx="962.4" cy="1212.1" r="7.45" fill="#fff" stroke="#ff8800" stroke-width="3.5"/>
<circle cx="973.8" cy="1210.8" r="7.45" fill="#fff" stroke="#ff8800" stroke-width="3.5"/>
<circle cx="985.2" cy="1209.5" r="7.45" fill="#fff" stroke="#ff8800" stroke-width="3.5"/>
<circle cx="996.6" cy="1208.2" r="7.45" fill="#fff" stroke="#ff8800" stroke-width="3.5"/>
<circle cx="1008.0" cy="1206.9" r="7.45" fill="#fff" stroke="#ff8800" stroke-width="3.5"/>
<circle cx="1019.4" cy="1204.8" r="7.45" fill="#fff" stroke="#ff8800" stroke-width="3.5"/>
<circle cx="1030.8" cy="1202.6" r="7.45" fill="#fff" stroke="#ff8800" stroke-width="3.5"/>
<circle cx="1042.2" cy="1200.4" r="7.45" fill="#fff" stroke="#ff8800" stroke-width="3.5"/>
<circle cx="1053.6" cy="1196.8" r="7.45" fill="#fff" stroke="#ff8800" stroke-width="3.5"/>
<circle cx="1065.0" cy="1193.0" r="7.45" fill="#fff" stroke="#ff8800" stroke-width="3.5"/>
<circle cx="1076.4" cy="1188.3" r="7.45" fill="#fff" stroke="#ff8800" stroke-width="3.5"/>
<circle cx="1087.8" cy="1183.5" r="7.45" fill="#fff" stroke="#ff8800" stroke-width="3.5"/>
<circle cx="1099.2" cy="1176.1" r="7.45" fill="#fff" stroke="#ff8800" stroke-width="3.5"/>
<circle cx="1110.6" cy="1167.7" r="7.45" fill="#fff" stroke="#ff8800" stroke-width="3.5"/>
<circle cx="1122.0" cy="1155.3" r="7.45" fill="#fff" stroke="#ff8800" stroke-width="3.5"/>
<circle cx="1133.5" cy="1136.7" r="7.45" fill="#fff" stroke="#ff8800" stroke-width="3.5"/>
<circle cx="1145.6" cy="1093.3" r="7.45" fill="#fff" stroke="#ff8800" stroke-width="3.5"/>
<circle cx="1157.0" cy="989.5" r="7.45" fill="#fff" stroke="#ff8800" stroke-width="3.5"/>
<circle cx="1163.3" cy="930.5" r="7.45" fill="#fff" stroke="#ff8800" stroke-width="3.5"/>
<line x1="672.5" y1="1265.3" x2="664.0" y2="1265.3" stroke="#000" stroke-width="4.2"/>
<text x="659.5" y="1273.8" font-family="Liberation Sans, sans-serif" font-weight="bold" font-size="29" fill="#000" text-anchor="end" >0</text>
<line x1="672.5" y1="1211.8" x2="664.0" y2="1211.8" stroke="#000" stroke-width="4.2"/>
<text x="659.5" y="1220.3" font-family="Liberation Sans, sans-serif" font-weight="bold" font-size="29" fill="#000" text-anchor="end" >100</text>
<line x1="672.5" y1="1158.2" x2="664.0" y2="1158.2" stroke="#000" stroke-width="4.2"/>
<text x="659.5" y="1166.7" font-family="Liberation Sans, sans-serif" font-weight="bold" font-size="29" fill="#000" text-anchor="end" >200</text>
<line x1="672.5" y1="1104.7" x2="664.0" y2="1104.7" stroke="#000" stroke-width="4.2"/>
<text x="659.5" y="1113.2" font-family="Liberation Sans, sans-serif" font-weight="bold" font-size="29" fill="#000" text-anchor="end" >300</text>
<line x1="672.5" y1="1051.2" x2="664.0" y2="1051.2" stroke="#000" stroke-width="4.2"/>
<text x="659.5" y="1059.7" font-family="Liberation Sans, sans-serif" font-weight="bold" font-size="29" fill="#000" text-anchor="end" >400</text>
<line x1="672.5" y1="997.6" x2="664.0" y2="997.6" stroke="#000" stroke-width="4.2"/>
<text x="659.5" y="1006.1" font-family="Liberation Sans, sans-serif" font-weight="bold" font-size="29" fill="#000" text-anchor="end" >500</text>
<line x1="672.5" y1="944.1" x2="664.0" y2="944.1" stroke="#000" stroke-width="4.2"/>
<text x="659.5" y="952.6" font-family="Liberation Sans, sans-serif" font-weight="bold" font-size="29" fill="#000" text-anchor="end" >600</text>
<line x1="672.5" y1="890.6" x2="664.0" y2="890.6" stroke="#000" stroke-width="4.2"/>
<text x="659.5" y="899.1" font-family="Liberation Sans, sans-serif" font-weight="bold" font-size="29" fill="#000" text-anchor="end" >700</text>
<line x1="672.5" y1="1292.1" x2="668.0" y2="1292.1" stroke="#000" stroke-width="4.2"/>
<line x1="672.5" y1="1238.5" x2="668.0" y2="1238.5" stroke="#000" stroke-width="4.2"/>
<line x1="672.5" y1="1185.0" x2="668.0" y2="1185.0" stroke="#000" stroke-width="4.2"/>
<line x1="672.5" y1="1131.5" x2="668.0" y2="1131.5" stroke="#000" stroke-width="4.2"/>
<line x1="672.5" y1="1077.9" x2="668.0" y2="1077.9" stroke="#000" stroke-width="4.2"/>
<line x1="672.5" y1="1024.4" x2="668.0" y2="1024.4" stroke="#000" stroke-width="4.2"/>
<line x1="672.5" y1="970.9" x2="668.0" y2="970.9" stroke="#000" stroke-width="4.2"/>
<line x1="672.5" y1="917.4" x2="668.0" y2="917.4" stroke="#000" stroke-width="4.2"/>
<line x1="672.4" y1="1292" x2="672.4" y2="1300" stroke="#000" stroke-width="4.2"/>
<text x="672.4" y="1326.5" font-family="Liberation Sans, sans-serif" font-weight="bold" font-size="30" fill="#000" text-anchor="middle" >0,0</text>
<line x1="772.0" y1="1292" x2="772.0" y2="1300" stroke="#000" stroke-width="4.2"/>
<text x="772.0" y="1326.5" font-family="Liberation Sans, sans-serif" font-weight="bold" font-size="30" fill="#000" text-anchor="middle" >0,2</text>
<line x1="871.6" y1="1292" x2="871.6" y2="1300" stroke="#000" stroke-width="4.2"/>
<text x="871.6" y="1326.5" font-family="Liberation Sans, sans-serif" font-weight="bold" font-size="30" fill="#000" text-anchor="middle" >0,4</text>
<line x1="971.2" y1="1292" x2="971.2" y2="1300" stroke="#000" stroke-width="4.2"/>
<text x="971.2" y="1326.5" font-family="Liberation Sans, sans-serif" font-weight="bold" font-size="30" fill="#000" text-anchor="middle" >0,6</text>
<line x1="1070.8" y1="1292" x2="1070.8" y2="1300" stroke="#000" stroke-width="4.2"/>
<text x="1070.8" y="1326.5" font-family="Liberation Sans, sans-serif" font-weight="bold" font-size="30" fill="#000" text-anchor="middle" >0,8</text>
<line x1="1170.4" y1="1292" x2="1170.4" y2="1300" stroke="#000" stroke-width="4.2"/>
<text x="1170.4" y="1326.5" font-family="Liberation Sans, sans-serif" font-weight="bold" font-size="30" fill="#000" text-anchor="middle" >1,0</text>
<line x1="722.2" y1="1292" x2="722.2" y2="1296" stroke="#000" stroke-width="4.2"/>
<line x1="821.8" y1="1292" x2="821.8" y2="1296" stroke="#000" stroke-width="4.2"/>
<line x1="921.4" y1="1292" x2="921.4" y2="1296" stroke="#000" stroke-width="4.2"/>
<line x1="1021.0" y1="1292" x2="1021.0" y2="1296" stroke="#000" stroke-width="4.2"/>
<line x1="1120.6" y1="1292" x2="1120.6" y2="1296" stroke="#000" stroke-width="4.2"/>
<text x="927" y="1366" font-family="Liberation Sans, sans-serif" font-weight="bold" font-size="31" fill="#000" text-anchor="middle" >Relative pressure (P P<tspan font-size="14" dy="5">0</tspan><tspan font-size="15" font-weight="normal" dy="-20">-1</tspan><tspan dy="15">)</tspan></text>
<text x="0" y="0" font-family="Liberation Sans, sans-serif" font-weight="bold" font-size="31.5" fill="#000" text-anchor="middle" transform="translate(598.5 1086) rotate(-90) scale(1.0 1.0)" >V ads (cm<tspan font-size="16" font-weight="normal" dy="-15">3</tspan><tspan dy="15"> g</tspan><tspan font-size="16" font-weight="normal" dy="-15">-1</tspan><tspan dy="15">STP)</tspan></text>
<text x="591" y="864" font-family="Liberation Sans, sans-serif" font-weight="bold" font-size="36" fill="#000" text-anchor="start" >d)</text>
</svg>
</body></html>
